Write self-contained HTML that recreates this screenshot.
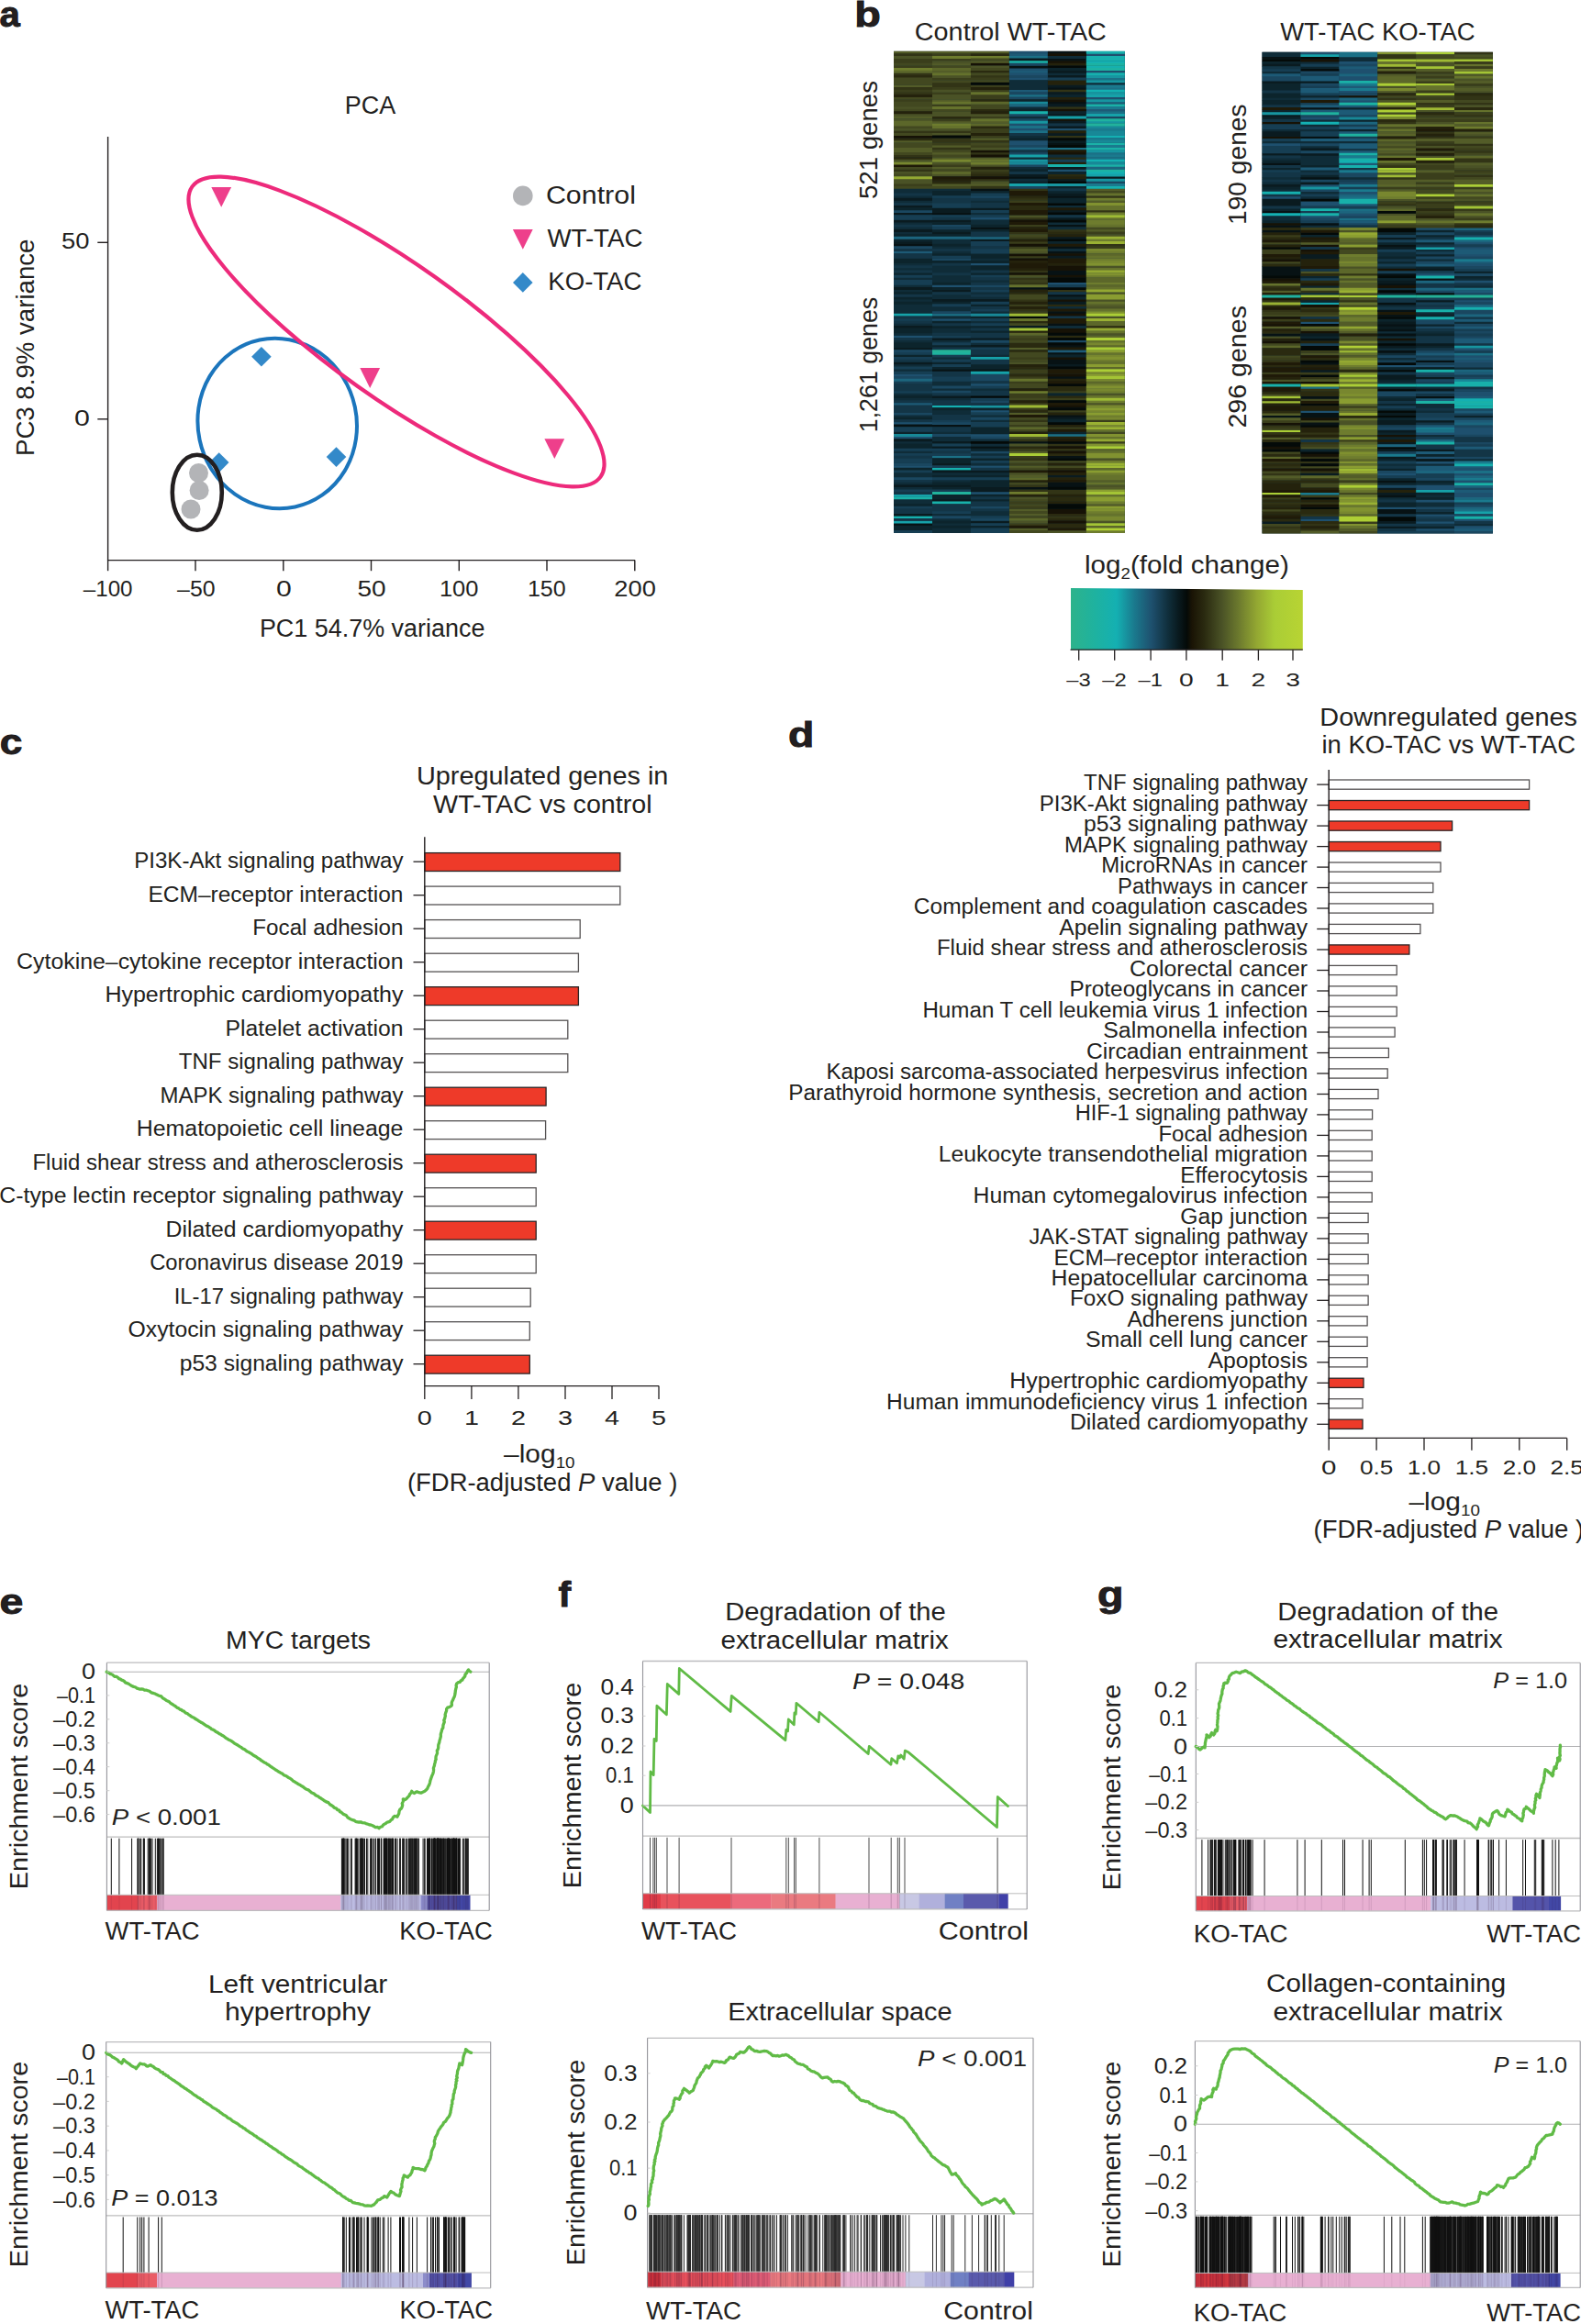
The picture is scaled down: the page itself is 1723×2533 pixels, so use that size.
<!DOCTYPE html>
<html lang="en"><head><meta charset="utf-8"><title>Figure</title>
<style>
html,body{margin:0;padding:0;background:#fff}
svg{display:block}
text{font-family:"Liberation Sans",sans-serif;fill:#231f20}
</style></head><body>
<svg width="1723" height="2533" viewBox="0 0 1723 2533">
<rect width="1723" height="2533" fill="#fff"/>
<text x="-0.5" y="29.2" font-size="38" textLength="22.3" lengthAdjust="spacingAndGlyphs" font-weight="bold" fill="#1a1718" stroke="#1a1718" stroke-width="0.9">a</text>
<text x="403.5" y="124.3" font-size="27" text-anchor="middle" textLength="55.5" lengthAdjust="spacingAndGlyphs">PCA</text>
<path d="M117.6 148.9V610.6H692" fill="none" stroke="#231f20" stroke-width="1.4"/>
<line x1="117.6" y1="610.6" x2="117.6" y2="622.2" stroke="#231f20" stroke-width="1.4"/>
<line x1="213.0" y1="610.6" x2="213.0" y2="622.2" stroke="#231f20" stroke-width="1.4"/>
<line x1="308.8" y1="610.6" x2="308.8" y2="622.2" stroke="#231f20" stroke-width="1.4"/>
<line x1="404.5" y1="610.6" x2="404.5" y2="622.2" stroke="#231f20" stroke-width="1.4"/>
<line x1="500.3" y1="610.6" x2="500.3" y2="622.2" stroke="#231f20" stroke-width="1.4"/>
<line x1="596.0" y1="610.6" x2="596.0" y2="622.2" stroke="#231f20" stroke-width="1.4"/>
<line x1="691.8" y1="610.6" x2="691.8" y2="622.2" stroke="#231f20" stroke-width="1.4"/>
<text x="90.8" y="649.6" font-size="23" textLength="53.7" lengthAdjust="spacingAndGlyphs">–100</text>
<text x="193.1" y="649.6" font-size="23" textLength="41.5" lengthAdjust="spacingAndGlyphs">–50</text>
<text x="300.9" y="649.6" font-size="23" textLength="16.8" lengthAdjust="spacingAndGlyphs">0</text>
<text x="389.4" y="649.6" font-size="23" textLength="31.2" lengthAdjust="spacingAndGlyphs">50</text>
<text x="478.9" y="649.6" font-size="23" textLength="42.5" lengthAdjust="spacingAndGlyphs">100</text>
<text x="574.9" y="649.6" font-size="23" textLength="41.7" lengthAdjust="spacingAndGlyphs">150</text>
<text x="669.3" y="649.6" font-size="23" textLength="45.5" lengthAdjust="spacingAndGlyphs">200</text>
<line x1="106.3" y1="264.3" x2="117.6" y2="264.3" stroke="#231f20" stroke-width="1.4"/>
<line x1="106.3" y1="456.8" x2="117.6" y2="456.8" stroke="#231f20" stroke-width="1.4"/>
<text x="67.1" y="271.3" font-size="23" textLength="30.5" lengthAdjust="spacingAndGlyphs">50</text>
<text x="81.0" y="464.2" font-size="23" textLength="16.9" lengthAdjust="spacingAndGlyphs">0</text>
<text x="282.9" y="693.5" font-size="27" textLength="245.5" lengthAdjust="spacingAndGlyphs">PC1 54.7% variance</text>
<text transform="translate(37.3 378.8) rotate(-90)" font-size="27" text-anchor="middle" textLength="236.5" lengthAdjust="spacingAndGlyphs">PC3 8.9% variance</text>
<path d="M230.3 204.0h21.8L241.2 225.8z" fill="#ee3f8b"/>
<path d="M392.3 401.1h21.8L403.2 422.9z" fill="#ee3f8b"/>
<path d="M593.4 478.3h21.8L604.3 500.1z" fill="#ee3f8b"/>
<path d="M274.1 388.8L284.9 378.0L295.7 388.8L284.9 399.6z" fill="#3389c9"/>
<path d="M355.7 498.1L366.5 487.3L377.3 498.1L366.5 508.9z" fill="#3389c9"/>
<path d="M227.9 504.1L238.7 493.3L249.5 504.1L238.7 514.9z" fill="#3389c9"/>
<circle cx="216.5" cy="515.5" r="10.5" fill="#b3b4b7"/>
<circle cx="217.1" cy="534.5" r="10.5" fill="#b3b4b7"/>
<circle cx="208.0" cy="555.0" r="10.5" fill="#b3b4b7"/>
<ellipse cx="302.2" cy="461.5" rx="86.5" ry="93" transform="rotate(-12 302.2 461.5)" fill="none" stroke="#1b75bc" stroke-width="4"/>
<ellipse cx="432" cy="361.5" rx="273" ry="73" transform="rotate(35.4 432 361.5)" fill="none" stroke="#ed2a7b" stroke-width="4.2"/>
<ellipse cx="214.8" cy="536.7" rx="27" ry="41" fill="none" stroke="#231f20" stroke-width="4.6"/>
<circle cx="569.8" cy="213.4" r="10.8" fill="#b3b4b7"/>
<path d="M558.9 250.0h21.8L569.8 271.8z" fill="#ee3f8b"/>
<path d="M559.0 307.9L569.8 297.1L580.6 307.9L569.8 318.7z" fill="#3389c9"/>
<text x="594.9" y="221.6" font-size="27" textLength="98.0" lengthAdjust="spacingAndGlyphs">Control</text>
<text x="596.4" y="269.0" font-size="27" textLength="104.0" lengthAdjust="spacingAndGlyphs">WT-TAC</text>
<text x="597.3" y="316.0" font-size="27" textLength="102.1" lengthAdjust="spacingAndGlyphs">KO-TAC</text>
<text x="931.2" y="28.5" font-size="38" textLength="28.6" lengthAdjust="spacingAndGlyphs" font-weight="bold" fill="#1a1718" stroke="#1a1718" stroke-width="0.9">b</text>
<text x="996.8" y="44.0" font-size="27" textLength="209.1" lengthAdjust="spacingAndGlyphs">Control WT-TAC</text>
<text x="1395.2" y="43.9" font-size="27" textLength="212.4" lengthAdjust="spacingAndGlyphs">WT-TAC KO-TAC</text>
<rect x="974.0" y="55.9" width="251.8" height="524.9" fill="#10303a"/>
<g fill="none" stroke-width="2.97">
<path stroke="#535c28" d="M974.0 57.21h42.0M1016.0 57.21h42.0M1057.9 57.21h42.0M1057.9 67.71h42.0M1016.0 70.33h42.0M1016.0 78.21h42.0M974.0 93.96h42.0M1016.0 109.70h42.0M974.0 128.07h42.0M1016.0 133.32h42.0M1057.9 133.32h42.0M1057.9 151.69h42.0M974.0 154.32h42.0M1016.0 159.57h42.0M974.0 162.19h42.0M974.0 164.82h42.0M1016.0 167.44h42.0M1016.0 172.69h42.0M1057.9 172.69h42.0M1016.0 183.19h42.0M1016.0 201.56h42.0M1057.9 201.56h42.0M1183.8 206.81h42.0M1183.8 219.93h42.0M1183.8 251.43h42.0M1099.9 272.42h42.0M1183.8 332.78h42.0M1099.9 380.03h42.0M1099.9 450.89h42.0M1099.9 492.88h42.0M1099.9 508.63h42.0M1099.9 519.12h42.0M1183.8 524.37h42.0M1183.8 532.25h42.0M1183.8 550.62h42.0M1099.9 555.87h42.0M1099.9 561.12h42.0M1099.9 576.86h42.0"/>
<path stroke="#1e506e" d="M1099.9 57.21h42.0M1183.8 59.84h42.0M1099.9 75.58h42.0M1183.8 78.21h42.0M1099.9 80.83h42.0M1099.9 86.08h42.0M1183.8 107.08h42.0M1099.9 135.95h42.0M1099.9 141.20h42.0M1141.9 141.20h42.0M1099.9 154.32h42.0M1099.9 156.94h42.0M1141.9 185.81h42.0M1057.9 238.30h42.0M1057.9 288.17h42.0M1141.9 309.16h42.0M1016.0 311.79h42.0M1016.0 348.53h42.0M974.0 366.90h42.0M974.0 408.90h42.0M1057.9 419.39h42.0M1057.9 448.26h42.0M974.0 461.39h42.0M1057.9 474.51h42.0M974.0 477.13h42.0M974.0 508.63h42.0M1057.9 508.63h42.0M1057.9 537.50h42.0"/>
<path stroke="#071214" d="M1141.9 57.21h42.0M1141.9 65.09h42.0M1099.9 72.96h42.0M1141.9 96.58h42.0M1141.9 112.33h42.0M1141.9 156.94h42.0M1099.9 193.69h42.0M1057.9 206.81h42.0M1141.9 214.68h42.0M1016.0 233.05h42.0M1141.9 246.18h42.0M1057.9 248.80h42.0M974.0 267.17h42.0M1141.9 269.80h42.0M1141.9 275.05h42.0M1141.9 296.04h42.0M1141.9 298.67h42.0M1099.9 314.41h42.0M1141.9 322.29h42.0M1141.9 340.66h42.0M1141.9 353.78h42.0M1141.9 377.40h42.0M1141.9 385.27h42.0M1141.9 393.15h42.0M1141.9 395.77h42.0M1016.0 403.65h42.0M1057.9 403.65h42.0M1141.9 411.52h42.0M1141.9 453.51h42.0M974.0 464.01h42.0M1016.0 464.01h42.0M1099.9 482.38h42.0M1057.9 487.63h42.0M1141.9 498.13h42.0M1141.9 527.00h42.0M1141.9 529.62h42.0M1099.9 532.25h42.0M974.0 571.61h42.0"/>
<path stroke="#16b0ae" d="M1183.8 57.21h42.0M1183.8 62.46h42.0M1183.8 65.09h42.0M1183.8 72.96h42.0M1183.8 80.83h42.0M1183.8 204.18h42.0M1016.0 511.25h42.0M974.0 563.74h42.0"/>
<path stroke="#323416" d="M974.0 59.84h42.0M974.0 80.83h42.0M1057.9 83.46h42.0M1016.0 91.33h42.0M1016.0 93.96h42.0M974.0 96.58h42.0M1141.9 99.20h42.0M974.0 101.83h42.0M1141.9 117.58h42.0M974.0 143.82h42.0M1016.0 143.82h42.0M1141.9 149.07h42.0M1016.0 151.69h42.0M1016.0 154.32h42.0M1057.9 154.32h42.0M1016.0 162.19h42.0M1057.9 167.44h42.0M974.0 170.07h42.0M974.0 185.81h42.0M1057.9 188.44h42.0M1057.9 196.31h42.0M1057.9 204.18h42.0M1099.9 206.81h42.0M1183.8 214.68h42.0M1099.9 217.31h42.0M1183.8 230.43h42.0M1099.9 238.30h42.0M1141.9 251.43h42.0M1099.9 254.05h42.0M1183.8 267.17h42.0M1099.9 296.04h42.0M1099.9 303.92h42.0M1099.9 309.16h42.0M1141.9 317.04h42.0M1099.9 327.54h42.0M1099.9 338.03h42.0M1099.9 458.76h42.0M1099.9 479.76h42.0M1141.9 485.01h42.0M1141.9 490.25h42.0M1099.9 500.75h42.0M1099.9 529.62h42.0M1099.9 534.87h42.0M1141.9 534.87h42.0M1141.9 537.50h42.0M1141.9 563.74h42.0"/>
<path stroke="#3a3e1b" d="M1016.0 59.84h42.0M974.0 65.09h42.0M1016.0 65.09h42.0M974.0 67.71h42.0M974.0 72.96h42.0M1016.0 86.08h42.0M1057.9 86.08h42.0M1057.9 93.96h42.0M1016.0 96.58h42.0M974.0 99.20h42.0M1057.9 99.20h42.0M1016.0 101.83h42.0M1057.9 104.45h42.0M1057.9 107.08h42.0M974.0 109.70h42.0M1016.0 114.95h42.0M1057.9 128.07h42.0M1016.0 130.70h42.0M1057.9 141.20h42.0M1057.9 143.82h42.0M1057.9 149.07h42.0M1016.0 156.94h42.0M1057.9 159.57h42.0M1016.0 180.56h42.0M1057.9 185.81h42.0M974.0 201.56h42.0M1099.9 219.93h42.0M1099.9 246.18h42.0M1183.8 254.05h42.0M1099.9 259.30h42.0M1099.9 264.55h42.0M1099.9 269.80h42.0M1183.8 269.80h42.0M1099.9 280.29h42.0M1099.9 306.54h42.0M1099.9 332.78h42.0M1099.9 340.66h42.0M1099.9 369.53h42.0M1099.9 390.52h42.0M1099.9 403.65h42.0M1099.9 406.27h42.0M1099.9 411.52h42.0M1099.9 416.77h42.0M1141.9 427.27h42.0M1099.9 429.89h42.0M1099.9 432.52h42.0M1141.9 435.14h42.0M1099.9 440.39h42.0M1099.9 445.64h42.0M1141.9 448.26h42.0M1183.8 458.76h42.0M1099.9 464.01h42.0M1141.9 466.63h42.0M1183.8 482.38h42.0M1099.9 490.25h42.0M1099.9 498.13h42.0M1099.9 506.00h42.0M1099.9 547.99h42.0M1099.9 553.24h42.0M1099.9 571.61h42.0"/>
<path stroke="#2a2a10" d="M1057.9 59.84h42.0M1057.9 78.21h42.0M974.0 83.46h42.0M1057.9 109.70h42.0M1057.9 120.20h42.0M1016.0 128.07h42.0M1057.9 138.57h42.0M974.0 151.69h42.0M974.0 172.69h42.0M1141.9 172.69h42.0M1057.9 191.06h42.0M1141.9 191.06h42.0M1016.0 198.94h42.0M1099.9 214.68h42.0M1099.9 225.18h42.0M1099.9 227.80h42.0M1141.9 254.05h42.0M1099.9 319.66h42.0M1141.9 332.78h42.0M1099.9 351.16h42.0M1183.8 356.41h42.0M1141.9 366.90h42.0M1099.9 374.78h42.0M1099.9 377.40h42.0M1099.9 382.65h42.0M1099.9 401.02h42.0M1099.9 408.90h42.0M1141.9 422.02h42.0M1141.9 424.64h42.0M1141.9 432.52h42.0M1099.9 448.26h42.0M1099.9 487.63h42.0M1141.9 495.50h42.0M1141.9 511.25h42.0M1141.9 542.74h42.0M1141.9 545.37h42.0M1141.9 561.12h42.0M1141.9 566.37h42.0M1141.9 571.61h42.0M1141.9 574.24h42.0"/>
<path stroke="#1d5a76" d="M1099.9 59.84h42.0M1099.9 78.21h42.0M1099.9 99.20h42.0M1183.8 112.33h42.0M1183.8 120.20h42.0M974.0 275.05h42.0M1141.9 382.65h42.0M974.0 440.39h42.0"/>
<path stroke="#161206" d="M1141.9 59.84h42.0M1141.9 67.71h42.0M1057.9 70.33h42.0M1141.9 109.70h42.0M1141.9 120.20h42.0M1141.9 130.70h42.0M974.0 149.07h42.0M1057.9 164.82h42.0M1141.9 167.44h42.0M1057.9 170.07h42.0M1057.9 193.69h42.0M1099.9 240.93h42.0M1099.9 267.17h42.0M1099.9 277.67h42.0M1141.9 277.67h42.0M1099.9 282.92h42.0M1141.9 290.79h42.0M1141.9 293.42h42.0M1099.9 298.67h42.0M1141.9 301.29h42.0M1141.9 327.54h42.0M1141.9 343.28h42.0M1141.9 359.03h42.0M1141.9 361.65h42.0M1141.9 390.52h42.0M1141.9 408.90h42.0M1141.9 443.01h42.0M1141.9 487.63h42.0M1141.9 492.88h42.0M1141.9 513.88h42.0M1141.9 555.87h42.0M1141.9 558.49h42.0M1141.9 568.99h42.0"/>
<path stroke="#4a5226" d="M974.0 62.46h42.0M1016.0 67.71h42.0M1057.9 72.96h42.0M1016.0 83.46h42.0M1016.0 99.20h42.0M1016.0 104.45h42.0M1016.0 107.08h42.0M974.0 117.58h42.0M1016.0 122.82h42.0M974.0 125.45h42.0M1016.0 125.45h42.0M1057.9 125.45h42.0M974.0 130.70h42.0M974.0 141.20h42.0M1016.0 141.20h42.0M1016.0 146.45h42.0M1057.9 162.19h42.0M974.0 175.31h42.0M1016.0 177.94h42.0M1057.9 180.56h42.0M974.0 188.44h42.0M1016.0 191.06h42.0M974.0 196.31h42.0M974.0 198.94h42.0M1057.9 198.94h42.0M1099.9 235.68h42.0M1183.8 256.67h42.0M1099.9 275.05h42.0M1183.8 290.79h42.0M1099.9 301.29h42.0M1183.8 319.66h42.0M1183.8 327.54h42.0M1183.8 335.41h42.0M1183.8 345.91h42.0M1183.8 364.28h42.0M1099.9 395.77h42.0M1183.8 429.89h42.0M1183.8 440.39h42.0M1099.9 461.39h42.0M1099.9 477.13h42.0M1099.9 485.01h42.0M1183.8 500.75h42.0M1099.9 503.38h42.0M1099.9 516.50h42.0M1183.8 529.62h42.0M1099.9 542.74h42.0M1099.9 568.99h42.0M1183.8 568.99h42.0M1141.9 579.49h42.0"/>
<path stroke="#6e7c2e" d="M1016.0 62.46h42.0M1057.9 62.46h42.0M974.0 75.58h42.0M1016.0 135.95h42.0M1057.9 177.94h42.0M1183.8 217.31h42.0M1183.8 233.05h42.0M1183.8 240.93h42.0M1183.8 243.55h42.0M1183.8 261.92h42.0M1183.8 275.05h42.0M1183.8 282.92h42.0M1183.8 301.29h42.0M1183.8 309.16h42.0M1183.8 393.15h42.0M1183.8 419.39h42.0M1099.9 427.27h42.0M1183.8 427.27h42.0M1183.8 437.76h42.0M1183.8 453.51h42.0M1183.8 503.38h42.0M1183.8 516.50h42.0M1099.9 537.50h42.0M1183.8 547.99h42.0M1183.8 558.49h42.0M1183.8 579.49h42.0"/>
<path stroke="#1b7086" d="M1099.9 62.46h42.0M1183.8 86.08h42.0M1183.8 96.58h42.0M1099.9 104.45h42.0M1183.8 122.82h42.0M1099.9 138.57h42.0M1099.9 143.82h42.0M1141.9 162.19h42.0M1183.8 167.44h42.0M1183.8 172.69h42.0M1016.0 343.28h42.0M1141.9 474.51h42.0M1016.0 498.13h42.0"/>
<path stroke="#0f2c38" d="M1141.9 62.46h42.0M1141.9 80.83h42.0M1099.9 88.71h42.0M1099.9 91.33h42.0M1183.8 91.33h42.0M1099.9 93.96h42.0M1099.9 96.58h42.0M1099.9 117.58h42.0M1099.9 128.07h42.0M1099.9 149.07h42.0M1141.9 170.07h42.0M1099.9 172.69h42.0M1099.9 183.19h42.0M1099.9 196.31h42.0M974.0 206.81h42.0M1016.0 206.81h42.0M974.0 209.43h42.0M974.0 214.68h42.0M974.0 219.93h42.0M1057.9 219.93h42.0M1141.9 225.18h42.0M1057.9 233.05h42.0M1057.9 240.93h42.0M974.0 243.55h42.0M1057.9 243.55h42.0M1141.9 243.55h42.0M974.0 248.80h42.0M1141.9 248.80h42.0M974.0 254.05h42.0M1016.0 261.92h42.0M1016.0 264.55h42.0M1016.0 269.80h42.0M1141.9 272.42h42.0M1016.0 275.05h42.0M1057.9 282.92h42.0M974.0 288.17h42.0M1016.0 290.79h42.0M974.0 293.42h42.0M1016.0 293.42h42.0M1016.0 296.04h42.0M1016.0 301.29h42.0M974.0 303.92h42.0M1016.0 303.92h42.0M1016.0 306.54h42.0M1057.9 306.54h42.0M974.0 311.79h42.0M974.0 317.04h42.0M1057.9 319.66h42.0M1016.0 322.29h42.0M1016.0 324.91h42.0M1057.9 324.91h42.0M974.0 327.54h42.0M974.0 332.78h42.0M974.0 335.41h42.0M1016.0 335.41h42.0M1141.9 335.41h42.0M974.0 338.03h42.0M1016.0 338.03h42.0M974.0 340.66h42.0M1057.9 340.66h42.0M1016.0 345.91h42.0M1057.9 351.16h42.0M974.0 353.78h42.0M1141.9 356.41h42.0M1016.0 359.03h42.0M1016.0 361.65h42.0M974.0 364.28h42.0M974.0 372.15h42.0M1016.0 372.15h42.0M1057.9 374.78h42.0M1057.9 387.90h42.0M1016.0 390.52h42.0M974.0 398.40h42.0M974.0 403.65h42.0M1016.0 416.77h42.0M1016.0 419.39h42.0M1016.0 424.64h42.0M1057.9 424.64h42.0M974.0 429.89h42.0M974.0 435.14h42.0M1016.0 435.14h42.0M1016.0 448.26h42.0M1016.0 450.89h42.0M974.0 453.51h42.0M1057.9 453.51h42.0M1057.9 458.76h42.0M1016.0 471.88h42.0M1016.0 477.13h42.0M1016.0 479.76h42.0M1057.9 479.76h42.0M974.0 482.38h42.0M1057.9 485.01h42.0M974.0 492.88h42.0M1057.9 495.50h42.0M1057.9 506.00h42.0M974.0 516.50h42.0M1016.0 516.50h42.0M1057.9 516.50h42.0M974.0 519.12h42.0M1016.0 524.37h42.0M974.0 527.00h42.0M974.0 532.25h42.0M974.0 545.37h42.0M974.0 547.99h42.0M1057.9 558.49h42.0M1016.0 561.12h42.0M1057.9 561.12h42.0M1016.0 566.37h42.0M1016.0 571.61h42.0M1016.0 576.86h42.0M1016.0 579.49h42.0"/>
<path stroke="#424820" d="M1057.9 65.09h42.0M974.0 70.33h42.0M1016.0 72.96h42.0M1057.9 75.58h42.0M1057.9 80.83h42.0M974.0 86.08h42.0M974.0 88.71h42.0M1016.0 88.71h42.0M1057.9 88.71h42.0M974.0 91.33h42.0M974.0 107.08h42.0M974.0 112.33h42.0M974.0 114.95h42.0M1057.9 114.95h42.0M1057.9 117.58h42.0M974.0 120.20h42.0M1016.0 120.20h42.0M974.0 138.57h42.0M974.0 146.45h42.0M974.0 156.94h42.0M1057.9 156.94h42.0M974.0 159.57h42.0M1016.0 164.82h42.0M974.0 167.44h42.0M1016.0 170.07h42.0M974.0 183.19h42.0M1016.0 185.81h42.0M974.0 191.06h42.0M974.0 204.18h42.0M1016.0 204.18h42.0M1183.8 209.43h42.0M1183.8 248.80h42.0M1099.9 256.67h42.0M1099.9 322.29h42.0M1099.9 324.91h42.0M1099.9 353.78h42.0M1099.9 366.90h42.0M1099.9 372.15h42.0M1099.9 385.27h42.0M1099.9 387.90h42.0M1099.9 393.15h42.0M1099.9 419.39h42.0M1099.9 422.02h42.0M1099.9 435.14h42.0M1099.9 456.14h42.0M1099.9 469.26h42.0M1183.8 471.88h42.0M1141.9 503.38h42.0M1141.9 508.63h42.0M1099.9 511.25h42.0M1099.9 527.00h42.0M1099.9 545.37h42.0M1099.9 550.62h42.0M1099.9 558.49h42.0M1099.9 563.74h42.0M1099.9 579.49h42.0"/>
<path stroke="#0a1b20" d="M1099.9 65.09h42.0M1141.9 78.21h42.0M1141.9 83.46h42.0M1141.9 93.96h42.0M1141.9 101.83h42.0M1141.9 114.95h42.0M1141.9 125.45h42.0M1141.9 133.32h42.0M1141.9 138.57h42.0M1141.9 146.45h42.0M1141.9 154.32h42.0M1141.9 183.19h42.0M1099.9 191.06h42.0M1183.8 193.69h42.0M1141.9 196.31h42.0M1141.9 212.06h42.0M974.0 217.31h42.0M974.0 225.18h42.0M1016.0 227.80h42.0M1057.9 227.80h42.0M1016.0 230.43h42.0M1141.9 230.43h42.0M974.0 233.05h42.0M1141.9 238.30h42.0M974.0 240.93h42.0M1016.0 240.93h42.0M974.0 251.43h42.0M1016.0 254.05h42.0M1141.9 259.30h42.0M1057.9 261.92h42.0M974.0 264.55h42.0M1141.9 280.29h42.0M974.0 314.41h42.0M1016.0 317.04h42.0M1016.0 327.54h42.0M1057.9 327.54h42.0M1141.9 330.16h42.0M974.0 356.41h42.0M1099.9 356.41h42.0M1016.0 369.53h42.0M1057.9 369.53h42.0M1057.9 377.40h42.0M974.0 380.03h42.0M974.0 395.77h42.0M1141.9 398.40h42.0M1016.0 432.52h42.0M1141.9 456.14h42.0M974.0 479.76h42.0M1016.0 482.38h42.0M1016.0 487.63h42.0M1016.0 506.00h42.0M1016.0 513.88h42.0M1057.9 513.88h42.0M1141.9 519.12h42.0M974.0 529.62h42.0M1016.0 529.62h42.0M1057.9 532.25h42.0M1057.9 534.87h42.0M1016.0 545.37h42.0M974.0 561.12h42.0M1057.9 568.99h42.0"/>
<path stroke="#1ab1a7" d="M1099.9 67.71h42.0M1183.8 114.95h42.0M1183.8 156.94h42.0M1183.8 162.19h42.0M1183.8 180.56h42.0M974.0 542.74h42.0"/>
<path stroke="#14b0b2" d="M1183.8 67.71h42.0M1183.8 99.20h42.0M1183.8 149.07h42.0M1183.8 175.31h42.0M1183.8 188.44h42.0M1016.0 443.01h42.0"/>
<path stroke="#1a4760" d="M1099.9 70.33h42.0M1099.9 83.46h42.0M1099.9 101.83h42.0M1099.9 107.08h42.0M1099.9 125.45h42.0M1183.8 128.07h42.0M1099.9 130.70h42.0M1099.9 159.57h42.0M1099.9 167.44h42.0M1099.9 180.56h42.0M1183.8 198.94h42.0M1099.9 204.18h42.0M1057.9 214.68h42.0M974.0 230.43h42.0M1016.0 246.18h42.0M974.0 269.80h42.0M1016.0 282.92h42.0M1057.9 311.79h42.0M1016.0 340.66h42.0M1057.9 372.15h42.0M1141.9 372.15h42.0M974.0 382.65h42.0M1057.9 408.90h42.0M974.0 411.52h42.0M1057.9 411.52h42.0M1057.9 414.14h42.0M1016.0 422.02h42.0M1016.0 427.27h42.0M1057.9 437.76h42.0M974.0 450.89h42.0M1057.9 456.14h42.0M1016.0 461.39h42.0M1016.0 474.51h42.0M1057.9 477.13h42.0M1057.9 492.88h42.0M974.0 506.00h42.0M974.0 521.75h42.0M1057.9 553.24h42.0M1016.0 563.74h42.0M1057.9 566.37h42.0"/>
<path stroke="#24220c" d="M1141.9 70.33h42.0M1141.9 88.71h42.0M1141.9 91.33h42.0M1057.9 96.58h42.0M974.0 104.45h42.0M1141.9 107.08h42.0M974.0 122.82h42.0M1057.9 122.82h42.0M1141.9 143.82h42.0M1057.9 146.45h42.0M1141.9 177.94h42.0M1057.9 183.19h42.0M1141.9 193.69h42.0M1016.0 196.31h42.0M1099.9 248.80h42.0M1141.9 256.67h42.0M1099.9 261.92h42.0M1099.9 285.54h42.0M1141.9 288.17h42.0M1099.9 293.42h42.0M1099.9 317.04h42.0M1099.9 330.16h42.0M1099.9 335.41h42.0M1099.9 361.65h42.0M1099.9 398.40h42.0M1141.9 414.14h42.0M1099.9 424.64h42.0M1099.9 437.76h42.0M1141.9 450.89h42.0M1141.9 464.01h42.0M1099.9 471.88h42.0M1141.9 477.13h42.0M1141.9 506.00h42.0M1141.9 516.50h42.0M1141.9 521.75h42.0M1099.9 524.37h42.0M1099.9 540.12h42.0M1141.9 540.12h42.0M1141.9 547.99h42.0"/>
<path stroke="#1cb2a3" d="M1183.8 70.33h42.0M1183.8 75.58h42.0M1183.8 185.81h42.0"/>
<path stroke="#040a08" d="M1141.9 72.96h42.0M1057.9 91.33h42.0M1016.0 149.07h42.0M1141.9 151.69h42.0M1141.9 159.57h42.0M1141.9 198.94h42.0M1141.9 222.56h42.0M1141.9 233.05h42.0M1141.9 240.93h42.0M1141.9 261.92h42.0M1141.9 303.92h42.0M1141.9 306.54h42.0M1141.9 314.41h42.0M1099.9 345.91h42.0M1141.9 364.28h42.0M1141.9 369.53h42.0M1141.9 374.78h42.0M1141.9 401.02h42.0M1141.9 419.39h42.0M1057.9 432.52h42.0M1141.9 437.76h42.0M1141.9 445.64h42.0M1141.9 461.39h42.0M1057.9 482.38h42.0M1141.9 482.38h42.0M1141.9 500.75h42.0M1141.9 532.25h42.0M1141.9 550.62h42.0M1141.9 553.24h42.0"/>
<path stroke="#5c672a" d="M1016.0 75.58h42.0M974.0 78.21h42.0M1057.9 112.33h42.0M974.0 133.32h42.0M974.0 135.95h42.0M1057.9 135.95h42.0M1016.0 188.44h42.0M1183.8 277.67h42.0M1183.8 303.92h42.0M1183.8 306.54h42.0M1183.8 311.79h42.0M1183.8 351.16h42.0M1183.8 353.78h42.0M1099.9 364.28h42.0M1183.8 366.90h42.0M1183.8 377.40h42.0M1183.8 401.02h42.0M1183.8 416.77h42.0M1099.9 466.63h42.0M1183.8 490.25h42.0M1183.8 511.25h42.0M1099.9 521.75h42.0M1099.9 566.37h42.0M1183.8 574.24h42.0"/>
<path stroke="#0c242c" d="M1141.9 75.58h42.0M1141.9 104.45h42.0M1099.9 109.70h42.0M1099.9 120.20h42.0M1141.9 122.82h42.0M1099.9 151.69h42.0M1099.9 185.81h42.0M1141.9 188.44h42.0M1099.9 198.94h42.0M1141.9 204.18h42.0M1016.0 209.43h42.0M1057.9 209.43h42.0M1141.9 209.43h42.0M1016.0 212.06h42.0M1141.9 217.31h42.0M1141.9 219.93h42.0M974.0 227.80h42.0M1016.0 243.55h42.0M1057.9 246.18h42.0M1016.0 251.43h42.0M1057.9 251.43h42.0M974.0 256.67h42.0M1016.0 256.67h42.0M974.0 261.92h42.0M1141.9 264.55h42.0M1016.0 267.17h42.0M1016.0 277.67h42.0M1057.9 277.67h42.0M1057.9 280.29h42.0M974.0 282.92h42.0M974.0 285.54h42.0M1016.0 285.54h42.0M1057.9 285.54h42.0M1057.9 290.79h42.0M1057.9 293.42h42.0M974.0 298.67h42.0M1057.9 298.67h42.0M1016.0 309.16h42.0M1016.0 314.41h42.0M974.0 319.66h42.0M974.0 324.91h42.0M1141.9 324.91h42.0M974.0 330.16h42.0M1016.0 330.16h42.0M1057.9 332.78h42.0M1057.9 345.91h42.0M1016.0 351.16h42.0M1016.0 356.41h42.0M1057.9 356.41h42.0M974.0 359.03h42.0M974.0 361.65h42.0M1057.9 361.65h42.0M974.0 374.78h42.0M974.0 377.40h42.0M1016.0 377.40h42.0M974.0 387.90h42.0M1141.9 387.90h42.0M1016.0 395.77h42.0M1057.9 398.40h42.0M1016.0 401.02h42.0M1057.9 401.02h42.0M1141.9 429.89h42.0M974.0 432.52h42.0M1016.0 445.64h42.0M1057.9 445.64h42.0M974.0 456.14h42.0M1141.9 458.76h42.0M1057.9 466.63h42.0M1057.9 469.26h42.0M974.0 471.88h42.0M1057.9 471.88h42.0M1141.9 471.88h42.0M974.0 485.01h42.0M974.0 487.63h42.0M1057.9 490.25h42.0M1016.0 500.75h42.0M1057.9 500.75h42.0M1016.0 503.38h42.0M974.0 511.25h42.0M1016.0 519.12h42.0M1057.9 519.12h42.0M1057.9 524.37h42.0M1016.0 527.00h42.0M1057.9 527.00h42.0M1057.9 529.62h42.0M1016.0 532.25h42.0M1016.0 540.12h42.0M1057.9 540.12h42.0M1016.0 542.74h42.0M1057.9 545.37h42.0M974.0 550.62h42.0M1016.0 568.99h42.0M974.0 574.24h42.0M1016.0 574.24h42.0M1057.9 574.24h42.0M974.0 576.86h42.0"/>
<path stroke="#65722c" d="M1016.0 80.83h42.0M1057.9 101.83h42.0M1016.0 112.33h42.0M1016.0 117.58h42.0M1057.9 130.70h42.0M1016.0 138.57h42.0M1057.9 175.31h42.0M1183.8 212.06h42.0M1183.8 225.18h42.0M1183.8 227.80h42.0M1183.8 238.30h42.0M1183.8 246.18h42.0M1183.8 280.29h42.0M1183.8 293.42h42.0M1099.9 311.79h42.0M1183.8 314.41h42.0M1183.8 330.16h42.0M1183.8 338.03h42.0M1099.9 348.53h42.0M1183.8 361.65h42.0M1183.8 372.15h42.0M1183.8 385.27h42.0M1183.8 395.77h42.0M1099.9 414.14h42.0M1183.8 432.52h42.0M1183.8 469.26h42.0M1183.8 477.13h42.0M1183.8 492.88h42.0M1183.8 519.12h42.0M1183.8 521.75h42.0M1183.8 527.00h42.0M1183.8 540.12h42.0M1183.8 561.12h42.0"/>
<path stroke="#1795a0" d="M1183.8 83.46h42.0M1183.8 88.71h42.0M1183.8 101.83h42.0M1183.8 109.70h42.0M1099.9 133.32h42.0M1183.8 133.32h42.0M1183.8 164.82h42.0M1099.9 175.31h42.0M1183.8 196.31h42.0M1141.9 201.56h42.0M1057.9 443.01h42.0"/>
<path stroke="#163e53" d="M1141.9 86.08h42.0M1141.9 175.31h42.0M1057.9 212.06h42.0M1016.0 214.68h42.0M1016.0 222.56h42.0M1016.0 225.18h42.0M1057.9 230.43h42.0M974.0 235.68h42.0M1016.0 235.68h42.0M1057.9 235.68h42.0M974.0 238.30h42.0M1016.0 248.80h42.0M1057.9 264.55h42.0M1057.9 267.17h42.0M1057.9 272.42h42.0M1057.9 275.05h42.0M1016.0 280.29h42.0M974.0 301.29h42.0M1057.9 301.29h42.0M974.0 306.54h42.0M974.0 309.16h42.0M1141.9 311.79h42.0M1057.9 317.04h42.0M1057.9 330.16h42.0M1016.0 332.78h42.0M1057.9 338.03h42.0M974.0 348.53h42.0M1057.9 348.53h42.0M1057.9 353.78h42.0M1016.0 366.90h42.0M1016.0 374.78h42.0M1057.9 380.03h42.0M974.0 385.27h42.0M1016.0 387.90h42.0M974.0 390.52h42.0M1016.0 393.15h42.0M1016.0 398.40h42.0M974.0 401.02h42.0M974.0 406.27h42.0M1016.0 411.52h42.0M1016.0 414.14h42.0M974.0 416.77h42.0M1057.9 422.02h42.0M974.0 427.27h42.0M1057.9 435.14h42.0M1057.9 450.89h42.0M1016.0 458.76h42.0M1057.9 461.39h42.0M1057.9 464.01h42.0M974.0 466.63h42.0M974.0 469.26h42.0M1016.0 485.01h42.0M974.0 490.25h42.0M1016.0 490.25h42.0M974.0 495.50h42.0M1016.0 495.50h42.0M1057.9 498.13h42.0M974.0 500.75h42.0M974.0 503.38h42.0M1057.9 503.38h42.0M1016.0 508.63h42.0M974.0 513.88h42.0M1016.0 521.75h42.0M1057.9 521.75h42.0M974.0 534.87h42.0M1016.0 534.87h42.0M974.0 553.24h42.0M1016.0 558.49h42.0M1057.9 563.74h42.0M1057.9 571.61h42.0M1057.9 576.86h42.0M974.0 579.49h42.0M1057.9 579.49h42.0"/>
<path stroke="#1a7a8e" d="M1183.8 93.96h42.0M1183.8 117.58h42.0M1183.8 141.20h42.0M1183.8 151.69h42.0M1183.8 159.57h42.0M1183.8 170.07h42.0M1183.8 201.56h42.0"/>
<path stroke="#16a2a9" d="M1183.8 104.45h42.0M1183.8 125.45h42.0M1141.9 128.07h42.0M1099.9 170.07h42.0M1183.8 191.06h42.0M1099.9 201.56h42.0M974.0 343.28h42.0M1057.9 390.52h42.0M1057.9 406.27h42.0M974.0 540.12h42.0M974.0 568.99h42.0"/>
<path stroke="#188897" d="M1099.9 112.33h42.0M1183.8 138.57h42.0M1183.8 143.82h42.0M1183.8 146.45h42.0M1183.8 154.32h42.0M1099.9 177.94h42.0M1183.8 177.94h42.0M1057.9 343.28h42.0M974.0 474.51h42.0"/>
<path stroke="#1c657e" d="M1099.9 114.95h42.0M1099.9 162.19h42.0M1183.8 183.19h42.0M974.0 259.30h42.0M1016.0 259.30h42.0M1057.9 259.30h42.0M974.0 414.14h42.0"/>
<path stroke="#18b1aa" d="M1099.9 122.82h42.0M1141.9 180.56h42.0M1016.0 547.99h42.0"/>
<path stroke="#1fb29f" d="M1183.8 130.70h42.0M1016.0 385.27h42.0"/>
<path stroke="#133546" d="M1141.9 135.95h42.0M1099.9 146.45h42.0M1099.9 164.82h42.0M1099.9 188.44h42.0M1141.9 206.81h42.0M974.0 212.06h42.0M1016.0 217.31h42.0M1057.9 217.31h42.0M1016.0 219.93h42.0M974.0 222.56h42.0M1057.9 222.56h42.0M1057.9 225.18h42.0M1141.9 235.68h42.0M1016.0 238.30h42.0M974.0 246.18h42.0M1057.9 254.05h42.0M1057.9 256.67h42.0M1057.9 269.80h42.0M974.0 272.42h42.0M1016.0 272.42h42.0M974.0 277.67h42.0M974.0 280.29h42.0M1016.0 288.17h42.0M974.0 290.79h42.0M974.0 296.04h42.0M1057.9 296.04h42.0M1016.0 298.67h42.0M1057.9 303.92h42.0M1057.9 309.16h42.0M1057.9 314.41h42.0M1016.0 319.66h42.0M1141.9 319.66h42.0M974.0 322.29h42.0M1057.9 322.29h42.0M1057.9 335.41h42.0M974.0 345.91h42.0M1141.9 345.91h42.0M974.0 351.16h42.0M1016.0 353.78h42.0M1057.9 359.03h42.0M1016.0 364.28h42.0M1057.9 364.28h42.0M1057.9 366.90h42.0M974.0 369.53h42.0M1016.0 380.03h42.0M1057.9 382.65h42.0M1057.9 385.27h42.0M974.0 393.15h42.0M1057.9 393.15h42.0M1057.9 395.77h42.0M1016.0 406.27h42.0M1016.0 408.90h42.0M1057.9 416.77h42.0M974.0 419.39h42.0M974.0 422.02h42.0M974.0 424.64h42.0M1057.9 427.27h42.0M1016.0 429.89h42.0M1057.9 429.89h42.0M974.0 437.76h42.0M1016.0 437.76h42.0M1016.0 440.39h42.0M1057.9 440.39h42.0M974.0 443.01h42.0M974.0 445.64h42.0M974.0 448.26h42.0M1016.0 453.51h42.0M1016.0 456.14h42.0M974.0 458.76h42.0M1016.0 466.63h42.0M1016.0 469.26h42.0M1016.0 492.88h42.0M974.0 498.13h42.0M1057.9 511.25h42.0M974.0 524.37h42.0M974.0 537.50h42.0M1057.9 542.74h42.0M1057.9 547.99h42.0M1016.0 550.62h42.0M1057.9 550.62h42.0M1016.0 553.24h42.0M974.0 555.87h42.0M1016.0 555.87h42.0M1057.9 555.87h42.0M974.0 558.49h42.0M974.0 566.37h42.0"/>
<path stroke="#21b29c" d="M1183.8 135.95h42.0M1016.0 537.50h42.0"/>
<path stroke="#1f1a08" d="M1141.9 164.82h42.0M974.0 180.56h42.0M1016.0 193.69h42.0M1099.9 209.43h42.0M1099.9 212.06h42.0M1099.9 222.56h42.0M1141.9 227.80h42.0M1099.9 230.43h42.0M1099.9 233.05h42.0M1099.9 243.55h42.0M1099.9 251.43h42.0M1141.9 267.17h42.0M1141.9 282.92h42.0M1141.9 285.54h42.0M1099.9 288.17h42.0M1099.9 290.79h42.0M1141.9 338.03h42.0M1141.9 348.53h42.0M1141.9 351.16h42.0M1141.9 380.03h42.0M1141.9 403.65h42.0M1141.9 406.27h42.0M1141.9 416.77h42.0M1141.9 440.39h42.0M1099.9 453.51h42.0M1141.9 469.26h42.0M1141.9 479.76h42.0M1099.9 513.88h42.0M1141.9 524.37h42.0M1099.9 574.24h42.0M1141.9 576.86h42.0"/>
<path stroke="#78872f" d="M1016.0 175.31h42.0M974.0 177.94h42.0M1183.8 272.42h42.0M1183.8 285.54h42.0M1183.8 374.78h42.0M1183.8 387.90h42.0M1183.8 406.27h42.0M1183.8 414.14h42.0M1183.8 424.64h42.0M1183.8 443.01h42.0M1183.8 448.26h42.0M1183.8 456.14h42.0M1183.8 464.01h42.0M1183.8 563.74h42.0M1183.8 566.37h42.0"/>
<path stroke="#94a832" d="M974.0 193.69h42.0M1183.8 296.04h42.0M1183.8 317.04h42.0M1183.8 359.03h42.0M1183.8 479.76h42.0"/>
<path stroke="#819230" d="M1183.8 222.56h42.0M1183.8 288.17h42.0M1183.8 298.67h42.0M1183.8 340.66h42.0M1183.8 390.52h42.0M1183.8 422.02h42.0M1183.8 474.51h42.0M1183.8 485.01h42.0M1183.8 495.50h42.0M1183.8 498.13h42.0M1183.8 555.87h42.0"/>
<path stroke="#9fba34" d="M1183.8 235.68h42.0M1099.9 343.28h42.0M1183.8 435.14h42.0M1099.9 443.01h42.0M1099.9 474.51h42.0M1183.8 508.63h42.0"/>
<path stroke="#9ab133" d="M1183.8 259.30h42.0M1183.8 264.55h42.0M1183.8 348.53h42.0M1183.8 461.39h42.0M1183.8 466.63h42.0M1183.8 506.00h42.0"/>
<path stroke="#8a9d31" d="M1183.8 322.29h42.0M1183.8 324.91h42.0M1183.8 382.65h42.0M1183.8 398.40h42.0M1183.8 408.90h42.0M1183.8 445.64h42.0M1183.8 450.89h42.0M1183.8 513.88h42.0M1183.8 534.87h42.0M1183.8 542.74h42.0M1183.8 545.37h42.0M1183.8 553.24h42.0"/>
<path stroke="#acce36" d="M1183.8 343.28h42.0M1183.8 369.53h42.0M1183.8 403.65h42.0M1183.8 487.63h42.0"/>
<path stroke="#a4c435" d="M1099.9 359.03h42.0M1183.8 411.52h42.0M1183.8 537.50h42.0M1183.8 571.61h42.0"/>
<path stroke="#aacd36" d="M1183.8 380.03h42.0M1099.9 495.50h42.0"/>
<path stroke="#24b298" d="M1016.0 382.65h42.0"/>
<path stroke="#b1d035" d="M1183.8 576.86h42.0"/>
</g>
<rect x="1375.5" y="56.8" width="251.4" height="524.6" fill="#10303a"/>
<g fill="none" stroke-width="2.97">
<path stroke="#0f2c38" d="M1375.5 58.11h41.9M1375.5 60.73h41.9M1459.3 63.36h41.9M1459.3 65.98h41.9M1417.4 68.60h41.9M1375.5 79.10h41.9M1375.5 107.95h41.9M1417.4 131.56h41.9M1417.4 136.80h41.9M1375.5 142.05h41.9M1417.4 142.05h41.9M1375.5 155.16h41.9M1417.4 155.16h41.9M1459.3 155.16h41.9M1417.4 160.41h41.9M1417.4 170.90h41.9M1375.5 173.52h41.9M1417.4 173.52h41.9M1417.4 176.15h41.9M1417.4 178.77h41.9M1417.4 186.64h41.9M1375.5 194.51h41.9M1459.3 194.51h41.9M1375.5 199.75h41.9M1375.5 207.62h41.9M1417.4 210.25h41.9M1417.4 215.49h41.9M1375.5 236.48h41.9M1375.5 239.10h41.9M1417.4 246.97h41.9M1543.1 273.20h41.9M1501.2 275.82h41.9M1501.2 278.44h41.9M1543.1 283.69h41.9M1501.2 291.56h41.9M1585.0 304.67h41.9M1585.0 312.54h41.9M1501.2 315.17h41.9M1417.4 320.41h41.9M1501.2 333.53h41.9M1543.1 341.40h41.9M1585.0 351.89h41.9M1501.2 362.38h41.9M1543.1 362.38h41.9M1501.2 367.63h41.9M1501.2 380.74h41.9M1501.2 385.99h41.9M1501.2 391.23h41.9M1585.0 401.72h41.9M1501.2 417.46h41.9M1543.1 422.71h41.9M1501.2 433.20h41.9M1543.1 441.07h41.9M1543.1 443.69h41.9M1501.2 446.32h41.9M1543.1 448.94h41.9M1543.1 475.17h41.9M1585.0 501.40h41.9M1501.2 506.64h41.9M1543.1 506.64h41.9M1543.1 527.63h41.9M1543.1 540.74h41.9M1501.2 543.37h41.9M1543.1 548.61h41.9M1543.1 551.24h41.9M1585.0 572.22h41.9"/>
<path stroke="#1e506e" d="M1417.4 58.11h41.9M1459.3 68.60h41.9M1459.3 76.47h41.9M1459.3 79.10h41.9M1459.3 84.34h41.9M1459.3 86.96h41.9M1459.3 100.08h41.9M1459.3 110.57h41.9M1417.4 128.93h41.9M1375.5 157.79h41.9M1417.4 202.38h41.9M1459.3 210.25h41.9M1375.5 215.49h41.9M1417.4 220.74h41.9M1417.4 223.36h41.9M1459.3 233.85h41.9M1417.4 236.48h41.9M1543.1 249.59h41.9M1585.0 265.33h41.9M1585.0 270.57h41.9M1585.0 278.44h41.9M1585.0 288.94h41.9M1543.1 299.43h41.9M1585.0 307.30h41.9M1585.0 328.28h41.9M1417.4 351.89h41.9M1585.0 380.74h41.9M1585.0 388.61h41.9M1585.0 393.86h41.9M1501.2 399.10h41.9M1543.1 399.10h41.9M1585.0 427.95h41.9M1585.0 430.58h41.9M1417.4 448.94h41.9M1585.0 467.30h41.9M1585.0 469.92h41.9M1543.1 472.55h41.9M1585.0 472.55h41.9M1543.1 498.78h41.9M1543.1 504.02h41.9M1585.0 511.89h41.9M1501.2 517.14h41.9M1585.0 517.14h41.9M1585.0 525.01h41.9M1543.1 530.25h41.9M1543.1 532.87h41.9M1585.0 538.12h41.9M1585.0 540.74h41.9M1543.1 545.99h41.9M1501.2 553.86h41.9M1543.1 561.73h41.9M1417.4 566.97h41.9M1585.0 566.97h41.9M1543.1 569.60h41.9M1585.0 574.84h41.9M1543.1 577.47h41.9"/>
<path stroke="#1b7086" d="M1459.3 58.11h41.9M1459.3 60.73h41.9M1459.3 215.49h41.9M1459.3 228.61h41.9M1459.3 239.10h41.9M1585.0 315.17h41.9M1585.0 385.99h41.9M1417.4 422.71h41.9M1543.1 469.92h41.9M1585.0 514.51h41.9M1585.0 556.48h41.9"/>
<path stroke="#819230" d="M1501.2 58.11h41.9M1459.3 338.77h41.9M1459.3 430.58h41.9M1459.3 467.30h41.9M1459.3 488.28h41.9M1459.3 493.53h41.9M1459.3 504.02h41.9M1459.3 545.99h41.9M1459.3 553.86h41.9M1459.3 556.48h41.9M1459.3 572.22h41.9"/>
<path stroke="#aacd36" d="M1543.1 58.11h41.9M1543.1 102.70h41.9M1501.2 184.02h41.9M1459.3 323.03h41.9M1459.3 409.59h41.9M1375.5 469.92h41.9M1375.5 538.12h41.9"/>
<path stroke="#323416" d="M1585.0 58.11h41.9M1501.2 60.73h41.9M1501.2 63.36h41.9M1501.2 73.85h41.9M1585.0 105.33h41.9M1501.2 107.95h41.9M1585.0 107.95h41.9M1543.1 113.19h41.9M1585.0 113.19h41.9M1585.0 126.31h41.9M1501.2 134.18h41.9M1543.1 144.67h41.9M1543.1 149.92h41.9M1543.1 157.79h41.9M1585.0 157.79h41.9M1585.0 165.65h41.9M1585.0 173.52h41.9M1585.0 176.15h41.9M1501.2 181.39h41.9M1585.0 191.88h41.9M1501.2 194.51h41.9M1543.1 220.74h41.9M1501.2 223.36h41.9M1585.0 228.61h41.9M1543.1 233.85h41.9M1585.0 244.34h41.9M1459.3 299.43h41.9M1375.5 312.54h41.9M1417.4 317.79h41.9M1375.5 328.28h41.9M1459.3 328.28h41.9M1417.4 336.15h41.9M1375.5 338.77h41.9M1375.5 393.86h41.9M1417.4 412.22h41.9M1417.4 425.33h41.9M1375.5 464.68h41.9M1375.5 472.55h41.9M1417.4 472.55h41.9M1417.4 483.04h41.9M1417.4 498.78h41.9M1375.5 504.02h41.9M1417.4 504.02h41.9M1375.5 509.27h41.9M1417.4 514.51h41.9M1375.5 517.14h41.9M1417.4 522.38h41.9M1375.5 548.61h41.9M1417.4 548.61h41.9M1417.4 561.73h41.9M1417.4 572.22h41.9M1375.5 574.84h41.9M1417.4 577.47h41.9"/>
<path stroke="#16a2a9" d="M1417.4 60.73h41.9M1543.1 270.57h41.9M1417.4 330.90h41.9M1543.1 535.50h41.9M1585.0 559.10h41.9"/>
<path stroke="#424820" d="M1543.1 60.73h41.9M1543.1 63.36h41.9M1585.0 63.36h41.9M1501.2 105.33h41.9M1543.1 105.33h41.9M1585.0 110.57h41.9M1501.2 123.69h41.9M1543.1 128.93h41.9M1585.0 128.93h41.9M1501.2 139.42h41.9M1501.2 160.41h41.9M1585.0 160.41h41.9M1543.1 165.65h41.9M1501.2 168.28h41.9M1585.0 168.28h41.9M1501.2 178.77h41.9M1543.1 178.77h41.9M1585.0 184.02h41.9M1585.0 189.26h41.9M1585.0 194.51h41.9M1543.1 207.62h41.9M1543.1 210.25h41.9M1585.0 215.49h41.9M1585.0 223.36h41.9M1501.2 244.34h41.9M1375.5 265.33h41.9M1459.3 273.20h41.9M1459.3 275.82h41.9M1375.5 286.31h41.9M1459.3 333.53h41.9M1375.5 344.02h41.9M1417.4 344.02h41.9M1417.4 359.76h41.9M1375.5 375.49h41.9M1375.5 388.61h41.9M1375.5 430.58h41.9M1417.4 435.82h41.9M1417.4 459.43h41.9M1417.4 477.79h41.9M1375.5 493.53h41.9M1417.4 509.27h41.9M1375.5 514.51h41.9M1375.5 522.38h41.9M1417.4 527.63h41.9M1417.4 530.25h41.9M1459.3 538.12h41.9M1375.5 556.48h41.9M1375.5 572.22h41.9M1459.3 580.09h41.9"/>
<path stroke="#4a5226" d="M1585.0 60.73h41.9M1543.1 68.60h41.9M1543.1 71.23h41.9M1543.1 81.72h41.9M1585.0 81.72h41.9M1585.0 86.96h41.9M1501.2 94.83h41.9M1585.0 94.83h41.9M1585.0 100.08h41.9M1501.2 110.57h41.9M1585.0 115.82h41.9M1543.1 121.06h41.9M1543.1 134.18h41.9M1585.0 147.29h41.9M1501.2 155.16h41.9M1543.1 160.41h41.9M1543.1 170.90h41.9M1585.0 181.39h41.9M1501.2 189.26h41.9M1585.0 210.25h41.9M1501.2 218.11h41.9M1585.0 218.11h41.9M1501.2 225.98h41.9M1585.0 231.23h41.9M1501.2 233.85h41.9M1585.0 236.48h41.9M1543.1 239.10h41.9M1543.1 244.34h41.9M1459.3 252.21h41.9M1459.3 291.56h41.9M1417.4 296.80h41.9M1459.3 304.67h41.9M1459.3 320.41h41.9M1459.3 325.66h41.9M1375.5 367.63h41.9M1459.3 367.63h41.9M1459.3 370.25h41.9M1417.4 385.99h41.9M1375.5 414.84h41.9M1417.4 414.84h41.9M1459.3 459.43h41.9M1459.3 462.05h41.9M1459.3 475.17h41.9M1417.4 488.28h41.9"/>
<path stroke="#071214" d="M1375.5 63.36h41.9M1417.4 118.44h41.9M1417.4 149.92h41.9M1375.5 178.77h41.9M1417.4 194.51h41.9M1375.5 231.23h41.9M1417.4 244.34h41.9M1375.5 246.97h41.9M1375.5 252.21h41.9M1501.2 267.95h41.9M1375.5 291.56h41.9M1375.5 294.18h41.9M1375.5 296.80h41.9M1375.5 299.43h41.9M1501.2 299.43h41.9M1543.1 304.67h41.9M1501.2 309.92h41.9M1543.1 320.41h41.9M1501.2 330.90h41.9M1501.2 338.77h41.9M1501.2 344.02h41.9M1501.2 354.51h41.9M1501.2 359.76h41.9M1375.5 365.00h41.9M1501.2 365.00h41.9M1417.4 370.25h41.9M1501.2 383.36h41.9M1543.1 393.86h41.9M1417.4 396.48h41.9M1417.4 433.20h41.9M1543.1 433.20h41.9M1417.4 451.56h41.9M1375.5 454.18h41.9M1417.4 454.18h41.9M1417.4 462.05h41.9M1501.2 525.01h41.9M1501.2 540.74h41.9M1501.2 556.48h41.9M1501.2 559.10h41.9"/>
<path stroke="#040a08" d="M1417.4 63.36h41.9M1375.5 65.98h41.9M1417.4 76.47h41.9M1417.4 218.11h41.9M1501.2 231.23h41.9M1501.2 249.59h41.9M1501.2 252.21h41.9M1417.4 254.84h41.9M1375.5 270.57h41.9M1375.5 302.05h41.9M1501.2 302.05h41.9M1501.2 317.79h41.9M1501.2 346.64h41.9M1417.4 354.51h41.9M1501.2 375.49h41.9M1417.4 378.12h41.9M1417.4 380.74h41.9M1417.4 393.86h41.9M1501.2 396.48h41.9M1501.2 404.35h41.9M1417.4 409.59h41.9M1501.2 425.33h41.9M1417.4 441.07h41.9M1501.2 448.94h41.9M1501.2 454.18h41.9M1417.4 464.68h41.9M1375.5 483.04h41.9M1375.5 485.66h41.9M1501.2 488.28h41.9M1375.5 490.91h41.9M1417.4 493.53h41.9M1417.4 501.40h41.9M1417.4 506.64h41.9M1417.4 543.37h41.9M1417.4 553.86h41.9M1501.2 564.35h41.9M1501.2 566.97h41.9"/>
<path stroke="#161206" d="M1417.4 65.98h41.9M1459.3 105.33h41.9M1375.5 134.18h41.9M1375.5 149.92h41.9M1375.5 244.34h41.9M1417.4 267.95h41.9M1417.4 273.20h41.9M1375.5 283.69h41.9M1501.2 294.18h41.9M1375.5 304.67h41.9M1501.2 312.54h41.9M1417.4 333.53h41.9M1375.5 346.64h41.9M1375.5 354.51h41.9M1417.4 362.38h41.9M1501.2 370.25h41.9M1375.5 372.87h41.9M1417.4 417.46h41.9M1417.4 456.81h41.9M1375.5 462.05h41.9M1501.2 475.17h41.9M1375.5 488.28h41.9M1417.4 496.15h41.9M1417.4 511.89h41.9M1417.4 551.24h41.9"/>
<path stroke="#a4c435" d="M1501.2 65.98h41.9M1585.0 65.98h41.9M1543.1 73.85h41.9M1585.0 79.10h41.9M1543.1 92.21h41.9M1543.1 173.52h41.9M1585.0 225.98h41.9M1417.4 323.03h41.9M1417.4 420.09h41.9M1375.5 433.20h41.9"/>
<path stroke="#9fba34" d="M1543.1 65.98h41.9M1501.2 71.23h41.9M1543.1 118.44h41.9M1501.2 186.64h41.9M1501.2 191.88h41.9M1459.3 383.36h41.9M1375.5 438.45h41.9M1459.3 511.89h41.9"/>
<path stroke="#0c242c" d="M1375.5 68.60h41.9M1417.4 73.85h41.9M1375.5 92.21h41.9M1375.5 94.83h41.9M1375.5 97.46h41.9M1375.5 102.70h41.9M1375.5 105.33h41.9M1417.4 105.33h41.9M1375.5 110.57h41.9M1375.5 113.19h41.9M1459.3 118.44h41.9M1375.5 121.06h41.9M1375.5 128.93h41.9M1459.3 131.56h41.9M1459.3 142.05h41.9M1375.5 176.15h41.9M1417.4 181.39h41.9M1375.5 184.02h41.9M1417.4 191.88h41.9M1375.5 205.00h41.9M1375.5 228.61h41.9M1375.5 241.72h41.9M1543.1 252.21h41.9M1501.2 254.84h41.9M1417.4 257.46h41.9M1543.1 257.46h41.9M1501.2 265.33h41.9M1543.1 265.33h41.9M1543.1 278.44h41.9M1501.2 281.07h41.9M1501.2 286.31h41.9M1543.1 291.56h41.9M1585.0 296.80h41.9M1417.4 302.05h41.9M1585.0 302.05h41.9M1501.2 304.67h41.9M1417.4 312.54h41.9M1501.2 320.41h41.9M1417.4 328.28h41.9M1543.1 344.02h41.9M1501.2 349.26h41.9M1543.1 354.51h41.9M1543.1 365.00h41.9M1417.4 367.63h41.9M1501.2 372.87h41.9M1543.1 378.12h41.9M1501.2 401.72h41.9M1501.2 414.84h41.9M1501.2 422.71h41.9M1501.2 435.82h41.9M1501.2 441.07h41.9M1585.0 454.18h41.9M1501.2 456.81h41.9M1501.2 472.55h41.9M1501.2 477.79h41.9M1417.4 490.91h41.9M1543.1 496.15h41.9M1501.2 501.40h41.9M1501.2 511.89h41.9M1501.2 522.38h41.9M1543.1 525.01h41.9M1501.2 527.63h41.9M1543.1 538.12h41.9M1543.1 543.37h41.9M1501.2 548.61h41.9M1501.2 551.24h41.9M1543.1 559.10h41.9M1543.1 574.84h41.9"/>
<path stroke="#65722c" d="M1501.2 68.60h41.9M1585.0 71.23h41.9M1585.0 84.34h41.9M1543.1 94.83h41.9M1543.1 97.46h41.9M1501.2 115.82h41.9M1585.0 121.06h41.9M1585.0 134.18h41.9M1501.2 136.80h41.9M1543.1 136.80h41.9M1501.2 142.05h41.9M1501.2 170.90h41.9M1501.2 176.15h41.9M1585.0 212.87h41.9M1585.0 233.85h41.9M1543.1 241.72h41.9M1459.3 260.08h41.9M1459.3 281.07h41.9M1459.3 283.69h41.9M1459.3 307.30h41.9M1375.5 309.92h41.9M1417.4 315.17h41.9M1459.3 330.90h41.9M1459.3 359.76h41.9M1459.3 380.74h41.9M1459.3 385.99h41.9M1459.3 417.46h41.9M1459.3 448.94h41.9M1459.3 456.81h41.9M1459.3 490.91h41.9M1459.3 506.64h41.9M1459.3 522.38h41.9M1459.3 535.50h41.9M1459.3 574.84h41.9"/>
<path stroke="#3a3e1b" d="M1585.0 68.60h41.9M1585.0 73.85h41.9M1543.1 79.10h41.9M1543.1 84.34h41.9M1543.1 89.59h41.9M1585.0 92.21h41.9M1543.1 100.08h41.9M1543.1 107.95h41.9M1543.1 115.82h41.9M1585.0 123.69h41.9M1543.1 126.31h41.9M1543.1 131.56h41.9M1585.0 131.56h41.9M1585.0 149.92h41.9M1543.1 155.16h41.9M1585.0 163.03h41.9M1543.1 181.39h41.9M1543.1 184.02h41.9M1585.0 186.64h41.9M1543.1 189.26h41.9M1543.1 191.88h41.9M1543.1 194.51h41.9M1543.1 199.75h41.9M1501.2 205.00h41.9M1543.1 205.00h41.9M1585.0 205.00h41.9M1543.1 215.49h41.9M1501.2 220.74h41.9M1585.0 220.74h41.9M1543.1 223.36h41.9M1543.1 225.98h41.9M1543.1 231.23h41.9M1585.0 239.10h41.9M1501.2 246.97h41.9M1543.1 246.97h41.9M1417.4 249.59h41.9M1375.5 257.46h41.9M1459.3 270.57h41.9M1375.5 273.20h41.9M1375.5 275.82h41.9M1375.5 341.40h41.9M1417.4 341.40h41.9M1375.5 349.26h41.9M1417.4 383.36h41.9M1375.5 391.23h41.9M1375.5 406.97h41.9M1417.4 406.97h41.9M1459.3 443.69h41.9M1375.5 459.43h41.9M1375.5 467.30h41.9M1459.3 480.41h41.9M1417.4 485.66h41.9M1459.3 525.01h41.9M1417.4 540.74h41.9M1375.5 543.37h41.9M1459.3 569.60h41.9M1375.5 577.47h41.9M1375.5 580.09h41.9"/>
<path stroke="#0a1b20" d="M1375.5 71.23h41.9M1375.5 89.59h41.9M1417.4 89.59h41.9M1375.5 126.31h41.9M1375.5 144.67h41.9M1375.5 147.29h41.9M1417.4 163.03h41.9M1375.5 168.28h41.9M1417.4 168.28h41.9M1417.4 199.75h41.9M1375.5 202.38h41.9M1375.5 218.11h41.9M1375.5 220.74h41.9M1375.5 223.36h41.9M1501.2 260.08h41.9M1501.2 270.57h41.9M1417.4 278.44h41.9M1417.4 281.07h41.9M1543.1 294.18h41.9M1501.2 307.30h41.9M1543.1 328.28h41.9M1501.2 351.89h41.9M1501.2 357.13h41.9M1417.4 365.00h41.9M1543.1 375.49h41.9M1501.2 378.12h41.9M1543.1 401.72h41.9M1417.4 404.35h41.9M1501.2 409.59h41.9M1501.2 412.22h41.9M1543.1 412.22h41.9M1543.1 425.33h41.9M1501.2 451.56h41.9M1501.2 459.43h41.9M1543.1 459.43h41.9M1501.2 462.05h41.9M1501.2 469.92h41.9M1501.2 483.04h41.9M1501.2 490.91h41.9M1543.1 490.91h41.9M1501.2 498.78h41.9M1543.1 501.40h41.9M1417.4 517.14h41.9M1501.2 532.87h41.9M1501.2 538.12h41.9M1375.5 569.60h41.9M1501.2 569.60h41.9M1501.2 574.84h41.9"/>
<path stroke="#163e53" d="M1417.4 71.23h41.9M1375.5 76.47h41.9M1417.4 81.72h41.9M1417.4 94.83h41.9M1417.4 102.70h41.9M1417.4 113.19h41.9M1375.5 136.80h41.9M1459.3 136.80h41.9M1375.5 139.42h41.9M1417.4 139.42h41.9M1417.4 144.67h41.9M1417.4 147.29h41.9M1459.3 149.92h41.9M1375.5 152.54h41.9M1375.5 160.41h41.9M1375.5 163.03h41.9M1375.5 165.65h41.9M1375.5 186.64h41.9M1459.3 197.13h41.9M1459.3 205.00h41.9M1417.4 212.87h41.9M1417.4 225.98h41.9M1459.3 225.98h41.9M1417.4 231.23h41.9M1417.4 241.72h41.9M1585.0 252.21h41.9M1501.2 257.46h41.9M1501.2 262.71h41.9M1585.0 267.95h41.9M1501.2 273.20h41.9M1543.1 275.82h41.9M1501.2 288.94h41.9M1585.0 294.18h41.9M1501.2 296.80h41.9M1543.1 296.80h41.9M1417.4 304.67h41.9M1543.1 325.66h41.9M1585.0 325.66h41.9M1543.1 330.90h41.9M1543.1 336.15h41.9M1585.0 359.76h41.9M1585.0 365.00h41.9M1417.4 375.49h41.9M1585.0 383.36h41.9M1543.1 388.61h41.9M1501.2 393.86h41.9M1543.1 396.48h41.9M1543.1 409.59h41.9M1585.0 409.59h41.9M1543.1 417.46h41.9M1501.2 443.69h41.9M1543.1 451.56h41.9M1585.0 451.56h41.9M1543.1 454.18h41.9M1501.2 464.68h41.9M1543.1 477.79h41.9M1585.0 485.66h41.9M1501.2 493.53h41.9M1501.2 504.02h41.9M1543.1 517.14h41.9M1501.2 519.76h41.9M1543.1 519.76h41.9M1585.0 548.61h41.9M1543.1 564.35h41.9M1501.2 580.09h41.9M1543.1 580.09h41.9"/>
<path stroke="#1a4760" d="M1459.3 71.23h41.9M1417.4 79.10h41.9M1375.5 84.34h41.9M1375.5 86.96h41.9M1417.4 92.21h41.9M1459.3 102.70h41.9M1417.4 107.95h41.9M1417.4 126.31h41.9M1459.3 126.31h41.9M1417.4 157.79h41.9M1417.4 165.65h41.9M1459.3 189.26h41.9M1459.3 191.88h41.9M1417.4 197.13h41.9M1459.3 199.75h41.9M1417.4 207.62h41.9M1459.3 236.48h41.9M1417.4 239.10h41.9M1459.3 244.34h41.9M1543.1 254.84h41.9M1585.0 257.46h41.9M1543.1 281.07h41.9M1585.0 281.07h41.9M1543.1 286.31h41.9M1585.0 291.56h41.9M1585.0 299.43h41.9M1543.1 317.79h41.9M1585.0 320.41h41.9M1585.0 330.90h41.9M1585.0 338.77h41.9M1585.0 341.40h41.9M1543.1 349.26h41.9M1543.1 351.89h41.9M1585.0 354.51h41.9M1543.1 357.13h41.9M1585.0 362.38h41.9M1585.0 367.63h41.9M1543.1 383.36h41.9M1501.2 388.61h41.9M1543.1 391.23h41.9M1585.0 396.48h41.9M1585.0 399.10h41.9M1543.1 406.97h41.9M1585.0 412.22h41.9M1543.1 414.84h41.9M1585.0 425.33h41.9M1501.2 427.95h41.9M1543.1 427.95h41.9M1501.2 430.58h41.9M1585.0 446.32h41.9M1543.1 456.81h41.9M1585.0 456.81h41.9M1585.0 464.68h41.9M1501.2 467.30h41.9M1585.0 475.17h41.9M1585.0 483.04h41.9M1585.0 498.78h41.9M1501.2 514.51h41.9M1543.1 522.38h41.9M1501.2 530.25h41.9M1585.0 532.87h41.9M1585.0 551.24h41.9M1543.1 553.86h41.9M1585.0 561.73h41.9M1585.0 580.09h41.9"/>
<path stroke="#133546" d="M1375.5 73.85h41.9M1375.5 100.08h41.9M1375.5 115.82h41.9M1375.5 131.56h41.9M1459.3 163.03h41.9M1375.5 170.90h41.9M1375.5 181.39h41.9M1459.3 184.02h41.9M1375.5 189.26h41.9M1417.4 189.26h41.9M1375.5 191.88h41.9M1375.5 197.13h41.9M1375.5 212.87h41.9M1375.5 225.98h41.9M1459.3 246.97h41.9M1585.0 254.84h41.9M1543.1 260.08h41.9M1543.1 267.95h41.9M1417.4 270.57h41.9M1501.2 283.69h41.9M1417.4 294.18h41.9M1543.1 309.92h41.9M1585.0 309.92h41.9M1543.1 312.54h41.9M1501.2 325.66h41.9M1501.2 328.28h41.9M1543.1 333.53h41.9M1501.2 336.15h41.9M1417.4 346.64h41.9M1585.0 346.64h41.9M1543.1 359.76h41.9M1543.1 367.63h41.9M1543.1 370.25h41.9M1543.1 372.87h41.9M1585.0 375.49h41.9M1543.1 380.74h41.9M1501.2 406.97h41.9M1585.0 422.71h41.9M1543.1 430.58h41.9M1501.2 438.45h41.9M1543.1 446.32h41.9M1543.1 462.05h41.9M1585.0 477.79h41.9M1417.4 480.41h41.9M1585.0 480.41h41.9M1543.1 485.66h41.9M1543.1 488.28h41.9M1585.0 490.91h41.9M1585.0 493.53h41.9M1585.0 496.15h41.9M1501.2 509.27h41.9M1501.2 545.99h41.9M1543.1 556.48h41.9M1501.2 561.73h41.9M1417.4 564.35h41.9M1543.1 566.97h41.9M1585.0 569.60h41.9M1501.2 572.22h41.9M1543.1 572.22h41.9M1501.2 577.47h41.9"/>
<path stroke="#1d5a76" d="M1459.3 73.85h41.9M1375.5 81.72h41.9M1417.4 84.34h41.9M1417.4 86.96h41.9M1459.3 94.83h41.9M1417.4 97.46h41.9M1417.4 100.08h41.9M1417.4 115.82h41.9M1459.3 115.82h41.9M1417.4 121.06h41.9M1459.3 121.06h41.9M1459.3 123.69h41.9M1459.3 139.42h41.9M1459.3 144.67h41.9M1417.4 152.54h41.9M1459.3 152.54h41.9M1459.3 157.79h41.9M1459.3 160.41h41.9M1459.3 165.65h41.9M1459.3 178.77h41.9M1417.4 184.02h41.9M1459.3 223.36h41.9M1459.3 241.72h41.9M1543.1 262.71h41.9M1585.0 273.20h41.9M1585.0 275.82h41.9M1585.0 286.31h41.9M1543.1 288.94h41.9M1585.0 317.79h41.9M1585.0 349.26h41.9M1585.0 357.13h41.9M1585.0 370.25h41.9M1585.0 372.87h41.9M1543.1 385.99h41.9M1585.0 391.23h41.9M1585.0 406.97h41.9M1585.0 433.20h41.9M1543.1 435.82h41.9M1585.0 448.94h41.9M1585.0 459.43h41.9M1543.1 464.68h41.9M1585.0 488.28h41.9M1543.1 493.53h41.9M1543.1 509.27h41.9M1585.0 509.27h41.9M1543.1 511.89h41.9M1585.0 535.50h41.9M1585.0 577.47h41.9"/>
<path stroke="#5c672a" d="M1501.2 76.47h41.9M1501.2 84.34h41.9M1501.2 86.96h41.9M1501.2 89.59h41.9M1501.2 147.29h41.9M1501.2 152.54h41.9M1501.2 163.03h41.9M1585.0 170.90h41.9M1501.2 202.38h41.9M1585.0 207.62h41.9M1501.2 228.61h41.9M1501.2 236.48h41.9M1501.2 239.10h41.9M1459.3 262.71h41.9M1459.3 294.18h41.9M1459.3 296.80h41.9M1459.3 344.02h41.9M1417.4 357.13h41.9M1375.5 378.12h41.9M1459.3 401.72h41.9M1459.3 441.07h41.9M1459.3 446.32h41.9M1459.3 483.04h41.9M1375.5 498.78h41.9M1459.3 501.40h41.9M1459.3 517.14h41.9M1417.4 519.76h41.9M1459.3 561.73h41.9"/>
<path stroke="#535c28" d="M1543.1 76.47h41.9M1501.2 81.72h41.9M1543.1 86.96h41.9M1585.0 89.59h41.9M1585.0 97.46h41.9M1501.2 100.08h41.9M1543.1 110.57h41.9M1585.0 136.80h41.9M1501.2 144.67h41.9M1585.0 144.67h41.9M1543.1 152.54h41.9M1585.0 152.54h41.9M1585.0 155.16h41.9M1501.2 157.79h41.9M1501.2 165.65h41.9M1585.0 178.77h41.9M1543.1 186.64h41.9M1501.2 197.13h41.9M1543.1 197.13h41.9M1585.0 197.13h41.9M1501.2 199.75h41.9M1585.0 199.75h41.9M1543.1 202.38h41.9M1501.2 207.62h41.9M1543.1 218.11h41.9M1417.4 265.33h41.9M1459.3 265.33h41.9M1459.3 309.92h41.9M1459.3 312.54h41.9M1375.5 317.79h41.9M1459.3 351.89h41.9M1459.3 354.51h41.9M1375.5 357.13h41.9M1459.3 362.38h41.9M1459.3 375.49h41.9M1459.3 388.61h41.9M1459.3 422.71h41.9M1375.5 451.56h41.9M1375.5 456.81h41.9M1375.5 477.79h41.9M1375.5 519.76h41.9M1459.3 519.76h41.9M1459.3 577.47h41.9M1417.4 580.09h41.9"/>
<path stroke="#6e7c2e" d="M1585.0 76.47h41.9M1585.0 139.42h41.9M1501.2 215.49h41.9M1585.0 241.72h41.9M1459.3 278.44h41.9M1459.3 288.94h41.9M1459.3 302.05h41.9M1459.3 346.64h41.9M1459.3 349.26h41.9M1459.3 399.10h41.9M1459.3 412.22h41.9M1459.3 433.20h41.9M1459.3 469.92h41.9M1459.3 472.55h41.9M1459.3 485.66h41.9M1459.3 498.78h41.9M1459.3 527.63h41.9M1459.3 540.74h41.9M1459.3 551.24h41.9"/>
<path stroke="#24220c" d="M1501.2 79.10h41.9M1501.2 118.44h41.9M1543.1 139.42h41.9M1585.0 142.05h41.9M1543.1 147.29h41.9M1501.2 149.92h41.9M1543.1 168.28h41.9M1543.1 176.15h41.9M1543.1 236.48h41.9M1375.5 254.84h41.9M1417.4 262.71h41.9M1375.5 267.95h41.9M1375.5 281.07h41.9M1417.4 283.69h41.9M1417.4 286.31h41.9M1417.4 288.94h41.9M1375.5 320.41h41.9M1375.5 359.76h41.9M1459.3 365.00h41.9M1375.5 370.25h41.9M1417.4 372.87h41.9M1417.4 399.10h41.9M1375.5 412.22h41.9M1375.5 441.07h41.9M1417.4 443.69h41.9M1417.4 446.32h41.9M1417.4 467.30h41.9M1417.4 469.92h41.9M1375.5 475.17h41.9M1417.4 475.17h41.9M1375.5 527.63h41.9M1375.5 530.25h41.9M1375.5 532.87h41.9M1417.4 532.87h41.9M1501.2 535.50h41.9M1417.4 545.99h41.9M1375.5 553.86h41.9M1375.5 561.73h41.9M1417.4 574.84h41.9"/>
<path stroke="#1c657e" d="M1459.3 81.72h41.9M1459.3 107.95h41.9M1459.3 134.18h41.9M1459.3 212.87h41.9M1459.3 231.23h41.9M1585.0 249.59h41.9M1585.0 262.71h41.9M1543.1 307.30h41.9M1543.1 315.17h41.9M1585.0 333.53h41.9M1585.0 344.02h41.9M1585.0 404.35h41.9M1585.0 462.05h41.9M1543.1 480.41h41.9M1501.2 485.66h41.9M1543.1 514.51h41.9M1585.0 519.76h41.9M1585.0 530.25h41.9M1585.0 543.37h41.9M1585.0 553.86h41.9"/>
<path stroke="#1ab1a7" d="M1459.3 89.59h41.9M1459.3 168.28h41.9M1459.3 173.52h41.9M1501.2 420.09h41.9M1585.0 438.45h41.9M1543.1 483.04h41.9M1585.0 527.63h41.9"/>
<path stroke="#1a7a8e" d="M1459.3 92.21h41.9M1459.3 97.46h41.9M1459.3 170.90h41.9M1459.3 186.64h41.9M1459.3 202.38h41.9M1459.3 207.62h41.9M1585.0 283.69h41.9M1543.1 467.30h41.9M1501.2 496.15h41.9M1585.0 504.02h41.9M1585.0 522.38h41.9M1417.4 538.12h41.9M1585.0 545.99h41.9"/>
<path stroke="#acce36" d="M1501.2 92.21h41.9M1501.2 113.19h41.9M1501.2 126.31h41.9M1585.0 202.38h41.9M1459.3 420.09h41.9"/>
<path stroke="#78872f" d="M1501.2 97.46h41.9M1501.2 128.93h41.9M1501.2 210.25h41.9M1501.2 212.87h41.9M1459.3 249.59h41.9M1459.3 286.31h41.9M1459.3 372.87h41.9M1459.3 391.23h41.9M1459.3 406.97h41.9M1459.3 425.33h41.9M1459.3 427.95h41.9M1459.3 464.68h41.9M1459.3 496.15h41.9M1459.3 532.87h41.9M1459.3 559.10h41.9"/>
<path stroke="#2a2a10" d="M1501.2 102.70h41.9M1585.0 102.70h41.9M1585.0 118.44h41.9M1543.1 123.69h41.9M1501.2 131.56h41.9M1543.1 228.61h41.9M1585.0 246.97h41.9M1375.5 249.59h41.9M1375.5 260.08h41.9M1375.5 288.94h41.9M1417.4 299.43h41.9M1417.4 307.30h41.9M1375.5 315.17h41.9M1417.4 325.66h41.9M1375.5 333.53h41.9M1417.4 338.77h41.9M1417.4 349.26h41.9M1375.5 362.38h41.9M1375.5 380.74h41.9M1375.5 383.36h41.9M1375.5 385.99h41.9M1417.4 391.23h41.9M1375.5 399.10h41.9M1459.3 404.35h41.9M1375.5 427.95h41.9M1417.4 427.95h41.9M1417.4 430.58h41.9M1375.5 435.82h41.9M1375.5 448.94h41.9M1459.3 454.18h41.9M1375.5 480.41h41.9M1375.5 496.15h41.9M1375.5 506.64h41.9M1375.5 525.01h41.9M1417.4 525.01h41.9M1375.5 545.99h41.9M1375.5 551.24h41.9M1417.4 556.48h41.9M1375.5 559.10h41.9M1417.4 559.10h41.9M1375.5 566.97h41.9M1417.4 569.60h41.9"/>
<path stroke="#1f1a08" d="M1417.4 110.57h41.9M1375.5 118.44h41.9M1543.1 142.05h41.9M1543.1 163.03h41.9M1501.2 173.52h41.9M1417.4 252.21h41.9M1417.4 260.08h41.9M1375.5 262.71h41.9M1417.4 275.82h41.9M1375.5 278.44h41.9M1417.4 291.56h41.9M1375.5 307.30h41.9M1417.4 309.92h41.9M1375.5 325.66h41.9M1375.5 336.15h41.9M1501.2 341.40h41.9M1375.5 351.89h41.9M1417.4 388.61h41.9M1375.5 396.48h41.9M1375.5 401.72h41.9M1417.4 401.72h41.9M1375.5 404.35h41.9M1375.5 409.59h41.9M1375.5 417.46h41.9M1375.5 422.71h41.9M1375.5 425.33h41.9M1417.4 438.45h41.9M1375.5 443.69h41.9M1375.5 446.32h41.9M1501.2 480.41h41.9M1375.5 501.40h41.9M1375.5 511.89h41.9M1375.5 535.50h41.9M1417.4 535.50h41.9M1375.5 540.74h41.9M1375.5 564.35h41.9"/>
<path stroke="#1cb2a3" d="M1459.3 113.19h41.9M1543.1 438.45h41.9"/>
<path stroke="#aecf35" d="M1501.2 121.06h41.9M1543.1 212.87h41.9M1459.3 530.25h41.9M1459.3 564.35h41.9M1459.3 566.97h41.9"/>
<path stroke="#1795a0" d="M1375.5 123.69h41.9M1417.4 205.00h41.9M1585.0 378.12h41.9"/>
<path stroke="#1fb29f" d="M1417.4 123.69h41.9M1459.3 147.29h41.9M1375.5 323.03h41.9"/>
<path stroke="#188897" d="M1459.3 128.93h41.9M1585.0 414.84h41.9"/>
<path stroke="#14b0b2" d="M1417.4 134.18h41.9M1459.3 176.15h41.9M1375.5 233.85h41.9M1585.0 435.82h41.9"/>
<path stroke="#16b0ae" d="M1459.3 181.39h41.9M1375.5 210.25h41.9M1585.0 260.08h41.9M1585.0 336.15h41.9M1543.1 346.64h41.9M1585.0 441.07h41.9M1585.0 506.64h41.9"/>
<path stroke="#18b1aa" d="M1459.3 218.11h41.9M1459.3 220.74h41.9M1417.4 228.61h41.9M1417.4 233.85h41.9M1543.1 302.05h41.9M1543.1 338.77h41.9M1543.1 404.35h41.9M1585.0 417.46h41.9M1375.5 420.09h41.9M1543.1 420.09h41.9M1585.0 420.09h41.9M1585.0 443.69h41.9M1585.0 564.35h41.9"/>
<path stroke="#8a9d31" d="M1501.2 241.72h41.9M1459.3 257.46h41.9M1459.3 267.95h41.9M1459.3 315.17h41.9M1459.3 341.40h41.9M1459.3 396.48h41.9M1459.3 435.82h41.9M1459.3 438.45h41.9M1459.3 477.79h41.9M1459.3 509.27h41.9M1459.3 543.37h41.9"/>
<path stroke="#94a832" d="M1459.3 254.84h41.9M1459.3 357.13h41.9M1459.3 393.86h41.9M1459.3 451.56h41.9M1459.3 514.51h41.9"/>
<path stroke="#9ab133" d="M1459.3 317.79h41.9M1375.5 330.90h41.9M1459.3 414.84h41.9M1459.3 548.61h41.9"/>
<path stroke="#21b29c" d="M1501.2 323.03h41.9"/>
<path stroke="#24b298" d="M1543.1 323.03h41.9M1585.0 323.03h41.9"/>
<path stroke="#b5d234" d="M1459.3 336.15h41.9"/>
<path stroke="#b1d035" d="M1459.3 378.12h41.9"/>
</g>
<text transform="translate(956.3 152.5) rotate(-90)" font-size="27" text-anchor="middle" textLength="129.0" lengthAdjust="spacingAndGlyphs">521 genes</text>
<text transform="translate(956.3 397.5) rotate(-90)" font-size="27" text-anchor="middle" textLength="147.5" lengthAdjust="spacingAndGlyphs">1,261 genes</text>
<text transform="translate(1357.5 179.2) rotate(-90)" font-size="27" text-anchor="middle" textLength="131.5" lengthAdjust="spacingAndGlyphs">190 genes</text>
<text transform="translate(1357.5 399.8) rotate(-90)" font-size="27" text-anchor="middle" textLength="133.5" lengthAdjust="spacingAndGlyphs">296 genes</text>
<defs><linearGradient id="cb" x1="0" x2="1" y1="0" y2="0">
<stop offset="0.0000" stop-color="#2db38b"/>
<stop offset="0.1061" stop-color="#1eb2a0"/>
<stop offset="0.1970" stop-color="#14b0b2"/>
<stop offset="0.2727" stop-color="#1a7a8e"/>
<stop offset="0.3485" stop-color="#1e506e"/>
<stop offset="0.4242" stop-color="#0f2c38"/>
<stop offset="0.5000" stop-color="#040a08"/>
<stop offset="0.5227" stop-color="#1a1405"/>
<stop offset="0.5758" stop-color="#2a2a10"/>
<stop offset="0.6515" stop-color="#4a5226"/>
<stop offset="0.7273" stop-color="#6e7c2e"/>
<stop offset="0.8030" stop-color="#94a832"/>
<stop offset="0.8788" stop-color="#aacd36"/>
<stop offset="1.0000" stop-color="#b8d433"/>
</linearGradient></defs>
<path d="M1167 641L1419.8 643V708.2H1167z" fill="url(#cb)"/>
<line x1="1166.5" y1="708.2" x2="1419.8" y2="708.2" stroke="#231f20" stroke-width="1.3"/>
<line x1="1175.7" y1="708.2" x2="1175.7" y2="719.8" stroke="#231f20" stroke-width="1.3"/>
<text x="1175.4" y="747.5" font-size="21" text-anchor="middle" textLength="26.4" lengthAdjust="spacingAndGlyphs">–3</text>
<line x1="1214.7" y1="708.2" x2="1214.7" y2="719.8" stroke="#231f20" stroke-width="1.3"/>
<text x="1214.4" y="747.5" font-size="21" text-anchor="middle" textLength="26.4" lengthAdjust="spacingAndGlyphs">–2</text>
<line x1="1254.1" y1="708.2" x2="1254.1" y2="719.8" stroke="#231f20" stroke-width="1.3"/>
<text x="1253.8" y="747.5" font-size="21" text-anchor="middle" textLength="26.4" lengthAdjust="spacingAndGlyphs">–1</text>
<line x1="1292.9" y1="708.2" x2="1292.9" y2="719.8" stroke="#231f20" stroke-width="1.3"/>
<text x="1292.9" y="747.5" font-size="21" text-anchor="middle" textLength="15.7" lengthAdjust="spacingAndGlyphs">0</text>
<line x1="1332.2" y1="708.2" x2="1332.2" y2="719.8" stroke="#231f20" stroke-width="1.3"/>
<text x="1332.2" y="747.5" font-size="21" text-anchor="middle" textLength="15.7" lengthAdjust="spacingAndGlyphs">1</text>
<line x1="1371.4" y1="708.2" x2="1371.4" y2="719.8" stroke="#231f20" stroke-width="1.3"/>
<text x="1371.4" y="747.5" font-size="21" text-anchor="middle" textLength="15.7" lengthAdjust="spacingAndGlyphs">2</text>
<line x1="1409.0" y1="708.2" x2="1409.0" y2="719.8" stroke="#231f20" stroke-width="1.3"/>
<text x="1409.0" y="747.5" font-size="21" text-anchor="middle" textLength="15.7" lengthAdjust="spacingAndGlyphs">3</text>
<text x="1182.0" y="625.3" font-size="27" textLength="222.8" lengthAdjust="spacingAndGlyphs">log<tspan font-size="17" dy="6">2</tspan><tspan dy="-6">(fold change)</tspan></text>
<text x="-0.3" y="822.3" font-size="38" textLength="24.6" lengthAdjust="spacingAndGlyphs" font-weight="bold" fill="#1a1718" stroke="#1a1718" stroke-width="0.9">c</text>
<text x="453.9" y="855.0" font-size="27" textLength="274.5" lengthAdjust="spacingAndGlyphs">Upregulated genes in</text>
<text x="472.1" y="886.4" font-size="27" textLength="238.6" lengthAdjust="spacingAndGlyphs">WT-TAC vs control</text>
<rect x="462.8" y="929.6" width="213.0" height="19.9" fill="#ee3a29" stroke="#2a2526" stroke-width="1.3"/>
<line x1="450.5" y1="939.2" x2="462.8" y2="939.2" stroke="#231f20" stroke-width="1.3"/>
<text x="439.5" y="946.4" font-size="23" text-anchor="end" textLength="293.3" lengthAdjust="spacingAndGlyphs">PI3K-Akt signaling pathway</text>
<rect x="462.8" y="966.1" width="213.0" height="19.9" fill="#fff" stroke="#555253" stroke-width="1.3"/>
<line x1="450.5" y1="975.7" x2="462.8" y2="975.7" stroke="#231f20" stroke-width="1.3"/>
<text x="439.5" y="982.9" font-size="23" text-anchor="end" textLength="278.1" lengthAdjust="spacingAndGlyphs">ECM–receptor interaction</text>
<rect x="462.8" y="1002.6" width="169.4" height="19.9" fill="#fff" stroke="#555253" stroke-width="1.3"/>
<line x1="450.5" y1="1012.2" x2="462.8" y2="1012.2" stroke="#231f20" stroke-width="1.3"/>
<text x="439.5" y="1019.4" font-size="23" text-anchor="end" textLength="164.2" lengthAdjust="spacingAndGlyphs">Focal adhesion</text>
<rect x="462.8" y="1039.2" width="167.6" height="19.9" fill="#fff" stroke="#555253" stroke-width="1.3"/>
<line x1="450.5" y1="1048.7" x2="462.8" y2="1048.7" stroke="#231f20" stroke-width="1.3"/>
<text x="439.5" y="1055.9" font-size="23" text-anchor="end" textLength="421.4" lengthAdjust="spacingAndGlyphs">Cytokine–cytokine receptor interaction</text>
<rect x="462.8" y="1075.7" width="167.6" height="19.9" fill="#ee3a29" stroke="#2a2526" stroke-width="1.3"/>
<line x1="450.5" y1="1085.2" x2="462.8" y2="1085.2" stroke="#231f20" stroke-width="1.3"/>
<text x="439.5" y="1092.4" font-size="23" text-anchor="end" textLength="325.1" lengthAdjust="spacingAndGlyphs">Hypertrophic cardiomyopathy</text>
<rect x="462.8" y="1112.2" width="156.0" height="19.9" fill="#fff" stroke="#555253" stroke-width="1.3"/>
<line x1="450.5" y1="1121.7" x2="462.8" y2="1121.7" stroke="#231f20" stroke-width="1.3"/>
<text x="439.5" y="1128.9" font-size="23" text-anchor="end" textLength="194.0" lengthAdjust="spacingAndGlyphs">Platelet activation</text>
<rect x="462.8" y="1148.7" width="156.0" height="19.9" fill="#fff" stroke="#555253" stroke-width="1.3"/>
<line x1="450.5" y1="1158.2" x2="462.8" y2="1158.2" stroke="#231f20" stroke-width="1.3"/>
<text x="439.5" y="1165.4" font-size="23" text-anchor="end" textLength="244.7" lengthAdjust="spacingAndGlyphs">TNF signaling pathway</text>
<rect x="462.8" y="1185.2" width="132.3" height="19.9" fill="#ee3a29" stroke="#2a2526" stroke-width="1.3"/>
<line x1="450.5" y1="1194.7" x2="462.8" y2="1194.7" stroke="#231f20" stroke-width="1.3"/>
<text x="439.5" y="1201.9" font-size="23" text-anchor="end" textLength="265.0" lengthAdjust="spacingAndGlyphs">MAPK signaling pathway</text>
<rect x="462.8" y="1221.7" width="131.8" height="19.9" fill="#fff" stroke="#555253" stroke-width="1.3"/>
<line x1="450.5" y1="1231.2" x2="462.8" y2="1231.2" stroke="#231f20" stroke-width="1.3"/>
<text x="439.5" y="1238.4" font-size="23" text-anchor="end" textLength="290.8" lengthAdjust="spacingAndGlyphs">Hematopoietic cell lineage</text>
<rect x="462.8" y="1258.2" width="121.4" height="19.9" fill="#ee3a29" stroke="#2a2526" stroke-width="1.3"/>
<line x1="450.5" y1="1267.7" x2="462.8" y2="1267.7" stroke="#231f20" stroke-width="1.3"/>
<text x="439.5" y="1274.9" font-size="23" text-anchor="end" textLength="404.1" lengthAdjust="spacingAndGlyphs">Fluid shear stress and atherosclerosis</text>
<rect x="462.8" y="1294.7" width="121.4" height="19.9" fill="#fff" stroke="#555253" stroke-width="1.3"/>
<line x1="450.5" y1="1304.2" x2="462.8" y2="1304.2" stroke="#231f20" stroke-width="1.3"/>
<text x="439.5" y="1311.4" font-size="23" text-anchor="end" textLength="440.2" lengthAdjust="spacingAndGlyphs">C-type lectin receptor signaling pathway</text>
<rect x="462.8" y="1331.2" width="121.4" height="19.9" fill="#ee3a29" stroke="#2a2526" stroke-width="1.3"/>
<line x1="450.5" y1="1340.7" x2="462.8" y2="1340.7" stroke="#231f20" stroke-width="1.3"/>
<text x="439.5" y="1347.9" font-size="23" text-anchor="end" textLength="259.0" lengthAdjust="spacingAndGlyphs">Dilated cardiomyopathy</text>
<rect x="462.8" y="1367.7" width="121.4" height="19.9" fill="#fff" stroke="#555253" stroke-width="1.3"/>
<line x1="450.5" y1="1377.2" x2="462.8" y2="1377.2" stroke="#231f20" stroke-width="1.3"/>
<text x="439.5" y="1384.4" font-size="23" text-anchor="end" textLength="276.3" lengthAdjust="spacingAndGlyphs">Coronavirus disease 2019</text>
<rect x="462.8" y="1404.2" width="115.4" height="19.9" fill="#fff" stroke="#555253" stroke-width="1.3"/>
<line x1="450.5" y1="1413.7" x2="462.8" y2="1413.7" stroke="#231f20" stroke-width="1.3"/>
<text x="439.5" y="1420.9" font-size="23" text-anchor="end" textLength="249.8" lengthAdjust="spacingAndGlyphs">IL-17 signaling pathway</text>
<rect x="462.8" y="1440.7" width="114.5" height="19.9" fill="#fff" stroke="#555253" stroke-width="1.3"/>
<line x1="450.5" y1="1450.2" x2="462.8" y2="1450.2" stroke="#231f20" stroke-width="1.3"/>
<text x="439.5" y="1457.4" font-size="23" text-anchor="end" textLength="299.9" lengthAdjust="spacingAndGlyphs">Oxytocin signaling pathway</text>
<rect x="462.8" y="1477.2" width="114.5" height="19.9" fill="#ee3a29" stroke="#2a2526" stroke-width="1.3"/>
<line x1="450.5" y1="1486.7" x2="462.8" y2="1486.7" stroke="#231f20" stroke-width="1.3"/>
<text x="439.5" y="1493.9" font-size="23" text-anchor="end" textLength="243.8" lengthAdjust="spacingAndGlyphs">p53 signaling pathway</text>
<path d="M462.8 912.3V1510.6H718" fill="none" stroke="#231f20" stroke-width="1.4"/>
<line x1="462.8" y1="1510.6" x2="462.8" y2="1525.0" stroke="#231f20" stroke-width="1.3"/>
<text x="462.8" y="1552.7" font-size="21.5" text-anchor="middle" textLength="16.0" lengthAdjust="spacingAndGlyphs">0</text>
<line x1="513.9" y1="1510.6" x2="513.9" y2="1525.0" stroke="#231f20" stroke-width="1.3"/>
<text x="513.9" y="1552.7" font-size="21.5" text-anchor="middle" textLength="16.0" lengthAdjust="spacingAndGlyphs">1</text>
<line x1="564.9" y1="1510.6" x2="564.9" y2="1525.0" stroke="#231f20" stroke-width="1.3"/>
<text x="564.9" y="1552.7" font-size="21.5" text-anchor="middle" textLength="16.0" lengthAdjust="spacingAndGlyphs">2</text>
<line x1="616.0" y1="1510.6" x2="616.0" y2="1525.0" stroke="#231f20" stroke-width="1.3"/>
<text x="616.0" y="1552.7" font-size="21.5" text-anchor="middle" textLength="16.0" lengthAdjust="spacingAndGlyphs">3</text>
<line x1="667.0" y1="1510.6" x2="667.0" y2="1525.0" stroke="#231f20" stroke-width="1.3"/>
<text x="667.0" y="1552.7" font-size="21.5" text-anchor="middle" textLength="16.0" lengthAdjust="spacingAndGlyphs">4</text>
<line x1="718.0" y1="1510.6" x2="718.0" y2="1525.0" stroke="#231f20" stroke-width="1.3"/>
<text x="718.0" y="1552.7" font-size="21.5" text-anchor="middle" textLength="16.0" lengthAdjust="spacingAndGlyphs">5</text>
<text x="549.1" y="1593.6" font-size="27" textLength="77.5" lengthAdjust="spacingAndGlyphs">–log<tspan font-size="17" dy="6">10</tspan></text>
<text x="443.9" y="1624.6" font-size="27" textLength="294.5" lengthAdjust="spacingAndGlyphs">(FDR-adjusted <tspan font-style="italic">P</tspan> value )</text>
<text x="859.0" y="814.0" font-size="38" textLength="28.3" lengthAdjust="spacingAndGlyphs" font-weight="bold" fill="#1a1718" stroke="#1a1718" stroke-width="0.9">d</text>
<text x="1438.3" y="790.6" font-size="27" textLength="280.7" lengthAdjust="spacingAndGlyphs">Downregulated genes</text>
<text x="1440.4" y="821.3" font-size="27" textLength="276.6" lengthAdjust="spacingAndGlyphs">in KO-TAC vs WT-TAC</text>
<rect x="1448.2" y="850.0" width="218.4" height="10.2" fill="#fff" stroke="#555253" stroke-width="1.3"/>
<line x1="1435.2" y1="855.1" x2="1448.2" y2="855.1" stroke="#231f20" stroke-width="1.3"/>
<text x="1425.1" y="861.2" font-size="23" text-anchor="end" textLength="244.1" lengthAdjust="spacingAndGlyphs">TNF signaling pathway</text>
<rect x="1448.2" y="872.5" width="218.4" height="10.2" fill="#ee3a29" stroke="#2a2526" stroke-width="1.3"/>
<line x1="1435.2" y1="877.6" x2="1448.2" y2="877.6" stroke="#231f20" stroke-width="1.3"/>
<text x="1425.1" y="883.7" font-size="23" text-anchor="end" textLength="292.4" lengthAdjust="spacingAndGlyphs">PI3K-Akt signaling pathway</text>
<rect x="1448.2" y="895.0" width="134.4" height="10.2" fill="#ee3a29" stroke="#2a2526" stroke-width="1.3"/>
<line x1="1435.2" y1="900.1" x2="1448.2" y2="900.1" stroke="#231f20" stroke-width="1.3"/>
<text x="1425.1" y="906.2" font-size="23" text-anchor="end" textLength="244.1" lengthAdjust="spacingAndGlyphs">p53 signaling pathway</text>
<rect x="1448.2" y="917.5" width="121.8" height="10.2" fill="#ee3a29" stroke="#2a2526" stroke-width="1.3"/>
<line x1="1435.2" y1="922.6" x2="1448.2" y2="922.6" stroke="#231f20" stroke-width="1.3"/>
<text x="1425.1" y="928.7" font-size="23" text-anchor="end" textLength="265.0" lengthAdjust="spacingAndGlyphs">MAPK signaling pathway</text>
<rect x="1448.2" y="940.0" width="121.8" height="10.2" fill="#fff" stroke="#555253" stroke-width="1.3"/>
<line x1="1435.2" y1="945.1" x2="1448.2" y2="945.1" stroke="#231f20" stroke-width="1.3"/>
<text x="1425.1" y="951.2" font-size="23" text-anchor="end" textLength="224.8" lengthAdjust="spacingAndGlyphs">MicroRNAs in cancer</text>
<rect x="1448.2" y="962.4" width="113.6" height="10.2" fill="#fff" stroke="#555253" stroke-width="1.3"/>
<line x1="1435.2" y1="967.5" x2="1448.2" y2="967.5" stroke="#231f20" stroke-width="1.3"/>
<text x="1425.1" y="973.6" font-size="23" text-anchor="end" textLength="207.1" lengthAdjust="spacingAndGlyphs">Pathways in cancer</text>
<rect x="1448.2" y="984.9" width="113.6" height="10.2" fill="#fff" stroke="#555253" stroke-width="1.3"/>
<line x1="1435.2" y1="990.0" x2="1448.2" y2="990.0" stroke="#231f20" stroke-width="1.3"/>
<text x="1425.1" y="996.1" font-size="23" text-anchor="end" textLength="429.3" lengthAdjust="spacingAndGlyphs">Complement and coagulation cascades</text>
<rect x="1448.2" y="1007.4" width="99.7" height="10.2" fill="#fff" stroke="#555253" stroke-width="1.3"/>
<line x1="1435.2" y1="1012.5" x2="1448.2" y2="1012.5" stroke="#231f20" stroke-width="1.3"/>
<text x="1425.1" y="1018.6" font-size="23" text-anchor="end" textLength="270.8" lengthAdjust="spacingAndGlyphs">Apelin signaling pathway</text>
<rect x="1448.2" y="1029.9" width="87.7" height="10.2" fill="#ee3a29" stroke="#2a2526" stroke-width="1.3"/>
<line x1="1435.2" y1="1035.0" x2="1448.2" y2="1035.0" stroke="#231f20" stroke-width="1.3"/>
<text x="1425.1" y="1041.1" font-size="23" text-anchor="end" textLength="404.2" lengthAdjust="spacingAndGlyphs">Fluid shear stress and atherosclerosis</text>
<rect x="1448.2" y="1052.4" width="74.0" height="10.2" fill="#fff" stroke="#555253" stroke-width="1.3"/>
<line x1="1435.2" y1="1057.5" x2="1448.2" y2="1057.5" stroke="#231f20" stroke-width="1.3"/>
<text x="1425.1" y="1063.6" font-size="23" text-anchor="end" textLength="194.0" lengthAdjust="spacingAndGlyphs">Colorectal cancer</text>
<rect x="1448.2" y="1074.9" width="74.0" height="10.2" fill="#fff" stroke="#555253" stroke-width="1.3"/>
<line x1="1435.2" y1="1080.0" x2="1448.2" y2="1080.0" stroke="#231f20" stroke-width="1.3"/>
<text x="1425.1" y="1086.1" font-size="23" text-anchor="end" textLength="259.6" lengthAdjust="spacingAndGlyphs">Proteoglycans in cancer</text>
<rect x="1448.2" y="1097.4" width="74.0" height="10.2" fill="#fff" stroke="#555253" stroke-width="1.3"/>
<line x1="1435.2" y1="1102.5" x2="1448.2" y2="1102.5" stroke="#231f20" stroke-width="1.3"/>
<text x="1425.1" y="1108.6" font-size="23" text-anchor="end" textLength="419.7" lengthAdjust="spacingAndGlyphs">Human T cell leukemia virus 1 infection</text>
<rect x="1448.2" y="1119.9" width="71.9" height="10.2" fill="#fff" stroke="#555253" stroke-width="1.3"/>
<line x1="1435.2" y1="1125.0" x2="1448.2" y2="1125.0" stroke="#231f20" stroke-width="1.3"/>
<text x="1425.1" y="1131.1" font-size="23" text-anchor="end" textLength="222.9" lengthAdjust="spacingAndGlyphs">Salmonella infection</text>
<rect x="1448.2" y="1142.4" width="65.2" height="10.2" fill="#fff" stroke="#555253" stroke-width="1.3"/>
<line x1="1435.2" y1="1147.5" x2="1448.2" y2="1147.5" stroke="#231f20" stroke-width="1.3"/>
<text x="1425.1" y="1153.6" font-size="23" text-anchor="end" textLength="241.1" lengthAdjust="spacingAndGlyphs">Circadian entrainment</text>
<rect x="1448.2" y="1164.9" width="64.0" height="10.2" fill="#fff" stroke="#555253" stroke-width="1.3"/>
<line x1="1435.2" y1="1170.0" x2="1448.2" y2="1170.0" stroke="#231f20" stroke-width="1.3"/>
<text x="1425.1" y="1176.1" font-size="23" text-anchor="end" textLength="524.6" lengthAdjust="spacingAndGlyphs">Kaposi sarcoma-associated herpesvirus infection</text>
<rect x="1448.2" y="1187.4" width="53.8" height="10.2" fill="#fff" stroke="#555253" stroke-width="1.3"/>
<line x1="1435.2" y1="1192.5" x2="1448.2" y2="1192.5" stroke="#231f20" stroke-width="1.3"/>
<text x="1425.1" y="1198.5" font-size="23" text-anchor="end" textLength="565.9" lengthAdjust="spacingAndGlyphs">Parathyroid hormone synthesis, secretion and action</text>
<rect x="1448.2" y="1209.8" width="47.4" height="10.2" fill="#fff" stroke="#555253" stroke-width="1.3"/>
<line x1="1435.2" y1="1214.9" x2="1448.2" y2="1214.9" stroke="#231f20" stroke-width="1.3"/>
<text x="1425.1" y="1221.0" font-size="23" text-anchor="end" textLength="253.4" lengthAdjust="spacingAndGlyphs">HIF-1 signaling pathway</text>
<rect x="1448.2" y="1232.3" width="47.0" height="10.2" fill="#fff" stroke="#555253" stroke-width="1.3"/>
<line x1="1435.2" y1="1237.4" x2="1448.2" y2="1237.4" stroke="#231f20" stroke-width="1.3"/>
<text x="1425.1" y="1243.5" font-size="23" text-anchor="end" textLength="162.7" lengthAdjust="spacingAndGlyphs">Focal adhesion</text>
<rect x="1448.2" y="1254.8" width="47.0" height="10.2" fill="#fff" stroke="#555253" stroke-width="1.3"/>
<line x1="1435.2" y1="1259.9" x2="1448.2" y2="1259.9" stroke="#231f20" stroke-width="1.3"/>
<text x="1425.1" y="1266.0" font-size="23" text-anchor="end" textLength="402.3" lengthAdjust="spacingAndGlyphs">Leukocyte transendothelial migration</text>
<rect x="1448.2" y="1277.3" width="47.0" height="10.2" fill="#fff" stroke="#555253" stroke-width="1.3"/>
<line x1="1435.2" y1="1282.4" x2="1448.2" y2="1282.4" stroke="#231f20" stroke-width="1.3"/>
<text x="1425.1" y="1288.5" font-size="23" text-anchor="end" textLength="138.8" lengthAdjust="spacingAndGlyphs">Efferocytosis</text>
<rect x="1448.2" y="1299.8" width="47.0" height="10.2" fill="#fff" stroke="#555253" stroke-width="1.3"/>
<line x1="1435.2" y1="1304.9" x2="1448.2" y2="1304.9" stroke="#231f20" stroke-width="1.3"/>
<text x="1425.1" y="1311.0" font-size="23" text-anchor="end" textLength="364.5" lengthAdjust="spacingAndGlyphs">Human cytomegalovirus infection</text>
<rect x="1448.2" y="1322.3" width="42.9" height="10.2" fill="#fff" stroke="#555253" stroke-width="1.3"/>
<line x1="1435.2" y1="1327.4" x2="1448.2" y2="1327.4" stroke="#231f20" stroke-width="1.3"/>
<text x="1425.1" y="1333.5" font-size="23" text-anchor="end" textLength="138.8" lengthAdjust="spacingAndGlyphs">Gap junction</text>
<rect x="1448.2" y="1344.8" width="42.9" height="10.2" fill="#fff" stroke="#555253" stroke-width="1.3"/>
<line x1="1435.2" y1="1349.9" x2="1448.2" y2="1349.9" stroke="#231f20" stroke-width="1.3"/>
<text x="1425.1" y="1356.0" font-size="23" text-anchor="end" textLength="303.6" lengthAdjust="spacingAndGlyphs">JAK-STAT signaling pathway</text>
<rect x="1448.2" y="1367.3" width="42.9" height="10.2" fill="#fff" stroke="#555253" stroke-width="1.3"/>
<line x1="1435.2" y1="1372.4" x2="1448.2" y2="1372.4" stroke="#231f20" stroke-width="1.3"/>
<text x="1425.1" y="1378.5" font-size="23" text-anchor="end" textLength="276.5" lengthAdjust="spacingAndGlyphs">ECM–receptor interaction</text>
<rect x="1448.2" y="1389.8" width="42.9" height="10.2" fill="#fff" stroke="#555253" stroke-width="1.3"/>
<line x1="1435.2" y1="1394.9" x2="1448.2" y2="1394.9" stroke="#231f20" stroke-width="1.3"/>
<text x="1425.1" y="1401.0" font-size="23" text-anchor="end" textLength="279.6" lengthAdjust="spacingAndGlyphs">Hepatocellular carcinoma</text>
<rect x="1448.2" y="1412.2" width="42.9" height="10.2" fill="#fff" stroke="#555253" stroke-width="1.3"/>
<line x1="1435.2" y1="1417.3" x2="1448.2" y2="1417.3" stroke="#231f20" stroke-width="1.3"/>
<text x="1425.1" y="1423.4" font-size="23" text-anchor="end" textLength="259.2" lengthAdjust="spacingAndGlyphs">FoxO signaling pathway</text>
<rect x="1448.2" y="1434.7" width="41.9" height="10.2" fill="#fff" stroke="#555253" stroke-width="1.3"/>
<line x1="1435.2" y1="1439.8" x2="1448.2" y2="1439.8" stroke="#231f20" stroke-width="1.3"/>
<text x="1425.1" y="1445.9" font-size="23" text-anchor="end" textLength="196.7" lengthAdjust="spacingAndGlyphs">Adherens junction</text>
<rect x="1448.2" y="1457.2" width="41.9" height="10.2" fill="#fff" stroke="#555253" stroke-width="1.3"/>
<line x1="1435.2" y1="1462.3" x2="1448.2" y2="1462.3" stroke="#231f20" stroke-width="1.3"/>
<text x="1425.1" y="1468.4" font-size="23" text-anchor="end" textLength="242.2" lengthAdjust="spacingAndGlyphs">Small cell lung cancer</text>
<rect x="1448.2" y="1479.7" width="41.9" height="10.2" fill="#fff" stroke="#555253" stroke-width="1.3"/>
<line x1="1435.2" y1="1484.8" x2="1448.2" y2="1484.8" stroke="#231f20" stroke-width="1.3"/>
<text x="1425.1" y="1490.9" font-size="23" text-anchor="end" textLength="108.7" lengthAdjust="spacingAndGlyphs">Apoptosis</text>
<rect x="1448.2" y="1502.2" width="37.8" height="10.2" fill="#ee3a29" stroke="#2a2526" stroke-width="1.3"/>
<line x1="1435.2" y1="1507.3" x2="1448.2" y2="1507.3" stroke="#231f20" stroke-width="1.3"/>
<text x="1425.1" y="1513.4" font-size="23" text-anchor="end" textLength="324.8" lengthAdjust="spacingAndGlyphs">Hypertrophic cardiomyopathy</text>
<rect x="1448.2" y="1524.7" width="36.8" height="10.2" fill="#fff" stroke="#555253" stroke-width="1.3"/>
<line x1="1435.2" y1="1529.8" x2="1448.2" y2="1529.8" stroke="#231f20" stroke-width="1.3"/>
<text x="1425.1" y="1535.9" font-size="23" text-anchor="end" textLength="459.0" lengthAdjust="spacingAndGlyphs">Human immunodeficiency virus 1 infection</text>
<rect x="1448.2" y="1547.2" width="36.8" height="10.2" fill="#ee3a29" stroke="#2a2526" stroke-width="1.3"/>
<line x1="1435.2" y1="1552.3" x2="1448.2" y2="1552.3" stroke="#231f20" stroke-width="1.3"/>
<text x="1425.1" y="1558.4" font-size="23" text-anchor="end" textLength="259.2" lengthAdjust="spacingAndGlyphs">Dilated cardiomyopathy</text>
<path d="M1448.2 839.1V1567.4H1707.7" fill="none" stroke="#231f20" stroke-width="1.4"/>
<line x1="1448.2" y1="1567.4" x2="1448.2" y2="1580.7" stroke="#231f20" stroke-width="1.3"/>
<text x="1448.2" y="1607.2" font-size="21.5" text-anchor="middle" textLength="16.4" lengthAdjust="spacingAndGlyphs">0</text>
<line x1="1500.1" y1="1567.4" x2="1500.1" y2="1580.7" stroke="#231f20" stroke-width="1.3"/>
<text x="1500.1" y="1607.2" font-size="21.5" text-anchor="middle" textLength="36.3" lengthAdjust="spacingAndGlyphs">0.5</text>
<line x1="1552.0" y1="1567.4" x2="1552.0" y2="1580.7" stroke="#231f20" stroke-width="1.3"/>
<text x="1552.0" y="1607.2" font-size="21.5" text-anchor="middle" textLength="36.3" lengthAdjust="spacingAndGlyphs">1.0</text>
<line x1="1603.9" y1="1567.4" x2="1603.9" y2="1580.7" stroke="#231f20" stroke-width="1.3"/>
<text x="1603.9" y="1607.2" font-size="21.5" text-anchor="middle" textLength="36.3" lengthAdjust="spacingAndGlyphs">1.5</text>
<line x1="1655.8" y1="1567.4" x2="1655.8" y2="1580.7" stroke="#231f20" stroke-width="1.3"/>
<text x="1655.8" y="1607.2" font-size="21.5" text-anchor="middle" textLength="36.3" lengthAdjust="spacingAndGlyphs">2.0</text>
<line x1="1707.7" y1="1567.4" x2="1707.7" y2="1580.7" stroke="#231f20" stroke-width="1.3"/>
<text x="1707.7" y="1607.2" font-size="21.5" text-anchor="middle" textLength="36.3" lengthAdjust="spacingAndGlyphs">2.5</text>
<text x="1535.4" y="1646.0" font-size="27" textLength="77.5" lengthAdjust="spacingAndGlyphs">–log<tspan font-size="17" dy="6">10</tspan></text>
<text x="1431.6" y="1675.7" font-size="27" textLength="294.5" lengthAdjust="spacingAndGlyphs">(FDR-adjusted <tspan font-style="italic">P</tspan> value )</text>
<text x="-0.5" y="1758.7" font-size="38" textLength="25.9" lengthAdjust="spacingAndGlyphs" font-weight="bold" fill="#1a1718" stroke="#1a1718" stroke-width="0.9">e</text>
<rect x="116.2" y="2065.3" width="34.1" height="17.0" fill="#e2444e"/>
<rect x="150.0" y="2065.3" width="21.5" height="17.0" fill="#ea5c66"/>
<rect x="171.2" y="2065.3" width="200.4" height="17.0" fill="#e8b0d2"/>
<rect x="371.3" y="2065.3" width="87.7" height="17.0" fill="#bcbce2"/>
<rect x="458.7" y="2065.3" width="7.6" height="17.0" fill="#8c8cca"/>
<rect x="466.0" y="2065.3" width="32.3" height="17.0" fill="#5454aa"/>
<rect x="498.0" y="2065.3" width="14.5" height="17.0" fill="#4248a6"/>
<path d="M121.3 2003.7V2065.3M129.9 2003.7V2065.3M143.6 2003.7V2065.3M153.8 2003.7V2065.3M175.1 2003.7V2065.3M172.6 2003.7V2065.3M157.4 2003.7V2065.3M164.6 2003.7V2065.3M163.2 2003.7V2065.3M169.3 2003.7V2065.3M173.4 2003.7V2065.3M152.6 2003.7V2065.3M150.7 2003.7V2065.3M174.8 2003.7V2065.3M162.7 2003.7V2065.3M172.6 2003.7V2065.3M149.9 2003.7V2065.3M163.1 2003.7V2065.3M171.4 2003.7V2065.3M156.7 2003.7V2065.3M178.1 2003.7V2065.3M176.8 2003.7V2065.3M150.7 2003.7V2065.3M150.6 2003.7V2065.3M166.0 2003.7V2065.3M177.9 2003.7V2065.3M161.2 2003.7V2065.3M156.3 2003.7V2065.3M162.4 2003.7V2065.3M374.6 2003.7V2065.3M393.0 2003.7V2065.3M413.6 2003.7V2065.3M419.1 2003.7V2065.3M394.1 2003.7V2065.3M393.9 2003.7V2065.3M392.7 2003.7V2065.3M415.7 2003.7V2065.3M399.5 2003.7V2065.3M373.9 2003.7V2065.3M451.7 2003.7V2065.3M424.9 2003.7V2065.3M433.1 2003.7V2065.3M389.6 2003.7V2065.3M466.5 2003.7V2065.3M453.9 2003.7V2065.3M383.4 2003.7V2065.3M403.6 2003.7V2065.3M440.6 2003.7V2065.3M439.7 2003.7V2065.3M461.1 2003.7V2065.3M412.1 2003.7V2065.3M451.0 2003.7V2065.3M435.8 2003.7V2065.3M400.8 2003.7V2065.3M427.9 2003.7V2065.3M456.0 2003.7V2065.3M452.5 2003.7V2065.3M420.0 2003.7V2065.3M428.0 2003.7V2065.3M375.1 2003.7V2065.3M395.0 2003.7V2065.3M447.9 2003.7V2065.3M411.4 2003.7V2065.3M388.3 2003.7V2065.3M424.2 2003.7V2065.3M438.9 2003.7V2065.3M436.2 2003.7V2065.3M407.6 2003.7V2065.3M413.7 2003.7V2065.3M420.3 2003.7V2065.3M446.1 2003.7V2065.3M421.5 2003.7V2065.3M409.3 2003.7V2065.3M418.5 2003.7V2065.3M374.7 2003.7V2065.3M376.0 2003.7V2065.3M438.9 2003.7V2065.3M465.6 2003.7V2065.3M428.4 2003.7V2065.3M409.4 2003.7V2065.3M388.1 2003.7V2065.3M419.7 2003.7V2065.3M465.5 2003.7V2065.3M445.3 2003.7V2065.3M423.3 2003.7V2065.3M453.9 2003.7V2065.3M394.0 2003.7V2065.3M420.8 2003.7V2065.3M462.7 2003.7V2065.3M426.9 2003.7V2065.3M415.6 2003.7V2065.3M397.5 2003.7V2065.3M424.1 2003.7V2065.3M463.1 2003.7V2065.3M372.4 2003.7V2065.3M446.6 2003.7V2065.3M450.1 2003.7V2065.3M456.4 2003.7V2065.3M442.5 2003.7V2065.3M449.0 2003.7V2065.3M421.3 2003.7V2065.3M425.4 2003.7V2065.3M412.5 2003.7V2065.3M377.2 2003.7V2065.3M454.8 2003.7V2065.3M426.2 2003.7V2065.3M390.9 2003.7V2065.3M420.0 2003.7V2065.3M418.1 2003.7V2065.3M405.9 2003.7V2065.3M404.8 2003.7V2065.3M423.2 2003.7V2065.3M431.3 2003.7V2065.3M430.3 2003.7V2065.3M415.5 2003.7V2065.3M374.5 2003.7V2065.3M393.7 2003.7V2065.3M388.7 2003.7V2065.3M427.6 2003.7V2065.3M454.0 2003.7V2065.3M448.0 2003.7V2065.3M447.9 2003.7V2065.3M449.7 2003.7V2065.3M396.2 2003.7V2065.3M452.1 2003.7V2065.3M436.0 2003.7V2065.3M379.8 2003.7V2065.3M373.4 2003.7V2065.3M373.2 2003.7V2065.3M443.9 2003.7V2065.3M395.6 2003.7V2065.3M382.3 2003.7V2065.3M431.4 2003.7V2065.3M404.7 2003.7V2065.3M378.5 2003.7V2065.3M387.1 2003.7V2065.3M422.1 2003.7V2065.3M387.9 2003.7V2065.3M475.8 2003.7V2065.3M489.5 2003.7V2065.3M481.4 2003.7V2065.3M477.3 2003.7V2065.3M482.0 2003.7V2065.3M467.9 2003.7V2065.3M479.3 2003.7V2065.3M480.4 2003.7V2065.3M473.1 2003.7V2065.3M470.6 2003.7V2065.3M495.4 2003.7V2065.3M483.2 2003.7V2065.3M473.8 2003.7V2065.3M486.2 2003.7V2065.3M492.8 2003.7V2065.3M467.9 2003.7V2065.3M467.8 2003.7V2065.3M471.8 2003.7V2065.3M489.7 2003.7V2065.3M472.2 2003.7V2065.3M489.3 2003.7V2065.3M488.4 2003.7V2065.3M484.3 2003.7V2065.3M474.1 2003.7V2065.3M497.8 2003.7V2065.3M492.2 2003.7V2065.3M483.4 2003.7V2065.3M474.2 2003.7V2065.3M487.5 2003.7V2065.3M479.6 2003.7V2065.3M485.2 2003.7V2065.3M477.3 2003.7V2065.3M487.0 2003.7V2065.3M469.0 2003.7V2065.3M476.6 2003.7V2065.3M497.5 2003.7V2065.3M494.6 2003.7V2065.3M476.8 2003.7V2065.3M494.1 2003.7V2065.3M476.9 2003.7V2065.3M496.6 2003.7V2065.3M490.5 2003.7V2065.3M480.2 2003.7V2065.3M475.1 2003.7V2065.3M467.5 2003.7V2065.3M494.7 2003.7V2065.3M468.4 2003.7V2065.3M492.9 2003.7V2065.3M497.3 2003.7V2065.3M485.1 2003.7V2065.3M472.6 2003.7V2065.3M494.4 2003.7V2065.3M497.7 2003.7V2065.3M489.3 2003.7V2065.3M483.1 2003.7V2065.3M479.0 2003.7V2065.3M478.1 2003.7V2065.3M473.7 2003.7V2065.3M488.3 2003.7V2065.3M480.8 2003.7V2065.3M473.3 2003.7V2065.3M470.5 2003.7V2065.3M488.1 2003.7V2065.3M476.5 2003.7V2065.3M482.9 2003.7V2065.3M477.4 2003.7V2065.3M494.5 2003.7V2065.3M495.4 2003.7V2065.3M467.8 2003.7V2065.3M473.5 2003.7V2065.3M477.5 2003.7V2065.3M498.1 2003.7V2065.3M491.7 2003.7V2065.3M477.8 2003.7V2065.3M473.9 2003.7V2065.3M488.3 2003.7V2065.3M493.4 2003.7V2065.3M496.4 2003.7V2065.3M478.0 2003.7V2065.3M494.8 2003.7V2065.3M488.7 2003.7V2065.3M504.3 2003.7V2065.3M510.3 2003.7V2065.3M501.3 2003.7V2065.3M507.2 2003.7V2065.3M499.5 2003.7V2065.3M500.5 2003.7V2065.3M509.4 2003.7V2065.3M501.1 2003.7V2065.3M507.6 2003.7V2065.3M505.7 2003.7V2065.3M508.6 2003.7V2065.3" stroke="#111" stroke-width="1" fill="none"/>
<path d="M121.3 2065.3V2082.3M129.9 2065.3V2082.3M143.6 2065.3V2082.3M153.8 2065.3V2082.3M175.1 2065.3V2082.3M172.6 2065.3V2082.3M157.4 2065.3V2082.3M164.6 2065.3V2082.3M163.2 2065.3V2082.3M169.3 2065.3V2082.3M173.4 2065.3V2082.3M152.6 2065.3V2082.3M150.7 2065.3V2082.3M174.8 2065.3V2082.3M162.7 2065.3V2082.3M172.6 2065.3V2082.3M149.9 2065.3V2082.3M163.1 2065.3V2082.3M171.4 2065.3V2082.3M156.7 2065.3V2082.3M178.1 2065.3V2082.3M176.8 2065.3V2082.3M150.7 2065.3V2082.3M150.6 2065.3V2082.3M166.0 2065.3V2082.3M177.9 2065.3V2082.3M161.2 2065.3V2082.3M156.3 2065.3V2082.3M162.4 2065.3V2082.3M374.6 2065.3V2082.3M393.0 2065.3V2082.3M413.6 2065.3V2082.3M419.1 2065.3V2082.3M394.1 2065.3V2082.3M393.9 2065.3V2082.3M392.7 2065.3V2082.3M415.7 2065.3V2082.3M399.5 2065.3V2082.3M373.9 2065.3V2082.3M451.7 2065.3V2082.3M424.9 2065.3V2082.3M433.1 2065.3V2082.3M389.6 2065.3V2082.3M466.5 2065.3V2082.3M453.9 2065.3V2082.3M383.4 2065.3V2082.3M403.6 2065.3V2082.3M440.6 2065.3V2082.3M439.7 2065.3V2082.3M461.1 2065.3V2082.3M412.1 2065.3V2082.3M451.0 2065.3V2082.3M435.8 2065.3V2082.3M400.8 2065.3V2082.3M427.9 2065.3V2082.3M456.0 2065.3V2082.3M452.5 2065.3V2082.3M420.0 2065.3V2082.3M428.0 2065.3V2082.3M375.1 2065.3V2082.3M395.0 2065.3V2082.3M447.9 2065.3V2082.3M411.4 2065.3V2082.3M388.3 2065.3V2082.3M424.2 2065.3V2082.3M438.9 2065.3V2082.3M436.2 2065.3V2082.3M407.6 2065.3V2082.3M413.7 2065.3V2082.3M420.3 2065.3V2082.3M446.1 2065.3V2082.3M421.5 2065.3V2082.3M409.3 2065.3V2082.3M418.5 2065.3V2082.3M374.7 2065.3V2082.3M376.0 2065.3V2082.3M438.9 2065.3V2082.3M465.6 2065.3V2082.3M428.4 2065.3V2082.3M409.4 2065.3V2082.3M388.1 2065.3V2082.3M419.7 2065.3V2082.3M465.5 2065.3V2082.3M445.3 2065.3V2082.3M423.3 2065.3V2082.3M453.9 2065.3V2082.3M394.0 2065.3V2082.3M420.8 2065.3V2082.3M462.7 2065.3V2082.3M426.9 2065.3V2082.3M415.6 2065.3V2082.3M397.5 2065.3V2082.3M424.1 2065.3V2082.3M463.1 2065.3V2082.3M372.4 2065.3V2082.3M446.6 2065.3V2082.3M450.1 2065.3V2082.3M456.4 2065.3V2082.3M442.5 2065.3V2082.3M449.0 2065.3V2082.3M421.3 2065.3V2082.3M425.4 2065.3V2082.3M412.5 2065.3V2082.3M377.2 2065.3V2082.3M454.8 2065.3V2082.3M426.2 2065.3V2082.3M390.9 2065.3V2082.3M420.0 2065.3V2082.3M418.1 2065.3V2082.3M405.9 2065.3V2082.3M404.8 2065.3V2082.3M423.2 2065.3V2082.3M431.3 2065.3V2082.3M430.3 2065.3V2082.3M415.5 2065.3V2082.3M374.5 2065.3V2082.3M393.7 2065.3V2082.3M388.7 2065.3V2082.3M427.6 2065.3V2082.3M454.0 2065.3V2082.3M448.0 2065.3V2082.3M447.9 2065.3V2082.3M449.7 2065.3V2082.3M396.2 2065.3V2082.3M452.1 2065.3V2082.3M436.0 2065.3V2082.3M379.8 2065.3V2082.3M373.4 2065.3V2082.3M373.2 2065.3V2082.3M443.9 2065.3V2082.3M395.6 2065.3V2082.3M382.3 2065.3V2082.3M431.4 2065.3V2082.3M404.7 2065.3V2082.3M378.5 2065.3V2082.3M387.1 2065.3V2082.3M422.1 2065.3V2082.3M387.9 2065.3V2082.3M475.8 2065.3V2082.3M489.5 2065.3V2082.3M481.4 2065.3V2082.3M477.3 2065.3V2082.3M482.0 2065.3V2082.3M467.9 2065.3V2082.3M479.3 2065.3V2082.3M480.4 2065.3V2082.3M473.1 2065.3V2082.3M470.6 2065.3V2082.3M495.4 2065.3V2082.3M483.2 2065.3V2082.3M473.8 2065.3V2082.3M486.2 2065.3V2082.3M492.8 2065.3V2082.3M467.9 2065.3V2082.3M467.8 2065.3V2082.3M471.8 2065.3V2082.3M489.7 2065.3V2082.3M472.2 2065.3V2082.3M489.3 2065.3V2082.3M488.4 2065.3V2082.3M484.3 2065.3V2082.3M474.1 2065.3V2082.3M497.8 2065.3V2082.3M492.2 2065.3V2082.3M483.4 2065.3V2082.3M474.2 2065.3V2082.3M487.5 2065.3V2082.3M479.6 2065.3V2082.3M485.2 2065.3V2082.3M477.3 2065.3V2082.3M487.0 2065.3V2082.3M469.0 2065.3V2082.3M476.6 2065.3V2082.3M497.5 2065.3V2082.3M494.6 2065.3V2082.3M476.8 2065.3V2082.3M494.1 2065.3V2082.3M476.9 2065.3V2082.3M496.6 2065.3V2082.3M490.5 2065.3V2082.3M480.2 2065.3V2082.3M475.1 2065.3V2082.3M467.5 2065.3V2082.3M494.7 2065.3V2082.3M468.4 2065.3V2082.3M492.9 2065.3V2082.3M497.3 2065.3V2082.3M485.1 2065.3V2082.3M472.6 2065.3V2082.3M494.4 2065.3V2082.3M497.7 2065.3V2082.3M489.3 2065.3V2082.3M483.1 2065.3V2082.3M479.0 2065.3V2082.3M478.1 2065.3V2082.3M473.7 2065.3V2082.3M488.3 2065.3V2082.3M480.8 2065.3V2082.3M473.3 2065.3V2082.3M470.5 2065.3V2082.3M488.1 2065.3V2082.3M476.5 2065.3V2082.3M482.9 2065.3V2082.3M477.4 2065.3V2082.3M494.5 2065.3V2082.3M495.4 2065.3V2082.3M467.8 2065.3V2082.3M473.5 2065.3V2082.3M477.5 2065.3V2082.3M498.1 2065.3V2082.3M491.7 2065.3V2082.3M477.8 2065.3V2082.3M473.9 2065.3V2082.3M488.3 2065.3V2082.3M493.4 2065.3V2082.3M496.4 2065.3V2082.3M478.0 2065.3V2082.3M494.8 2065.3V2082.3M488.7 2065.3V2082.3M504.3 2065.3V2082.3M510.3 2065.3V2082.3M501.3 2065.3V2082.3M507.2 2065.3V2082.3M499.5 2065.3V2082.3M500.5 2065.3V2082.3M509.4 2065.3V2082.3M501.1 2065.3V2082.3M507.6 2065.3V2082.3M505.7 2065.3V2082.3M508.6 2065.3V2082.3" stroke="#301030" stroke-opacity="0.1" stroke-width="1" fill="none"/>
<line x1="116.4" y1="1822.2" x2="533.2" y2="1822.2" stroke="#b0b0b2" stroke-width="1.1"/>
<line x1="116.4" y1="2002.1" x2="533.2" y2="2002.1" stroke="#bdbdbd" stroke-width="1.3"/>
<line x1="116.4" y1="2065.3" x2="533.2" y2="2065.3" stroke="#bdbdbd" stroke-width="1"/>
<path d="M116.4 1812.2H533.2M116.4 2082.3H533.2" fill="none" stroke="#bcbcbe" stroke-width="1.3"/>
<path d="M116.4 1812.2V2082.3M533.2 1812.2V2082.3" fill="none" stroke="#94949a" stroke-width="1.1"/>
<polyline points="116.2,1822.2 117.8,1822.6 119.8,1824.2 120.8,1824.7 122.1,1825.0 123.7,1826.3 125.1,1827.3 126.5,1827.3 128.5,1828.4 129.5,1829.6 131.2,1830.1 132.6,1831.1 134.1,1831.6 135.5,1832.5 136.6,1833.9 138.6,1834.6 140.2,1835.2 141.2,1836.0 142.7,1837.0 144.3,1837.9 145.6,1838.4 147.9,1839.0 149.1,1840.1 151.2,1840.7 152.4,1841.1 154.2,1840.9 155.9,1841.2 157.5,1842.2 159.8,1842.2 161.2,1842.7 163.0,1843.3 164.4,1844.5 165.8,1845.2 167.8,1845.7 168.7,1845.8 170.3,1846.8 172.9,1848.0 174.0,1848.4 175.8,1848.9 177.1,1850.6 178.6,1851.5 179.3,1851.9 181.4,1853.4 182.9,1854.1 184.4,1854.7 185.4,1856.0 187.0,1857.1 188.0,1857.5 189.5,1858.7 190.7,1859.2 192.1,1860.5 193.3,1861.4 194.7,1861.9 196.0,1863.1 197.8,1863.6 198.7,1864.7 200.5,1865.2 201.7,1866.5 203.0,1867.2 204.5,1867.8 205.6,1868.9 207.1,1869.7 208.3,1870.8 209.7,1871.5 211.4,1872.2 212.3,1873.0 213.9,1874.0 215.0,1874.7 216.5,1875.7 218.1,1876.6 219.6,1877.6 221.1,1878.3 222.5,1879.3 223.6,1880.2 225.1,1881.1 226.8,1881.8 228.1,1882.8 229.4,1883.4 230.7,1884.8 232.5,1885.4 233.9,1886.2 235.3,1887.5 236.8,1888.1 238.3,1889.2 239.2,1889.8 240.9,1890.6 242.3,1891.6 243.7,1892.3 245.2,1893.5 246.1,1894.3 247.6,1895.1 249.2,1896.2 250.6,1896.7 251.9,1897.4 253.3,1898.4 254.4,1899.2 255.7,1900.3 257.0,1900.9 258.4,1901.7 260.1,1902.8 261.4,1903.8 262.6,1904.2 263.8,1905.3 265.5,1906.4 266.7,1906.8 268.1,1908.1 269.3,1908.9 270.8,1909.6 272.4,1910.5 273.5,1911.1 274.6,1911.9 276.3,1913.2 277.8,1914.0 279.2,1914.8 280.1,1915.5 281.5,1916.6 283.3,1917.4 284.2,1918.5 285.6,1919.3 286.9,1920.3 288.7,1921.2 290.0,1921.8 290.9,1922.7 292.7,1923.6 293.7,1924.3 295.0,1925.4 296.8,1926.5 298.0,1927.3 299.3,1928.1 300.4,1929.1 301.8,1929.8 303.1,1930.8 304.5,1931.5 306.1,1932.4 307.5,1933.1 308.9,1934.3 310.2,1935.2 311.7,1935.5 312.9,1936.4 314.3,1937.4 315.7,1938.1 317.1,1938.9 318.0,1939.7 319.4,1941.1 321.1,1942.0 322.1,1942.7 323.8,1943.6 324.9,1944.5 326.5,1945.2 327.7,1946.0 329.0,1946.8 330.6,1947.7 331.8,1948.8 333.1,1949.7 334.2,1950.3 336.0,1950.9 337.3,1951.9 338.6,1953.0 339.7,1954.0 341.1,1954.5 342.6,1955.3 343.8,1956.5 345.1,1957.3 346.9,1958.1 348.2,1959.2 349.2,1959.6 350.9,1960.9 352.3,1961.7 353.5,1962.7 355.0,1963.5 356.2,1964.2 357.9,1964.7 359.1,1966.2 359.6,1966.8 361.7,1968.0 362.8,1968.7 364.1,1970.2 365.9,1970.9 366.9,1971.3 367.7,1972.7 369.7,1973.2 370.3,1974.6 371.8,1975.1 373.3,1976.5 374.4,1977.4 376.4,1978.2 377.8,1979.2 378.7,1980.8 379.9,1981.5 381.8,1982.7 383.4,1983.3 386.0,1984.1 387.5,1985.3 389.6,1985.9 391.0,1986.0 393.2,1985.8 394.9,1986.7 397.1,1986.8 398.9,1987.6 401.1,1988.3 402.3,1988.8 404.0,1989.0 406.0,1989.8 408.2,1991.0 409.2,1991.7 411.6,1991.5 413.1,1992.7 414.2,1991.5 416.4,1990.8 417.4,1989.3 418.6,1988.4 420.7,1987.3 421.3,1986.6 423.1,1985.8 424.7,1985.3 426.3,1983.5 427.4,1983.0 428.5,1980.8 430.2,1979.3 433.0,1980.2 433.7,1978.5 434.6,1977.1 434.9,1975.6 435.0,1974.2 435.9,1972.2 437.4,1971.1 438.2,1969.3 438.7,1967.3 438.2,1965.8 439.1,1963.9 439.5,1962.9 439.3,1960.8 441.6,1961.6 443.2,1960.2 444.1,1959.1 445.9,1957.4 446.5,1955.7 448.0,1954.1 448.7,1952.3 449.9,1953.8 451.6,1954.5 452.8,1953.6 454.4,1952.8 456.5,1953.7 458.7,1954.2 460.3,1953.4 462.9,1952.3 464.3,1951.1 465.8,1949.4 466.4,1947.7 467.7,1945.4 468.2,1944.0 468.6,1942.3 469.0,1940.4 469.5,1939.2 470.0,1937.6 470.9,1935.2 471.5,1933.8 472.1,1932.3 472.5,1930.2 472.6,1928.5 472.4,1927.3 472.9,1925.6 473.4,1924.5 473.6,1922.7 474.3,1920.8 474.3,1919.5 475.2,1917.4 474.9,1916.6 475.1,1914.5 475.4,1913.6 476.5,1911.1 476.5,1909.6 476.3,1908.0 477.2,1906.7 477.7,1905.1 477.7,1903.6 477.8,1901.7 478.2,1900.6 478.8,1898.9 479.1,1897.0 479.7,1895.3 480.0,1893.9 480.4,1892.6 480.3,1890.4 480.6,1889.1 481.1,1887.5 481.5,1885.9 481.9,1884.5 482.8,1883.2 482.9,1881.1 483.1,1879.9 483.9,1877.8 484.3,1876.8 483.8,1875.0 484.6,1873.3 485.0,1871.4 485.4,1870.2 485.1,1868.9 485.7,1866.9 486.6,1864.5 486.6,1862.7 487.7,1861.2 489.7,1860.7 491.4,1859.7 492.4,1858.4 492.2,1856.0 492.7,1854.5 493.6,1852.8 494.2,1851.2 495.1,1849.5 495.6,1848.0 496.0,1845.9 496.2,1844.1 496.4,1842.3 496.8,1840.6 497.4,1838.8 497.1,1836.9 497.7,1835.0 499.5,1833.7 501.4,1833.3 502.0,1832.0 503.9,1831.1 504.1,1830.1 505.6,1828.4 506.8,1826.9 507.0,1825.0 508.5,1823.6 509.3,1821.7 510.5,1819.9 511.2,1821.2 512.8,1822.2" fill="none" stroke="#60bb46" stroke-width="3.3" stroke-linejoin="round" stroke-linecap="round"/>
<text x="103.9" y="1830.1" font-size="23" text-anchor="end" textLength="15.0" lengthAdjust="spacingAndGlyphs">0</text>
<line x1="116.4" y1="1822.0" x2="119.4" y2="1822.0" stroke="#cfcfcf" stroke-width="1"/>
<text x="103.9" y="1856.0" font-size="23" text-anchor="end" textLength="41.8" lengthAdjust="spacingAndGlyphs">–0.1</text>
<line x1="116.4" y1="1847.9" x2="119.4" y2="1847.9" stroke="#cfcfcf" stroke-width="1"/>
<text x="103.9" y="1882.0" font-size="23" text-anchor="end" textLength="45.8" lengthAdjust="spacingAndGlyphs">–0.2</text>
<line x1="116.4" y1="1873.9" x2="119.4" y2="1873.9" stroke="#cfcfcf" stroke-width="1"/>
<text x="103.9" y="1907.9" font-size="23" text-anchor="end" textLength="45.8" lengthAdjust="spacingAndGlyphs">–0.3</text>
<line x1="116.4" y1="1899.8" x2="119.4" y2="1899.8" stroke="#cfcfcf" stroke-width="1"/>
<text x="103.9" y="1933.8" font-size="23" text-anchor="end" textLength="45.8" lengthAdjust="spacingAndGlyphs">–0.4</text>
<line x1="116.4" y1="1925.7" x2="119.4" y2="1925.7" stroke="#cfcfcf" stroke-width="1"/>
<text x="103.9" y="1959.8" font-size="23" text-anchor="end" textLength="45.8" lengthAdjust="spacingAndGlyphs">–0.5</text>
<line x1="116.4" y1="1951.7" x2="119.4" y2="1951.7" stroke="#cfcfcf" stroke-width="1"/>
<text x="103.9" y="1985.7" font-size="23" text-anchor="end" textLength="45.8" lengthAdjust="spacingAndGlyphs">–0.6</text>
<line x1="116.4" y1="1977.6" x2="119.4" y2="1977.6" stroke="#cfcfcf" stroke-width="1"/>
<text transform="translate(29.6 1947.0) rotate(-90)" font-size="27" text-anchor="middle" textLength="224.5" lengthAdjust="spacingAndGlyphs">Enrichment score</text>
<text x="325.0" y="1797.0" font-size="27" text-anchor="middle" textLength="158.0" lengthAdjust="spacingAndGlyphs">MYC targets</text>
<text x="121.8" y="1989.3" font-size="24.5" textLength="119.0" lengthAdjust="spacingAndGlyphs"><tspan font-style="italic">P</tspan> &lt; 0.001</text>
<text x="114.6" y="2113.5" font-size="27" textLength="103.0" lengthAdjust="spacingAndGlyphs">WT-TAC</text>
<text x="435.3" y="2113.5" font-size="27" textLength="101.4" lengthAdjust="spacingAndGlyphs">KO-TAC</text>
<rect x="115.7" y="2477.0" width="34.6" height="16.8" fill="#e2444e"/>
<rect x="150.0" y="2477.0" width="21.3" height="16.8" fill="#ea5c66"/>
<rect x="171.0" y="2477.0" width="201.1" height="16.8" fill="#e8b0d2"/>
<rect x="371.8" y="2477.0" width="89.5" height="16.8" fill="#bcbce2"/>
<rect x="461.0" y="2477.0" width="7.3" height="16.8" fill="#8c8cca"/>
<rect x="468.0" y="2477.0" width="31.3" height="16.8" fill="#5454aa"/>
<rect x="499.0" y="2477.0" width="14.9" height="16.8" fill="#4248a6"/>
<path d="M134.2 2416.5V2477.0M149.8 2416.5V2477.0M152.7 2416.5V2477.0M154.7 2416.5V2477.0M156.9 2416.5V2477.0M162.1 2416.5V2477.0M172.6 2416.5V2477.0M176.3 2416.5V2477.0M400.5 2416.5V2477.0M400.2 2416.5V2477.0M374.3 2416.5V2477.0M375.2 2416.5V2477.0M397.0 2416.5V2477.0M394.1 2416.5V2477.0M392.1 2416.5V2477.0M381.6 2416.5V2477.0M390.3 2416.5V2477.0M390.3 2416.5V2477.0M389.6 2416.5V2477.0M377.3 2416.5V2477.0M385.2 2416.5V2477.0M384.1 2416.5V2477.0M393.7 2416.5V2477.0M401.6 2416.5V2477.0M400.3 2416.5V2477.0M388.5 2416.5V2477.0M385.6 2416.5V2477.0M380.5 2416.5V2477.0M373.7 2416.5V2477.0M373.5 2416.5V2477.0M386.2 2416.5V2477.0M409.1 2416.5V2477.0M410.0 2416.5V2477.0M417.3 2416.5V2477.0M412.1 2416.5V2477.0M412.6 2416.5V2477.0M407.9 2416.5V2477.0M404.9 2416.5V2477.0M409.2 2416.5V2477.0M406.5 2416.5V2477.0M411.8 2416.5V2477.0M418.8 2416.5V2477.0M414.2 2416.5V2477.0M423.1 2416.5V2477.0M425.9 2416.5V2477.0M435.5 2416.5V2477.0M439.6 2416.5V2477.0M439.0 2416.5V2477.0M438.7 2416.5V2477.0M439.6 2416.5V2477.0M438.8 2416.5V2477.0M439.0 2416.5V2477.0M436.5 2416.5V2477.0M440.1 2416.5V2477.0M445.9 2416.5V2477.0M449.6 2416.5V2477.0M454.4 2416.5V2477.0M506.7 2416.5V2477.0M469.6 2416.5V2477.0M497.1 2416.5V2477.0M495.3 2416.5V2477.0M483.5 2416.5V2477.0M486.7 2416.5V2477.0M484.8 2416.5V2477.0M505.0 2416.5V2477.0M485.3 2416.5V2477.0M500.7 2416.5V2477.0M478.5 2416.5V2477.0M503.0 2416.5V2477.0M503.8 2416.5V2477.0M483.5 2416.5V2477.0M488.4 2416.5V2477.0M504.8 2416.5V2477.0M495.7 2416.5V2477.0M484.7 2416.5V2477.0M472.4 2416.5V2477.0M477.1 2416.5V2477.0M494.5 2416.5V2477.0M469.8 2416.5V2477.0M504.2 2416.5V2477.0M474.5 2416.5V2477.0M504.4 2416.5V2477.0M476.4 2416.5V2477.0M506.5 2416.5V2477.0M494.9 2416.5V2477.0M485.5 2416.5V2477.0M486.1 2416.5V2477.0M492.3 2416.5V2477.0M489.4 2416.5V2477.0M476.6 2416.5V2477.0M471.7 2416.5V2477.0M485.8 2416.5V2477.0M505.4 2416.5V2477.0M491.0 2416.5V2477.0M465.6 2416.5V2477.0M500.1 2416.5V2477.0" stroke="#111" stroke-width="1" fill="none"/>
<path d="M134.2 2477.0V2493.8M149.8 2477.0V2493.8M152.7 2477.0V2493.8M154.7 2477.0V2493.8M156.9 2477.0V2493.8M162.1 2477.0V2493.8M172.6 2477.0V2493.8M176.3 2477.0V2493.8M400.5 2477.0V2493.8M400.2 2477.0V2493.8M374.3 2477.0V2493.8M375.2 2477.0V2493.8M397.0 2477.0V2493.8M394.1 2477.0V2493.8M392.1 2477.0V2493.8M381.6 2477.0V2493.8M390.3 2477.0V2493.8M390.3 2477.0V2493.8M389.6 2477.0V2493.8M377.3 2477.0V2493.8M385.2 2477.0V2493.8M384.1 2477.0V2493.8M393.7 2477.0V2493.8M401.6 2477.0V2493.8M400.3 2477.0V2493.8M388.5 2477.0V2493.8M385.6 2477.0V2493.8M380.5 2477.0V2493.8M373.7 2477.0V2493.8M373.5 2477.0V2493.8M386.2 2477.0V2493.8M409.1 2477.0V2493.8M410.0 2477.0V2493.8M417.3 2477.0V2493.8M412.1 2477.0V2493.8M412.6 2477.0V2493.8M407.9 2477.0V2493.8M404.9 2477.0V2493.8M409.2 2477.0V2493.8M406.5 2477.0V2493.8M411.8 2477.0V2493.8M418.8 2477.0V2493.8M414.2 2477.0V2493.8M423.1 2477.0V2493.8M425.9 2477.0V2493.8M435.5 2477.0V2493.8M439.6 2477.0V2493.8M439.0 2477.0V2493.8M438.7 2477.0V2493.8M439.6 2477.0V2493.8M438.8 2477.0V2493.8M439.0 2477.0V2493.8M436.5 2477.0V2493.8M440.1 2477.0V2493.8M445.9 2477.0V2493.8M449.6 2477.0V2493.8M454.4 2477.0V2493.8M506.7 2477.0V2493.8M469.6 2477.0V2493.8M497.1 2477.0V2493.8M495.3 2477.0V2493.8M483.5 2477.0V2493.8M486.7 2477.0V2493.8M484.8 2477.0V2493.8M505.0 2477.0V2493.8M485.3 2477.0V2493.8M500.7 2477.0V2493.8M478.5 2477.0V2493.8M503.0 2477.0V2493.8M503.8 2477.0V2493.8M483.5 2477.0V2493.8M488.4 2477.0V2493.8M504.8 2477.0V2493.8M495.7 2477.0V2493.8M484.7 2477.0V2493.8M472.4 2477.0V2493.8M477.1 2477.0V2493.8M494.5 2477.0V2493.8M469.8 2477.0V2493.8M504.2 2477.0V2493.8M474.5 2477.0V2493.8M504.4 2477.0V2493.8M476.4 2477.0V2493.8M506.5 2477.0V2493.8M494.9 2477.0V2493.8M485.5 2477.0V2493.8M486.1 2477.0V2493.8M492.3 2477.0V2493.8M489.4 2477.0V2493.8M476.6 2477.0V2493.8M471.7 2477.0V2493.8M485.8 2477.0V2493.8M505.4 2477.0V2493.8M491.0 2477.0V2493.8M465.6 2477.0V2493.8M500.1 2477.0V2493.8" stroke="#301030" stroke-opacity="0.15" stroke-width="1" fill="none"/>
<line x1="115.7" y1="2237.3" x2="534.7" y2="2237.3" stroke="#b0b0b2" stroke-width="1.1"/>
<line x1="115.7" y1="2414.9" x2="534.7" y2="2414.9" stroke="#bdbdbd" stroke-width="1.3"/>
<line x1="115.7" y1="2477.0" x2="534.7" y2="2477.0" stroke="#bdbdbd" stroke-width="1"/>
<path d="M115.7 2225.6H534.7M115.7 2493.8H534.7" fill="none" stroke="#bcbcbe" stroke-width="1.3"/>
<path d="M115.7 2225.6V2493.8M534.7 2225.6V2493.8" fill="none" stroke="#94949a" stroke-width="1.1"/>
<polyline points="115.7,2237.3 116.7,2238.3 118.2,2239.3 120.0,2239.9 121.5,2241.0 122.3,2241.9 124.3,2242.8 126.0,2243.9 126.9,2244.4 128.5,2245.5 129.5,2247.0 131.5,2247.9 132.7,2249.0 133.7,2246.8 134.7,2244.7 135.7,2245.8 136.9,2246.9 138.7,2248.1 139.9,2249.0 141.0,2249.5 142.5,2251.0 144.1,2252.1 145.5,2252.7 147.4,2253.4 148.4,2254.7 149.2,2253.3 150.7,2251.7 151.7,2250.3 152.7,2249.0 155.0,2249.8 156.9,2249.8 158.7,2250.7 159.7,2251.8 161.2,2252.1 164.0,2250.7 165.4,2251.7 167.3,2252.6 168.2,2253.6 169.8,2254.7 171.3,2255.2 173.1,2256.1 174.0,2256.9 175.3,2258.4 177.3,2258.6 177.9,2260.3 180.1,2260.8 180.9,2262.1 183.0,2262.6 183.9,2264.1 185.4,2264.9 186.6,2265.8 187.9,2266.8 189.3,2267.5 190.8,2268.4 192.0,2269.4 193.5,2270.4 195.0,2271.4 196.1,2272.2 197.5,2273.5 198.8,2274.2 200.5,2275.4 201.6,2276.3 203.1,2276.9 204.1,2277.8 205.9,2278.9 207.3,2280.1 208.7,2280.8 209.5,2281.6 211.0,2282.8 212.6,2283.8 213.9,2284.5 215.3,2285.7 216.7,2286.4 218.1,2287.2 219.4,2288.4 220.8,2288.9 221.8,2290.3 223.2,2291.0 224.8,2291.9 226.3,2293.1 227.3,2293.6 229.0,2294.7 230.0,2295.4 231.2,2296.6 232.7,2297.5 234.4,2298.4 235.8,2299.0 237.1,2300.4 238.5,2300.9 239.6,2302.1 241.0,2303.0 242.3,2303.9 243.6,2305.0 245.3,2305.8 246.7,2306.7 247.5,2307.6 248.9,2308.6 250.5,2309.2 251.6,2310.0 253.0,2311.4 254.4,2312.3 255.7,2312.9 257.2,2313.8 258.9,2314.7 259.9,2315.5 261.1,2316.7 262.6,2317.5 264.1,2318.2 265.1,2319.4 267.0,2320.0 268.1,2321.4 269.6,2322.3 270.8,2323.0 272.2,2324.2 273.3,2324.8 275.1,2325.7 276.2,2326.6 277.5,2327.8 279.2,2328.4 280.2,2329.6 281.8,2330.5 283.1,2331.5 284.5,2332.3 285.6,2332.9 287.3,2334.2 288.6,2334.8 289.9,2336.1 291.0,2336.5 292.3,2337.6 293.9,2338.8 295.4,2339.7 296.8,2340.7 297.9,2341.6 299.3,2342.3 300.7,2343.1 302.0,2344.0 303.3,2345.3 304.4,2346.0 306.0,2346.8 307.1,2347.9 308.7,2348.6 310.0,2349.8 311.2,2350.8 312.6,2351.5 314.1,2352.7 315.7,2353.5 316.8,2354.2 318.4,2355.2 319.7,2356.3 320.8,2357.0 322.6,2357.9 323.9,2358.7 324.7,2359.8 326.2,2360.8 327.7,2361.7 329.2,2362.3 330.4,2363.5 332.0,2364.6 333.4,2365.5 334.4,2366.4 335.9,2367.1 337.1,2368.2 338.8,2368.9 339.8,2369.8 341.2,2370.8 342.4,2371.9 343.9,2372.9 345.2,2373.8 347.0,2374.4 348.0,2375.8 349.4,2376.3 350.6,2377.5 352.0,2378.5 353.5,2379.0 355.1,2380.3 356.2,2381.0 357.8,2382.1 359.1,2383.4 359.8,2383.7 361.7,2384.8 363.2,2386.2 364.1,2386.5 365.5,2387.9 366.8,2389.0 368.0,2390.1 369.4,2390.3 371.0,2391.3 372.4,2393.0 373.3,2393.6 374.4,2394.2 376.3,2395.3 377.4,2396.5 378.8,2396.8 380.4,2398.4 382.3,2398.5 383.5,2399.6 384.7,2400.7 386.8,2401.0 387.7,2401.3 389.8,2401.6 391.8,2402.1 393.2,2402.7 395.3,2402.9 397.0,2403.8 398.9,2404.1 400.5,2404.0 403.0,2404.2 404.6,2404.4 405.9,2403.6 407.6,2402.9 408.9,2401.5 410.3,2400.0 411.7,2397.8 414.2,2397.3 416.0,2395.8 417.8,2394.9 418.8,2393.6 421.7,2395.0 422.9,2393.2 423.4,2392.1 424.8,2389.9 425.9,2388.4 427.4,2389.6 429.1,2390.0 430.2,2391.3 432.2,2392.5 434.1,2393.2 435.3,2393.6 435.8,2392.2 436.2,2390.5 437.0,2388.3 436.5,2387.0 437.3,2385.0 438.1,2383.9 437.9,2381.8 437.9,2380.6 438.4,2378.3 438.5,2377.6 439.1,2375.8 439.1,2373.9 440.1,2372.6 440.2,2370.8 441.3,2371.5 443.3,2372.7 444.4,2373.1 445.1,2371.9 447.0,2370.6 447.9,2369.0 448.7,2367.9 449.2,2365.6 450.0,2364.2 450.1,2362.3 451.9,2363.4 454.4,2363.7 456.2,2363.6 458.7,2364.5 461.0,2364.7 462.9,2365.7 463.8,2363.7 463.9,2362.8 465.2,2361.1 465.8,2359.4 466.9,2357.7 467.4,2355.5 468.6,2353.7 469.1,2352.3 469.5,2350.1 470.0,2348.7 470.1,2346.6 470.5,2344.5 471.0,2343.4 471.9,2341.3 472.9,2339.5 473.2,2338.0 473.8,2336.3 473.3,2334.4 473.5,2332.7 474.3,2331.3 474.3,2329.5 475.3,2328.2 476.5,2325.9 477.1,2324.5 477.3,2323.2 478.6,2321.0 479.6,2319.7 480.5,2318.1 481.4,2317.2 482.9,2315.3 483.5,2313.4 485.2,2312.5 485.9,2311.5 487.1,2309.6 488.2,2308.1 489.1,2307.2 490.1,2305.2 490.5,2303.9 491.1,2302.0 491.0,2301.2 491.6,2299.0 491.7,2297.4 492.2,2295.9 492.2,2294.2 492.9,2293.0 492.8,2291.1 492.9,2289.2 493.9,2287.8 494.0,2285.9 494.2,2284.0 494.3,2282.4 495.2,2280.7 495.2,2279.1 495.8,2277.3 496.4,2275.5 496.7,2274.4 496.5,2272.5 497.1,2271.2 497.0,2269.2 497.9,2267.7 497.2,2266.5 498.3,2264.5 497.7,2263.2 498.0,2261.5 498.4,2260.5 498.5,2258.4 498.8,2256.7 499.5,2255.3 500.0,2253.6 500.2,2252.1 500.5,2250.5 500.8,2249.0 501.9,2249.4 503.6,2250.7 503.9,2249.4 504.3,2247.1 504.6,2245.5 504.8,2243.3 505.1,2241.7 505.6,2239.9 506.1,2238.4 507.1,2236.6 507.3,2235.6 507.6,2233.6 509.9,2235.6 512.0,2236.8 513.6,2237.3" fill="none" stroke="#60bb46" stroke-width="3.3" stroke-linejoin="round" stroke-linecap="round"/>
<text x="103.9" y="2245.0" font-size="23" text-anchor="end" textLength="15.0" lengthAdjust="spacingAndGlyphs">0</text>
<line x1="115.7" y1="2236.9" x2="118.7" y2="2236.9" stroke="#cfcfcf" stroke-width="1"/>
<text x="103.9" y="2271.8" font-size="23" text-anchor="end" textLength="41.8" lengthAdjust="spacingAndGlyphs">–0.1</text>
<line x1="115.7" y1="2263.7" x2="118.7" y2="2263.7" stroke="#cfcfcf" stroke-width="1"/>
<text x="103.9" y="2298.5" font-size="23" text-anchor="end" textLength="45.8" lengthAdjust="spacingAndGlyphs">–0.2</text>
<line x1="115.7" y1="2290.4" x2="118.7" y2="2290.4" stroke="#cfcfcf" stroke-width="1"/>
<text x="103.9" y="2325.2" font-size="23" text-anchor="end" textLength="45.8" lengthAdjust="spacingAndGlyphs">–0.3</text>
<line x1="115.7" y1="2317.2" x2="118.7" y2="2317.2" stroke="#cfcfcf" stroke-width="1"/>
<text x="103.9" y="2352.0" font-size="23" text-anchor="end" textLength="45.8" lengthAdjust="spacingAndGlyphs">–0.4</text>
<line x1="115.7" y1="2343.9" x2="118.7" y2="2343.9" stroke="#cfcfcf" stroke-width="1"/>
<text x="103.9" y="2378.8" font-size="23" text-anchor="end" textLength="45.8" lengthAdjust="spacingAndGlyphs">–0.5</text>
<line x1="115.7" y1="2370.7" x2="118.7" y2="2370.7" stroke="#cfcfcf" stroke-width="1"/>
<text x="103.9" y="2405.5" font-size="23" text-anchor="end" textLength="45.8" lengthAdjust="spacingAndGlyphs">–0.6</text>
<line x1="115.7" y1="2397.4" x2="118.7" y2="2397.4" stroke="#cfcfcf" stroke-width="1"/>
<text transform="translate(29.6 2359.0) rotate(-90)" font-size="27" text-anchor="middle" textLength="224.5" lengthAdjust="spacingAndGlyphs">Enrichment score</text>
<text x="324.6" y="2171.6" font-size="27" text-anchor="middle" textLength="195.2" lengthAdjust="spacingAndGlyphs">Left ventricular</text>
<text x="324.5" y="2202.0" font-size="27" text-anchor="middle" textLength="159.1" lengthAdjust="spacingAndGlyphs">hypertrophy</text>
<text x="121.2" y="2404.4" font-size="24.5" textLength="116.2" lengthAdjust="spacingAndGlyphs"><tspan font-style="italic">P</tspan> = 0.013</text>
<text x="114.6" y="2527.4" font-size="27" textLength="102.5" lengthAdjust="spacingAndGlyphs">WT-TAC</text>
<text x="435.6" y="2527.4" font-size="27" textLength="101.5" lengthAdjust="spacingAndGlyphs">KO-TAC</text>
<text x="608.5" y="1751.0" font-size="38" textLength="13.7" lengthAdjust="spacingAndGlyphs" font-weight="bold" fill="#1a1718" stroke="#1a1718" stroke-width="0.9">f</text>
<rect x="700.5" y="2063.8" width="19.7" height="17.1" fill="#e03c48"/>
<rect x="719.9" y="2063.8" width="76.5" height="17.1" fill="#e8525c"/>
<rect x="796.1" y="2063.8" width="44.5" height="17.1" fill="#ec6a7c"/>
<rect x="840.3" y="2063.8" width="70.6" height="17.1" fill="#ea7a80"/>
<rect x="910.6" y="2063.8" width="70.0" height="17.1" fill="#e8b0d2"/>
<rect x="980.3" y="2063.8" width="21.7" height="17.1" fill="#c8c8e4"/>
<rect x="1001.7" y="2063.8" width="28.2" height="17.1" fill="#b0b0dc"/>
<rect x="1029.6" y="2063.8" width="20.7" height="17.1" fill="#7080c4"/>
<rect x="1050.0" y="2063.8" width="38.8" height="17.1" fill="#5a5aac"/>
<rect x="1088.5" y="2063.8" width="10.2" height="17.1" fill="#4040a8"/>
<path d="M708.5 2002.8V2063.8M711.9 2002.8V2063.8M713.6 2002.8V2063.8M715.3 2002.8V2063.8M727.0 2002.8V2063.8M740.1 2002.8V2063.8M797.0 2002.8V2063.8M856.8 2002.8V2063.8M859.3 2002.8V2063.8M865.6 2002.8V2063.8M867.3 2002.8V2063.8M892.9 2002.8V2063.8M947.0 2002.8V2063.8M971.2 2002.8V2063.8M978.3 2002.8V2063.8M980.3 2002.8V2063.8M986.0 2002.8V2063.8M1087.1 2002.8V2063.8" stroke="#4a4a4a" stroke-width="1" fill="none"/>
<path d="M708.5 2063.8V2080.9M711.9 2063.8V2080.9M713.6 2063.8V2080.9M715.3 2063.8V2080.9M727.0 2063.8V2080.9M740.1 2063.8V2080.9M797.0 2063.8V2080.9M856.8 2063.8V2080.9M859.3 2063.8V2080.9M865.6 2063.8V2080.9M867.3 2063.8V2080.9M892.9 2063.8V2080.9M947.0 2063.8V2080.9M971.2 2063.8V2080.9M978.3 2063.8V2080.9M980.3 2063.8V2080.9M986.0 2063.8V2080.9M1087.1 2063.8V2080.9" stroke="#301030" stroke-opacity="0.22" stroke-width="1" fill="none"/>
<line x1="700.5" y1="1967.9" x2="1119.2" y2="1967.9" stroke="#b0b0b2" stroke-width="1.1"/>
<line x1="700.5" y1="2001.2" x2="1119.2" y2="2001.2" stroke="#bdbdbd" stroke-width="1.3"/>
<line x1="700.5" y1="2063.8" x2="1119.2" y2="2063.8" stroke="#bdbdbd" stroke-width="1"/>
<path d="M700.5 1810.5H1119.2M700.5 2080.9H1119.2" fill="none" stroke="#bcbcbe" stroke-width="1.3"/>
<path d="M700.5 1810.5V2080.9M1119.2 1810.5V2080.9" fill="none" stroke="#94949a" stroke-width="1.1"/>
<polyline points="700.5,1967.9 708.5,1975.6 709.0,1930.9 712.2,1934.6 713.0,1895.3 715.3,1897.6 715.9,1859.2 726.4,1868.8 727.3,1835.5 739.8,1846.4 740.3,1818.5 796.1,1865.4 797.3,1848.4 855.9,1896.7 856.8,1885.4 858.5,1886.8 859.3,1874.0 865.3,1879.7 865.9,1866.9 867.3,1868.3 867.9,1856.3 892.1,1876.8 892.9,1866.3 946.2,1911.5 947.3,1903.3 970.9,1923.2 971.8,1916.7 977.5,1921.8 978.9,1913.8 980.6,1915.8 981.7,1913.0 985.2,1917.2 986.3,1908.1 990.3,1910.1 1086.5,1991.5 1087.3,1958.5 1098.4,1968.5" fill="none" stroke="#60bb46" stroke-width="2.8" stroke-linejoin="round" stroke-linecap="round"/>
<text x="690.8" y="1846.5" font-size="23" text-anchor="end" textLength="36.4" lengthAdjust="spacingAndGlyphs">0.4</text>
<line x1="700.5" y1="1838.4" x2="703.5" y2="1838.4" stroke="#cfcfcf" stroke-width="1"/>
<text x="690.8" y="1878.4" font-size="23" text-anchor="end" textLength="36.4" lengthAdjust="spacingAndGlyphs">0.3</text>
<line x1="700.5" y1="1870.3" x2="703.5" y2="1870.3" stroke="#cfcfcf" stroke-width="1"/>
<text x="690.8" y="1911.1" font-size="23" text-anchor="end" textLength="36.4" lengthAdjust="spacingAndGlyphs">0.2</text>
<line x1="700.5" y1="1903.0" x2="703.5" y2="1903.0" stroke="#cfcfcf" stroke-width="1"/>
<text x="690.8" y="1943.3" font-size="23" text-anchor="end" textLength="30.7" lengthAdjust="spacingAndGlyphs">0.1</text>
<line x1="700.5" y1="1935.2" x2="703.5" y2="1935.2" stroke="#cfcfcf" stroke-width="1"/>
<text x="690.8" y="1976.0" font-size="23" text-anchor="end" textLength="15.0" lengthAdjust="spacingAndGlyphs">0</text>
<line x1="700.5" y1="1967.9" x2="703.5" y2="1967.9" stroke="#cfcfcf" stroke-width="1"/>
<text transform="translate(632.5 1946.0) rotate(-90)" font-size="27" text-anchor="middle" textLength="224.5" lengthAdjust="spacingAndGlyphs">Enrichment score</text>
<text x="910.5" y="1766.3" font-size="27" text-anchor="middle" textLength="240.7" lengthAdjust="spacingAndGlyphs">Degradation of the</text>
<text x="909.7" y="1797.0" font-size="27" text-anchor="middle" textLength="248.3" lengthAdjust="spacingAndGlyphs">extracellular matrix</text>
<text x="928.9" y="1840.7" font-size="24.5" textLength="122.5" lengthAdjust="spacingAndGlyphs"><tspan font-style="italic">P</tspan> = 0.048</text>
<text x="698.9" y="2113.5" font-size="27" textLength="104.1" lengthAdjust="spacingAndGlyphs">WT-TAC</text>
<text x="1022.7" y="2113.5" font-size="27" textLength="98.3" lengthAdjust="spacingAndGlyphs">Control</text>
<rect x="705.6" y="2476.1" width="14.7" height="17.1" fill="#d8343e"/>
<rect x="720.0" y="2476.1" width="79.9" height="17.1" fill="#e8505c"/>
<rect x="799.6" y="2476.1" width="40.1" height="17.1" fill="#e8607a"/>
<rect x="839.4" y="2476.1" width="77.2" height="17.1" fill="#ea7a80"/>
<rect x="916.3" y="2476.1" width="70.9" height="17.1" fill="#e8b0d2"/>
<rect x="986.9" y="2476.1" width="20.8" height="17.1" fill="#c8c8e4"/>
<rect x="1007.4" y="2476.1" width="28.7" height="17.1" fill="#b0b0dc"/>
<rect x="1035.8" y="2476.1" width="20.2" height="17.1" fill="#7080c4"/>
<rect x="1055.7" y="2476.1" width="38.8" height="17.1" fill="#5a5aac"/>
<rect x="1094.2" y="2476.1" width="11.1" height="17.1" fill="#4040a8"/>
<path d="M715.5 2414.2V2476.1M710.2 2414.2V2476.1M721.7 2414.2V2476.1M712.3 2414.2V2476.1M708.8 2414.2V2476.1M722.0 2414.2V2476.1M742.2 2414.2V2476.1M737.6 2414.2V2476.1M736.2 2414.2V2476.1M714.9 2414.2V2476.1M727.3 2414.2V2476.1M717.1 2414.2V2476.1M713.0 2414.2V2476.1M710.4 2414.2V2476.1M714.6 2414.2V2476.1M742.6 2414.2V2476.1M738.8 2414.2V2476.1M737.9 2414.2V2476.1M737.6 2414.2V2476.1M713.8 2414.2V2476.1M718.4 2414.2V2476.1M730.8 2414.2V2476.1M734.9 2414.2V2476.1M739.8 2414.2V2476.1M740.8 2414.2V2476.1M709.6 2414.2V2476.1M730.0 2414.2V2476.1M732.6 2414.2V2476.1M726.1 2414.2V2476.1M713.2 2414.2V2476.1M724.8 2414.2V2476.1M709.7 2414.2V2476.1M742.9 2414.2V2476.1M740.2 2414.2V2476.1M727.7 2414.2V2476.1M718.0 2414.2V2476.1M741.9 2414.2V2476.1M728.7 2414.2V2476.1M740.8 2414.2V2476.1M739.5 2414.2V2476.1M726.2 2414.2V2476.1M722.4 2414.2V2476.1M729.7 2414.2V2476.1M723.1 2414.2V2476.1M712.5 2414.2V2476.1M718.2 2414.2V2476.1M738.1 2414.2V2476.1M707.9 2414.2V2476.1M708.0 2414.2V2476.1M730.8 2414.2V2476.1M717.2 2414.2V2476.1M727.2 2414.2V2476.1M724.7 2414.2V2476.1M719.7 2414.2V2476.1M745.4 2414.2V2476.1M713.9 2414.2V2476.1M722.4 2414.2V2476.1M714.1 2414.2V2476.1M731.0 2414.2V2476.1M717.0 2414.2V2476.1M720.2 2414.2V2476.1M735.5 2414.2V2476.1M770.2 2414.2V2476.1M786.5 2414.2V2476.1M810.1 2414.2V2476.1M755.2 2414.2V2476.1M752.5 2414.2V2476.1M764.0 2414.2V2476.1M800.6 2414.2V2476.1M790.4 2414.2V2476.1M764.5 2414.2V2476.1M770.9 2414.2V2476.1M760.4 2414.2V2476.1M779.7 2414.2V2476.1M751.2 2414.2V2476.1M796.0 2414.2V2476.1M809.5 2414.2V2476.1M813.5 2414.2V2476.1M798.5 2414.2V2476.1M813.9 2414.2V2476.1M749.6 2414.2V2476.1M768.1 2414.2V2476.1M814.3 2414.2V2476.1M801.3 2414.2V2476.1M776.4 2414.2V2476.1M812.8 2414.2V2476.1M790.7 2414.2V2476.1M804.2 2414.2V2476.1M768.4 2414.2V2476.1M761.4 2414.2V2476.1M778.7 2414.2V2476.1M757.6 2414.2V2476.1M774.4 2414.2V2476.1M814.0 2414.2V2476.1M771.0 2414.2V2476.1M749.0 2414.2V2476.1M751.4 2414.2V2476.1M759.9 2414.2V2476.1M801.9 2414.2V2476.1M773.1 2414.2V2476.1M768.2 2414.2V2476.1M755.0 2414.2V2476.1M815.4 2414.2V2476.1M777.3 2414.2V2476.1M762.5 2414.2V2476.1M752.4 2414.2V2476.1M752.1 2414.2V2476.1M759.8 2414.2V2476.1M794.6 2414.2V2476.1M758.5 2414.2V2476.1M751.1 2414.2V2476.1M781.8 2414.2V2476.1M765.3 2414.2V2476.1M816.5 2414.2V2476.1M756.7 2414.2V2476.1M784.5 2414.2V2476.1M801.2 2414.2V2476.1M776.3 2414.2V2476.1M815.8 2414.2V2476.1M781.0 2414.2V2476.1M764.8 2414.2V2476.1M776.4 2414.2V2476.1M750.8 2414.2V2476.1M777.1 2414.2V2476.1M765.3 2414.2V2476.1M809.1 2414.2V2476.1M805.1 2414.2V2476.1M782.4 2414.2V2476.1M750.5 2414.2V2476.1M765.7 2414.2V2476.1M764.9 2414.2V2476.1M762.5 2414.2V2476.1M764.1 2414.2V2476.1M807.7 2414.2V2476.1M758.0 2414.2V2476.1M751.8 2414.2V2476.1M811.7 2414.2V2476.1M786.9 2414.2V2476.1M816.0 2414.2V2476.1M775.8 2414.2V2476.1M809.9 2414.2V2476.1M793.0 2414.2V2476.1M802.3 2414.2V2476.1M799.2 2414.2V2476.1M782.1 2414.2V2476.1M754.7 2414.2V2476.1M762.7 2414.2V2476.1M808.0 2414.2V2476.1M809.8 2414.2V2476.1M811.5 2414.2V2476.1M771.3 2414.2V2476.1M793.2 2414.2V2476.1M802.9 2414.2V2476.1M792.2 2414.2V2476.1M903.9 2414.2V2476.1M873.8 2414.2V2476.1M887.1 2414.2V2476.1M890.4 2414.2V2476.1M846.5 2414.2V2476.1M915.3 2414.2V2476.1M918.8 2414.2V2476.1M826.2 2414.2V2476.1M920.3 2414.2V2476.1M919.4 2414.2V2476.1M888.5 2414.2V2476.1M823.0 2414.2V2476.1M912.8 2414.2V2476.1M831.7 2414.2V2476.1M920.1 2414.2V2476.1M888.4 2414.2V2476.1M824.7 2414.2V2476.1M835.9 2414.2V2476.1M885.1 2414.2V2476.1M878.1 2414.2V2476.1M896.8 2414.2V2476.1M915.8 2414.2V2476.1M841.3 2414.2V2476.1M818.7 2414.2V2476.1M915.2 2414.2V2476.1M819.7 2414.2V2476.1M910.4 2414.2V2476.1M830.5 2414.2V2476.1M903.4 2414.2V2476.1M900.6 2414.2V2476.1M910.6 2414.2V2476.1M876.2 2414.2V2476.1M910.6 2414.2V2476.1M839.5 2414.2V2476.1M888.9 2414.2V2476.1M853.1 2414.2V2476.1M912.0 2414.2V2476.1M899.6 2414.2V2476.1M867.9 2414.2V2476.1M873.6 2414.2V2476.1M821.1 2414.2V2476.1M821.9 2414.2V2476.1M880.8 2414.2V2476.1M869.7 2414.2V2476.1M909.2 2414.2V2476.1M882.2 2414.2V2476.1M832.9 2414.2V2476.1M856.4 2414.2V2476.1M899.0 2414.2V2476.1M873.3 2414.2V2476.1M819.5 2414.2V2476.1M906.3 2414.2V2476.1M905.3 2414.2V2476.1M827.3 2414.2V2476.1M875.4 2414.2V2476.1M858.4 2414.2V2476.1M901.0 2414.2V2476.1M851.0 2414.2V2476.1M842.9 2414.2V2476.1M869.5 2414.2V2476.1M919.8 2414.2V2476.1M828.3 2414.2V2476.1M830.4 2414.2V2476.1M883.6 2414.2V2476.1M911.3 2414.2V2476.1M872.2 2414.2V2476.1M863.9 2414.2V2476.1M908.4 2414.2V2476.1M899.9 2414.2V2476.1M825.4 2414.2V2476.1M910.9 2414.2V2476.1M838.9 2414.2V2476.1M850.1 2414.2V2476.1M906.2 2414.2V2476.1M862.7 2414.2V2476.1M902.2 2414.2V2476.1M835.9 2414.2V2476.1M910.2 2414.2V2476.1M836.9 2414.2V2476.1M834.0 2414.2V2476.1M870.3 2414.2V2476.1M853.9 2414.2V2476.1M875.3 2414.2V2476.1M913.3 2414.2V2476.1M893.0 2414.2V2476.1M818.9 2414.2V2476.1M851.1 2414.2V2476.1M875.6 2414.2V2476.1M869.4 2414.2V2476.1M893.5 2414.2V2476.1M869.2 2414.2V2476.1M826.3 2414.2V2476.1M844.1 2414.2V2476.1M907.4 2414.2V2476.1M855.8 2414.2V2476.1M898.9 2414.2V2476.1M921.9 2414.2V2476.1M884.2 2414.2V2476.1M889.4 2414.2V2476.1M882.4 2414.2V2476.1M851.2 2414.2V2476.1M914.2 2414.2V2476.1M867.4 2414.2V2476.1M914.1 2414.2V2476.1M850.4 2414.2V2476.1M909.5 2414.2V2476.1M901.0 2414.2V2476.1M882.7 2414.2V2476.1M864.8 2414.2V2476.1M833.1 2414.2V2476.1M899.3 2414.2V2476.1M856.4 2414.2V2476.1M887.9 2414.2V2476.1M832.3 2414.2V2476.1M827.0 2414.2V2476.1M926.9 2414.2V2476.1M934.1 2414.2V2476.1M927.3 2414.2V2476.1M935.1 2414.2V2476.1M929.4 2414.2V2476.1M931.6 2414.2V2476.1M953.1 2414.2V2476.1M965.0 2414.2V2476.1M941.7 2414.2V2476.1M955.4 2414.2V2476.1M978.9 2414.2V2476.1M945.5 2414.2V2476.1M966.5 2414.2V2476.1M952.0 2414.2V2476.1M950.9 2414.2V2476.1M938.6 2414.2V2476.1M938.5 2414.2V2476.1M979.5 2414.2V2476.1M974.2 2414.2V2476.1M973.0 2414.2V2476.1M973.2 2414.2V2476.1M979.7 2414.2V2476.1M944.6 2414.2V2476.1M963.4 2414.2V2476.1M959.5 2414.2V2476.1M962.9 2414.2V2476.1M979.0 2414.2V2476.1M971.2 2414.2V2476.1M980.3 2414.2V2476.1M942.8 2414.2V2476.1M966.4 2414.2V2476.1M967.4 2414.2V2476.1M970.5 2414.2V2476.1M964.9 2414.2V2476.1M974.3 2414.2V2476.1M951.0 2414.2V2476.1M978.6 2414.2V2476.1M955.5 2414.2V2476.1M964.0 2414.2V2476.1M977.2 2414.2V2476.1M968.7 2414.2V2476.1M951.3 2414.2V2476.1M947.8 2414.2V2476.1M952.0 2414.2V2476.1M965.3 2414.2V2476.1M981.6 2414.2V2476.1M977.3 2414.2V2476.1M955.3 2414.2V2476.1M955.3 2414.2V2476.1M973.7 2414.2V2476.1M950.1 2414.2V2476.1M955.8 2414.2V2476.1M938.2 2414.2V2476.1M945.7 2414.2V2476.1M961.4 2414.2V2476.1M968.2 2414.2V2476.1M964.7 2414.2V2476.1M953.7 2414.2V2476.1M979.6 2414.2V2476.1M965.1 2414.2V2476.1M944.5 2414.2V2476.1M984.0 2414.2V2476.1M986.9 2414.2V2476.1M990.8 2414.2V2476.1M1016.5 2414.2V2476.1M1020.4 2414.2V2476.1M1025.9 2414.2V2476.1M1027.9 2414.2V2476.1M1029.6 2414.2V2476.1M1037.2 2414.2V2476.1M1039.2 2414.2V2476.1M1051.8 2414.2V2476.1M1059.4 2414.2V2476.1M1066.6 2414.2V2476.1M1073.2 2414.2V2476.1M1085.3 2414.2V2476.1M1085.5 2414.2V2476.1M1084.6 2414.2V2476.1M1080.3 2414.2V2476.1M1076.4 2414.2V2476.1M1073.5 2414.2V2476.1M1075.7 2414.2V2476.1M1088.8 2414.2V2476.1M1094.2 2414.2V2476.1" stroke="#2a2a2a" stroke-width="1" fill="none"/>
<path d="M715.5 2476.1V2493.2M710.2 2476.1V2493.2M721.7 2476.1V2493.2M712.3 2476.1V2493.2M708.8 2476.1V2493.2M722.0 2476.1V2493.2M742.2 2476.1V2493.2M737.6 2476.1V2493.2M736.2 2476.1V2493.2M714.9 2476.1V2493.2M727.3 2476.1V2493.2M717.1 2476.1V2493.2M713.0 2476.1V2493.2M710.4 2476.1V2493.2M714.6 2476.1V2493.2M742.6 2476.1V2493.2M738.8 2476.1V2493.2M737.9 2476.1V2493.2M737.6 2476.1V2493.2M713.8 2476.1V2493.2M718.4 2476.1V2493.2M730.8 2476.1V2493.2M734.9 2476.1V2493.2M739.8 2476.1V2493.2M740.8 2476.1V2493.2M709.6 2476.1V2493.2M730.0 2476.1V2493.2M732.6 2476.1V2493.2M726.1 2476.1V2493.2M713.2 2476.1V2493.2M724.8 2476.1V2493.2M709.7 2476.1V2493.2M742.9 2476.1V2493.2M740.2 2476.1V2493.2M727.7 2476.1V2493.2M718.0 2476.1V2493.2M741.9 2476.1V2493.2M728.7 2476.1V2493.2M740.8 2476.1V2493.2M739.5 2476.1V2493.2M726.2 2476.1V2493.2M722.4 2476.1V2493.2M729.7 2476.1V2493.2M723.1 2476.1V2493.2M712.5 2476.1V2493.2M718.2 2476.1V2493.2M738.1 2476.1V2493.2M707.9 2476.1V2493.2M708.0 2476.1V2493.2M730.8 2476.1V2493.2M717.2 2476.1V2493.2M727.2 2476.1V2493.2M724.7 2476.1V2493.2M719.7 2476.1V2493.2M745.4 2476.1V2493.2M713.9 2476.1V2493.2M722.4 2476.1V2493.2M714.1 2476.1V2493.2M731.0 2476.1V2493.2M717.0 2476.1V2493.2M720.2 2476.1V2493.2M735.5 2476.1V2493.2M770.2 2476.1V2493.2M786.5 2476.1V2493.2M810.1 2476.1V2493.2M755.2 2476.1V2493.2M752.5 2476.1V2493.2M764.0 2476.1V2493.2M800.6 2476.1V2493.2M790.4 2476.1V2493.2M764.5 2476.1V2493.2M770.9 2476.1V2493.2M760.4 2476.1V2493.2M779.7 2476.1V2493.2M751.2 2476.1V2493.2M796.0 2476.1V2493.2M809.5 2476.1V2493.2M813.5 2476.1V2493.2M798.5 2476.1V2493.2M813.9 2476.1V2493.2M749.6 2476.1V2493.2M768.1 2476.1V2493.2M814.3 2476.1V2493.2M801.3 2476.1V2493.2M776.4 2476.1V2493.2M812.8 2476.1V2493.2M790.7 2476.1V2493.2M804.2 2476.1V2493.2M768.4 2476.1V2493.2M761.4 2476.1V2493.2M778.7 2476.1V2493.2M757.6 2476.1V2493.2M774.4 2476.1V2493.2M814.0 2476.1V2493.2M771.0 2476.1V2493.2M749.0 2476.1V2493.2M751.4 2476.1V2493.2M759.9 2476.1V2493.2M801.9 2476.1V2493.2M773.1 2476.1V2493.2M768.2 2476.1V2493.2M755.0 2476.1V2493.2M815.4 2476.1V2493.2M777.3 2476.1V2493.2M762.5 2476.1V2493.2M752.4 2476.1V2493.2M752.1 2476.1V2493.2M759.8 2476.1V2493.2M794.6 2476.1V2493.2M758.5 2476.1V2493.2M751.1 2476.1V2493.2M781.8 2476.1V2493.2M765.3 2476.1V2493.2M816.5 2476.1V2493.2M756.7 2476.1V2493.2M784.5 2476.1V2493.2M801.2 2476.1V2493.2M776.3 2476.1V2493.2M815.8 2476.1V2493.2M781.0 2476.1V2493.2M764.8 2476.1V2493.2M776.4 2476.1V2493.2M750.8 2476.1V2493.2M777.1 2476.1V2493.2M765.3 2476.1V2493.2M809.1 2476.1V2493.2M805.1 2476.1V2493.2M782.4 2476.1V2493.2M750.5 2476.1V2493.2M765.7 2476.1V2493.2M764.9 2476.1V2493.2M762.5 2476.1V2493.2M764.1 2476.1V2493.2M807.7 2476.1V2493.2M758.0 2476.1V2493.2M751.8 2476.1V2493.2M811.7 2476.1V2493.2M786.9 2476.1V2493.2M816.0 2476.1V2493.2M775.8 2476.1V2493.2M809.9 2476.1V2493.2M793.0 2476.1V2493.2M802.3 2476.1V2493.2M799.2 2476.1V2493.2M782.1 2476.1V2493.2M754.7 2476.1V2493.2M762.7 2476.1V2493.2M808.0 2476.1V2493.2M809.8 2476.1V2493.2M811.5 2476.1V2493.2M771.3 2476.1V2493.2M793.2 2476.1V2493.2M802.9 2476.1V2493.2M792.2 2476.1V2493.2M903.9 2476.1V2493.2M873.8 2476.1V2493.2M887.1 2476.1V2493.2M890.4 2476.1V2493.2M846.5 2476.1V2493.2M915.3 2476.1V2493.2M918.8 2476.1V2493.2M826.2 2476.1V2493.2M920.3 2476.1V2493.2M919.4 2476.1V2493.2M888.5 2476.1V2493.2M823.0 2476.1V2493.2M912.8 2476.1V2493.2M831.7 2476.1V2493.2M920.1 2476.1V2493.2M888.4 2476.1V2493.2M824.7 2476.1V2493.2M835.9 2476.1V2493.2M885.1 2476.1V2493.2M878.1 2476.1V2493.2M896.8 2476.1V2493.2M915.8 2476.1V2493.2M841.3 2476.1V2493.2M818.7 2476.1V2493.2M915.2 2476.1V2493.2M819.7 2476.1V2493.2M910.4 2476.1V2493.2M830.5 2476.1V2493.2M903.4 2476.1V2493.2M900.6 2476.1V2493.2M910.6 2476.1V2493.2M876.2 2476.1V2493.2M910.6 2476.1V2493.2M839.5 2476.1V2493.2M888.9 2476.1V2493.2M853.1 2476.1V2493.2M912.0 2476.1V2493.2M899.6 2476.1V2493.2M867.9 2476.1V2493.2M873.6 2476.1V2493.2M821.1 2476.1V2493.2M821.9 2476.1V2493.2M880.8 2476.1V2493.2M869.7 2476.1V2493.2M909.2 2476.1V2493.2M882.2 2476.1V2493.2M832.9 2476.1V2493.2M856.4 2476.1V2493.2M899.0 2476.1V2493.2M873.3 2476.1V2493.2M819.5 2476.1V2493.2M906.3 2476.1V2493.2M905.3 2476.1V2493.2M827.3 2476.1V2493.2M875.4 2476.1V2493.2M858.4 2476.1V2493.2M901.0 2476.1V2493.2M851.0 2476.1V2493.2M842.9 2476.1V2493.2M869.5 2476.1V2493.2M919.8 2476.1V2493.2M828.3 2476.1V2493.2M830.4 2476.1V2493.2M883.6 2476.1V2493.2M911.3 2476.1V2493.2M872.2 2476.1V2493.2M863.9 2476.1V2493.2M908.4 2476.1V2493.2M899.9 2476.1V2493.2M825.4 2476.1V2493.2M910.9 2476.1V2493.2M838.9 2476.1V2493.2M850.1 2476.1V2493.2M906.2 2476.1V2493.2M862.7 2476.1V2493.2M902.2 2476.1V2493.2M835.9 2476.1V2493.2M910.2 2476.1V2493.2M836.9 2476.1V2493.2M834.0 2476.1V2493.2M870.3 2476.1V2493.2M853.9 2476.1V2493.2M875.3 2476.1V2493.2M913.3 2476.1V2493.2M893.0 2476.1V2493.2M818.9 2476.1V2493.2M851.1 2476.1V2493.2M875.6 2476.1V2493.2M869.4 2476.1V2493.2M893.5 2476.1V2493.2M869.2 2476.1V2493.2M826.3 2476.1V2493.2M844.1 2476.1V2493.2M907.4 2476.1V2493.2M855.8 2476.1V2493.2M898.9 2476.1V2493.2M921.9 2476.1V2493.2M884.2 2476.1V2493.2M889.4 2476.1V2493.2M882.4 2476.1V2493.2M851.2 2476.1V2493.2M914.2 2476.1V2493.2M867.4 2476.1V2493.2M914.1 2476.1V2493.2M850.4 2476.1V2493.2M909.5 2476.1V2493.2M901.0 2476.1V2493.2M882.7 2476.1V2493.2M864.8 2476.1V2493.2M833.1 2476.1V2493.2M899.3 2476.1V2493.2M856.4 2476.1V2493.2M887.9 2476.1V2493.2M832.3 2476.1V2493.2M827.0 2476.1V2493.2M926.9 2476.1V2493.2M934.1 2476.1V2493.2M927.3 2476.1V2493.2M935.1 2476.1V2493.2M929.4 2476.1V2493.2M931.6 2476.1V2493.2M953.1 2476.1V2493.2M965.0 2476.1V2493.2M941.7 2476.1V2493.2M955.4 2476.1V2493.2M978.9 2476.1V2493.2M945.5 2476.1V2493.2M966.5 2476.1V2493.2M952.0 2476.1V2493.2M950.9 2476.1V2493.2M938.6 2476.1V2493.2M938.5 2476.1V2493.2M979.5 2476.1V2493.2M974.2 2476.1V2493.2M973.0 2476.1V2493.2M973.2 2476.1V2493.2M979.7 2476.1V2493.2M944.6 2476.1V2493.2M963.4 2476.1V2493.2M959.5 2476.1V2493.2M962.9 2476.1V2493.2M979.0 2476.1V2493.2M971.2 2476.1V2493.2M980.3 2476.1V2493.2M942.8 2476.1V2493.2M966.4 2476.1V2493.2M967.4 2476.1V2493.2M970.5 2476.1V2493.2M964.9 2476.1V2493.2M974.3 2476.1V2493.2M951.0 2476.1V2493.2M978.6 2476.1V2493.2M955.5 2476.1V2493.2M964.0 2476.1V2493.2M977.2 2476.1V2493.2M968.7 2476.1V2493.2M951.3 2476.1V2493.2M947.8 2476.1V2493.2M952.0 2476.1V2493.2M965.3 2476.1V2493.2M981.6 2476.1V2493.2M977.3 2476.1V2493.2M955.3 2476.1V2493.2M955.3 2476.1V2493.2M973.7 2476.1V2493.2M950.1 2476.1V2493.2M955.8 2476.1V2493.2M938.2 2476.1V2493.2M945.7 2476.1V2493.2M961.4 2476.1V2493.2M968.2 2476.1V2493.2M964.7 2476.1V2493.2M953.7 2476.1V2493.2M979.6 2476.1V2493.2M965.1 2476.1V2493.2M944.5 2476.1V2493.2M984.0 2476.1V2493.2M986.9 2476.1V2493.2M990.8 2476.1V2493.2M1016.5 2476.1V2493.2M1020.4 2476.1V2493.2M1025.9 2476.1V2493.2M1027.9 2476.1V2493.2M1029.6 2476.1V2493.2M1037.2 2476.1V2493.2M1039.2 2476.1V2493.2M1051.8 2476.1V2493.2M1059.4 2476.1V2493.2M1066.6 2476.1V2493.2M1073.2 2476.1V2493.2M1085.3 2476.1V2493.2M1085.5 2476.1V2493.2M1084.6 2476.1V2493.2M1080.3 2476.1V2493.2M1076.4 2476.1V2493.2M1073.5 2476.1V2493.2M1075.7 2476.1V2493.2M1088.8 2476.1V2493.2M1094.2 2476.1V2493.2" stroke="#301030" stroke-opacity="0.1" stroke-width="1" fill="none"/>
<line x1="705.6" y1="2412.6" x2="1126.0" y2="2412.6" stroke="#b0b0b2" stroke-width="1.1"/>
<line x1="705.6" y1="2412.6" x2="1126.0" y2="2412.6" stroke="#bdbdbd" stroke-width="1.3"/>
<line x1="705.6" y1="2476.1" x2="1126.0" y2="2476.1" stroke="#bdbdbd" stroke-width="1"/>
<path d="M705.6 2221.3H1126.0M705.6 2493.2H1126.0" fill="none" stroke="#bcbcbe" stroke-width="1.3"/>
<path d="M705.6 2221.3V2493.2M1126.0 2221.3V2493.2" fill="none" stroke="#94949a" stroke-width="1.1"/>
<polyline points="706.2,2404.4 706.9,2403.1 706.9,2400.8 706.7,2399.6 707.4,2397.3 707.0,2396.5 707.2,2394.6 707.6,2393.0 708.4,2391.3 708.1,2389.3 708.5,2387.9 708.9,2386.4 709.0,2384.7 709.5,2382.9 709.4,2381.6 709.6,2380.1 710.7,2378.7 710.4,2376.7 711.4,2375.1 711.3,2373.6 712.0,2371.7 712.1,2369.9 712.1,2369.1 712.2,2367.3 712.7,2366.0 712.2,2363.9 712.3,2362.1 712.6,2360.3 713.3,2358.6 713.0,2356.9 713.9,2355.5 713.3,2354.2 714.2,2352.6 714.2,2350.9 714.6,2349.4 715.2,2347.6 715.7,2346.4 716.1,2345.0 716.4,2343.1 716.5,2341.8 717.0,2339.5 717.7,2338.1 717.6,2336.8 717.6,2335.4 718.4,2333.8 718.8,2332.5 719.2,2330.3 719.5,2329.3 719.9,2327.6 719.6,2325.8 720.1,2323.6 720.6,2322.0 720.6,2320.4 721.1,2318.8 722.0,2316.9 721.7,2315.3 722.4,2313.8 722.7,2312.4 723.8,2311.0 724.5,2310.0 725.5,2309.2 727.0,2307.6 728.0,2306.2 728.9,2305.4 729.8,2303.5 730.5,2302.2 732.0,2301.1 732.7,2299.6 732.8,2298.4 733.0,2296.3 734.0,2295.2 734.0,2292.7 734.5,2291.6 734.3,2289.9 735.5,2288.0 735.5,2286.8 736.8,2287.0 739.0,2287.6 740.3,2288.2 741.2,2286.9 741.1,2285.2 741.9,2284.1 742.9,2282.1 743.9,2281.1 743.8,2278.9 744.7,2277.6 745.5,2276.3 746.8,2277.4 748.8,2278.9 750.2,2280.0 751.2,2281.1 752.3,2280.2 753.7,2279.3 755.4,2278.3 755.7,2277.1 756.5,2275.4 757.0,2273.1 757.6,2272.1 758.8,2270.4 759.2,2268.2 759.7,2266.9 760.4,2265.0 762.0,2263.7 762.8,2262.1 763.3,2261.3 764.1,2259.3 765.4,2258.4 766.6,2256.7 766.6,2255.7 768.4,2254.1 768.3,2252.6 769.7,2251.2 771.2,2252.4 772.5,2254.1 773.3,2252.8 774.4,2251.3 775.5,2249.5 776.4,2247.6 776.8,2246.4 778.7,2246.8 781.0,2246.7 782.5,2247.0 784.2,2247.7 786.0,2247.2 787.8,2247.8 789.6,2248.4 790.9,2247.5 791.4,2245.7 793.4,2244.9 794.4,2243.3 795.3,2242.1 797.9,2243.0 799.6,2243.3 801.1,2242.2 802.1,2240.6 802.6,2239.4 803.9,2238.7 805.9,2237.7 806.7,2236.4 809.1,2237.0 810.9,2237.0 812.5,2235.5 813.2,2234.9 814.2,2233.4 815.4,2231.6 816.6,2230.7 817.8,2231.8 819.0,2233.5 820.8,2234.1 822.3,2235.6 824.5,2235.4 826.4,2236.1 828.0,2236.4 829.4,2236.1 832.1,2235.5 833.1,2235.5 835.1,2235.6 836.7,2236.3 838.3,2237.5 839.9,2238.3 840.6,2239.2 842.3,2240.7 843.5,2240.4 845.8,2240.8 847.6,2240.4 849.2,2241.2 850.8,2240.7 852.5,2240.0 854.3,2240.2 856.5,2239.3 858.0,2240.1 859.3,2240.6 860.5,2242.0 862.2,2242.7 863.4,2244.0 865.4,2244.9 866.4,2246.7 868.1,2248.0 869.3,2249.0 871.5,2249.6 872.6,2250.1 875.1,2250.4 876.4,2251.2 877.6,2252.1 879.6,2253.1 880.3,2254.8 882.3,2255.7 883.5,2256.9 885.6,2257.8 887.0,2257.9 889.1,2259.2 890.6,2259.8 892.5,2261.3 893.1,2262.0 894.7,2263.8 896.3,2264.9 898.0,2264.4 899.8,2264.1 902.0,2264.0 903.5,2265.5 905.2,2266.2 906.4,2268.4 907.7,2269.2 909.5,2268.5 911.7,2268.9 913.4,2268.3 914.7,2268.6 916.8,2269.6 918.4,2270.0 920.5,2271.2 921.6,2272.9 923.0,2273.6 924.6,2274.9 924.9,2276.1 926.0,2278.2 927.7,2279.1 928.9,2280.8 930.2,2281.1 931.3,2282.6 932.3,2283.6 934.1,2285.6 935.6,2286.1 936.5,2287.4 937.6,2288.8 939.7,2289.7 940.7,2289.4 943.3,2290.6 944.7,2290.5 946.5,2290.9 947.7,2292.4 949.1,2293.0 950.7,2293.3 951.9,2295.0 953.3,2295.4 954.9,2295.9 956.2,2297.1 958.3,2297.9 960.2,2298.3 961.8,2299.1 963.3,2299.4 964.7,2300.2 966.5,2300.8 967.8,2301.2 969.9,2301.1 971.4,2302.0 973.2,2301.9 974.2,2302.3 976.0,2303.3 977.8,2305.0 978.7,2305.3 980.5,2306.7 981.9,2307.6 983.0,2308.1 984.6,2309.0 985.8,2310.6 986.6,2311.5 988.1,2313.1 988.9,2314.0 989.8,2315.2 990.7,2316.5 991.8,2318.4 993.1,2319.6 994.1,2321.2 995.1,2322.0 995.8,2323.8 996.4,2324.4 997.8,2325.7 998.7,2327.0 999.9,2329.1 1000.6,2330.3 1001.2,2330.9 1002.3,2332.9 1003.3,2334.0 1004.5,2335.2 1005.9,2336.6 1006.5,2338.0 1007.8,2339.4 1008.7,2340.3 1010.2,2342.3 1011.1,2343.7 1011.5,2344.8 1012.9,2345.9 1014.1,2347.5 1014.9,2349.3 1015.9,2350.3 1017.0,2351.2 1018.5,2351.9 1019.4,2353.0 1021.4,2354.5 1022.5,2355.5 1023.3,2356.2 1025.2,2357.5 1026.1,2358.3 1027.3,2359.4 1029.6,2360.1 1031.5,2361.5 1033.0,2362.3 1034.1,2364.3 1034.7,2365.5 1035.5,2367.2 1036.7,2368.9 1037.2,2370.2 1039.1,2369.8 1041.5,2368.8 1042.0,2370.3 1043.1,2371.3 1044.4,2372.4 1045.5,2374.3 1046.5,2375.4 1047.5,2377.0 1048.2,2378.3 1048.9,2379.5 1050.1,2380.8 1051.0,2381.7 1052.4,2383.7 1053.4,2384.3 1054.7,2385.6 1055.9,2387.4 1056.6,2388.2 1058.0,2389.9 1059.4,2391.5 1060.4,2392.7 1061.4,2393.6 1062.4,2394.7 1064.4,2396.5 1065.0,2397.2 1066.1,2398.8 1067.1,2400.4 1069.2,2401.5 1070.0,2403.0 1071.6,2402.0 1073.4,2401.6 1075.1,2400.4 1077.1,2400.1 1078.1,2399.8 1080.1,2398.3 1081.3,2398.1 1082.7,2397.3 1084.2,2396.4 1086.1,2397.3 1087.0,2398.2 1088.7,2399.6 1089.9,2400.7 1091.4,2399.3 1092.9,2398.3 1094.2,2397.0 1095.5,2398.7 1095.7,2399.5 1096.9,2400.9 1097.7,2402.4 1099.3,2403.7 1099.9,2405.5 1101.1,2406.8 1102.0,2408.1 1102.5,2409.3 1104.1,2411.0 1104.7,2412.1" fill="none" stroke="#60bb46" stroke-width="3.3" stroke-linejoin="round" stroke-linecap="round"/>
<text x="694.6" y="2267.9" font-size="23" text-anchor="end" textLength="36.4" lengthAdjust="spacingAndGlyphs">0.3</text>
<line x1="705.6" y1="2259.8" x2="708.6" y2="2259.8" stroke="#cfcfcf" stroke-width="1"/>
<text x="694.6" y="2321.1" font-size="23" text-anchor="end" textLength="36.4" lengthAdjust="spacingAndGlyphs">0.2</text>
<line x1="705.6" y1="2313.0" x2="708.6" y2="2313.0" stroke="#cfcfcf" stroke-width="1"/>
<text x="694.6" y="2371.2" font-size="23" text-anchor="end" textLength="30.7" lengthAdjust="spacingAndGlyphs">0.1</text>
<line x1="705.6" y1="2363.1" x2="708.6" y2="2363.1" stroke="#cfcfcf" stroke-width="1"/>
<text x="694.6" y="2420.1" font-size="23" text-anchor="end" textLength="15.0" lengthAdjust="spacingAndGlyphs">0</text>
<line x1="705.6" y1="2412.0" x2="708.6" y2="2412.0" stroke="#cfcfcf" stroke-width="1"/>
<text transform="translate(637.4 2357.0) rotate(-90)" font-size="27" text-anchor="middle" textLength="224.5" lengthAdjust="spacingAndGlyphs">Enrichment score</text>
<text x="915.4" y="2202.0" font-size="27" text-anchor="middle" textLength="244.5" lengthAdjust="spacingAndGlyphs">Extracellular space</text>
<text x="1000.1" y="2251.8" font-size="24.5" textLength="119.1" lengthAdjust="spacingAndGlyphs"><tspan font-style="italic">P</tspan> &lt; 0.001</text>
<text x="703.9" y="2527.6" font-size="27" textLength="104.1" lengthAdjust="spacingAndGlyphs">WT-TAC</text>
<text x="1028.2" y="2527.6" font-size="27" textLength="97.7" lengthAdjust="spacingAndGlyphs">Control</text>
<text x="1196.0" y="1750.5" font-size="38" textLength="28.5" lengthAdjust="spacingAndGlyphs" font-weight="bold" fill="#1a1718" stroke="#1a1718" stroke-width="0.9">g</text>
<rect x="1303.3" y="2066.5" width="37.0" height="16.3" fill="#e2444e"/>
<rect x="1340.0" y="2066.5" width="19.3" height="16.3" fill="#ea5c66"/>
<rect x="1359.0" y="2066.5" width="200.6" height="16.3" fill="#e8b0d2"/>
<rect x="1559.3" y="2066.5" width="89.4" height="16.3" fill="#bcbce2"/>
<rect x="1648.4" y="2066.5" width="39.9" height="16.3" fill="#5454aa"/>
<rect x="1688.0" y="2066.5" width="13.1" height="16.3" fill="#4248a6"/>
<path d="M1319.0 2005.1V2066.5M1320.9 2005.1V2066.5M1321.7 2005.1V2066.5M1323.9 2005.1V2066.5M1320.8 2005.1V2066.5M1323.6 2005.1V2066.5M1309.9 2005.1V2066.5M1316.6 2005.1V2066.5M1324.0 2005.1V2066.5M1319.4 2005.1V2066.5M1345.0 2005.1V2066.5M1327.4 2005.1V2066.5M1335.3 2005.1V2066.5M1330.4 2005.1V2066.5M1337.0 2005.1V2066.5M1337.7 2005.1V2066.5M1325.1 2005.1V2066.5M1329.7 2005.1V2066.5M1331.1 2005.1V2066.5M1345.4 2005.1V2066.5M1342.0 2005.1V2066.5M1328.4 2005.1V2066.5M1342.7 2005.1V2066.5M1327.9 2005.1V2066.5M1338.7 2005.1V2066.5M1327.7 2005.1V2066.5M1324.9 2005.1V2066.5M1344.4 2005.1V2066.5M1329.5 2005.1V2066.5M1329.7 2005.1V2066.5M1346.9 2005.1V2066.5M1344.4 2005.1V2066.5M1331.3 2005.1V2066.5M1346.4 2005.1V2066.5M1336.9 2005.1V2066.5M1340.0 2005.1V2066.5M1329.4 2005.1V2066.5M1345.9 2005.1V2066.5M1340.3 2005.1V2066.5M1346.5 2005.1V2066.5M1344.9 2005.1V2066.5M1331.5 2005.1V2066.5M1332.9 2005.1V2066.5M1352.6 2005.1V2066.5M1352.3 2005.1V2066.5M1351.1 2005.1V2066.5M1354.7 2005.1V2066.5M1359.3 2005.1V2066.5M1350.1 2005.1V2066.5M1360.5 2005.1V2066.5M1355.3 2005.1V2066.5M1354.8 2005.1V2066.5M1362.7 2005.1V2066.5M1357.5 2005.1V2066.5M1354.9 2005.1V2066.5M1357.5 2005.1V2066.5M1360.9 2005.1V2066.5M1350.9 2005.1V2066.5M1365.1 2005.1V2066.5M1350.4 2005.1V2066.5M1361.6 2005.1V2066.5M1363.1 2005.1V2066.5M1350.3 2005.1V2066.5M1362.2 2005.1V2066.5M1355.7 2005.1V2066.5M1359.0 2005.1V2066.5M1378.1 2005.1V2066.5M1413.9 2005.1V2066.5M1422.1 2005.1V2066.5M1440.3 2005.1V2066.5M1463.5 2005.1V2066.5M1465.5 2005.1V2066.5M1485.1 2005.1V2066.5M1492.1 2005.1V2066.5M1494.3 2005.1V2066.5M1531.3 2005.1V2066.5M1550.4 2005.1V2066.5M1552.3 2005.1V2066.5M1554.6 2005.1V2066.5M1596.1 2005.1V2066.5M1633.6 2005.1V2066.5M1641.4 2005.1V2066.5M1659.7 2005.1V2066.5M1662.5 2005.1V2066.5M1672.3 2005.1V2066.5M1673.7 2005.1V2066.5M1691.9 2005.1V2066.5M1695.2 2005.1V2066.5M1698.9 2005.1V2066.5M1561.6 2005.1V2066.5M1561.8 2005.1V2066.5M1562.3 2005.1V2066.5M1565.1 2005.1V2066.5M1562.3 2005.1V2066.5M1564.3 2005.1V2066.5M1565.0 2005.1V2066.5M1565.0 2005.1V2066.5M1562.8 2005.1V2066.5M1577.4 2005.1V2066.5M1580.2 2005.1V2066.5M1584.4 2005.1V2066.5M1573.2 2005.1V2066.5M1584.0 2005.1V2066.5M1584.8 2005.1V2066.5M1585.9 2005.1V2066.5M1572.0 2005.1V2066.5M1587.3 2005.1V2066.5M1572.9 2005.1V2066.5M1577.1 2005.1V2066.5M1581.7 2005.1V2066.5M1586.8 2005.1V2066.5M1577.1 2005.1V2066.5M1586.9 2005.1V2066.5M1611.5 2005.1V2066.5M1610.5 2005.1V2066.5M1610.6 2005.1V2066.5M1610.0 2005.1V2066.5M1609.6 2005.1V2066.5M1609.8 2005.1V2066.5M1625.7 2005.1V2066.5M1627.4 2005.1V2066.5M1622.7 2005.1V2066.5M1622.1 2005.1V2066.5M1627.4 2005.1V2066.5M1624.8 2005.1V2066.5M1681.0 2005.1V2066.5M1680.3 2005.1V2066.5M1681.8 2005.1V2066.5M1682.7 2005.1V2066.5M1681.2 2005.1V2066.5" stroke="#111" stroke-width="1" fill="none"/>
<path d="M1319.0 2066.5V2082.8M1320.9 2066.5V2082.8M1321.7 2066.5V2082.8M1323.9 2066.5V2082.8M1320.8 2066.5V2082.8M1323.6 2066.5V2082.8M1309.9 2066.5V2082.8M1316.6 2066.5V2082.8M1324.0 2066.5V2082.8M1319.4 2066.5V2082.8M1345.0 2066.5V2082.8M1327.4 2066.5V2082.8M1335.3 2066.5V2082.8M1330.4 2066.5V2082.8M1337.0 2066.5V2082.8M1337.7 2066.5V2082.8M1325.1 2066.5V2082.8M1329.7 2066.5V2082.8M1331.1 2066.5V2082.8M1345.4 2066.5V2082.8M1342.0 2066.5V2082.8M1328.4 2066.5V2082.8M1342.7 2066.5V2082.8M1327.9 2066.5V2082.8M1338.7 2066.5V2082.8M1327.7 2066.5V2082.8M1324.9 2066.5V2082.8M1344.4 2066.5V2082.8M1329.5 2066.5V2082.8M1329.7 2066.5V2082.8M1346.9 2066.5V2082.8M1344.4 2066.5V2082.8M1331.3 2066.5V2082.8M1346.4 2066.5V2082.8M1336.9 2066.5V2082.8M1340.0 2066.5V2082.8M1329.4 2066.5V2082.8M1345.9 2066.5V2082.8M1340.3 2066.5V2082.8M1346.5 2066.5V2082.8M1344.9 2066.5V2082.8M1331.5 2066.5V2082.8M1332.9 2066.5V2082.8M1352.6 2066.5V2082.8M1352.3 2066.5V2082.8M1351.1 2066.5V2082.8M1354.7 2066.5V2082.8M1359.3 2066.5V2082.8M1350.1 2066.5V2082.8M1360.5 2066.5V2082.8M1355.3 2066.5V2082.8M1354.8 2066.5V2082.8M1362.7 2066.5V2082.8M1357.5 2066.5V2082.8M1354.9 2066.5V2082.8M1357.5 2066.5V2082.8M1360.9 2066.5V2082.8M1350.9 2066.5V2082.8M1365.1 2066.5V2082.8M1350.4 2066.5V2082.8M1361.6 2066.5V2082.8M1363.1 2066.5V2082.8M1350.3 2066.5V2082.8M1362.2 2066.5V2082.8M1355.7 2066.5V2082.8M1359.0 2066.5V2082.8M1378.1 2066.5V2082.8M1413.9 2066.5V2082.8M1422.1 2066.5V2082.8M1440.3 2066.5V2082.8M1463.5 2066.5V2082.8M1465.5 2066.5V2082.8M1485.1 2066.5V2082.8M1492.1 2066.5V2082.8M1494.3 2066.5V2082.8M1531.3 2066.5V2082.8M1550.4 2066.5V2082.8M1552.3 2066.5V2082.8M1554.6 2066.5V2082.8M1596.1 2066.5V2082.8M1633.6 2066.5V2082.8M1641.4 2066.5V2082.8M1659.7 2066.5V2082.8M1662.5 2066.5V2082.8M1672.3 2066.5V2082.8M1673.7 2066.5V2082.8M1691.9 2066.5V2082.8M1695.2 2066.5V2082.8M1698.9 2066.5V2082.8M1561.6 2066.5V2082.8M1561.8 2066.5V2082.8M1562.3 2066.5V2082.8M1565.1 2066.5V2082.8M1562.3 2066.5V2082.8M1564.3 2066.5V2082.8M1565.0 2066.5V2082.8M1565.0 2066.5V2082.8M1562.8 2066.5V2082.8M1577.4 2066.5V2082.8M1580.2 2066.5V2082.8M1584.4 2066.5V2082.8M1573.2 2066.5V2082.8M1584.0 2066.5V2082.8M1584.8 2066.5V2082.8M1585.9 2066.5V2082.8M1572.0 2066.5V2082.8M1587.3 2066.5V2082.8M1572.9 2066.5V2082.8M1577.1 2066.5V2082.8M1581.7 2066.5V2082.8M1586.8 2066.5V2082.8M1577.1 2066.5V2082.8M1586.9 2066.5V2082.8M1611.5 2066.5V2082.8M1610.5 2066.5V2082.8M1610.6 2066.5V2082.8M1610.0 2066.5V2082.8M1609.6 2066.5V2082.8M1609.8 2066.5V2082.8M1625.7 2066.5V2082.8M1627.4 2066.5V2082.8M1622.7 2066.5V2082.8M1622.1 2066.5V2082.8M1627.4 2066.5V2082.8M1624.8 2066.5V2082.8M1681.0 2066.5V2082.8M1680.3 2066.5V2082.8M1681.8 2066.5V2082.8M1682.7 2066.5V2082.8M1681.2 2066.5V2082.8" stroke="#301030" stroke-opacity="0.12" stroke-width="1" fill="none"/>
<line x1="1303.3" y1="1903.5" x2="1722.2" y2="1903.5" stroke="#b0b0b2" stroke-width="1.1"/>
<line x1="1303.3" y1="2003.5" x2="1722.2" y2="2003.5" stroke="#bdbdbd" stroke-width="1.3"/>
<line x1="1303.3" y1="2066.5" x2="1722.2" y2="2066.5" stroke="#bdbdbd" stroke-width="1"/>
<path d="M1303.3 1812.4H1722.2M1303.3 2082.8H1722.2" fill="none" stroke="#bcbcbe" stroke-width="1.3"/>
<path d="M1303.3 1812.4V2082.8M1722.2 1812.4V2082.8" fill="none" stroke="#94949a" stroke-width="1.1"/>
<polyline points="1303.3,1903.5 1305.2,1904.5 1306.7,1906.4 1308.0,1907.1 1309.2,1906.0 1310.8,1904.3 1313.1,1904.9 1313.1,1902.8 1313.4,1901.6 1313.4,1899.8 1313.9,1897.5 1314.2,1896.0 1314.5,1894.8 1315.2,1892.3 1315.0,1890.9 1316.9,1892.4 1317.8,1893.7 1319.2,1892.3 1319.7,1890.1 1320.6,1888.6 1322.6,1890.9 1323.8,1889.5 1324.2,1886.7 1324.8,1885.3 1326.2,1886.7 1326.6,1885.2 1326.8,1883.7 1327.0,1881.8 1326.5,1879.8 1326.7,1878.4 1326.9,1876.7 1326.9,1874.8 1327.4,1873.3 1327.1,1871.3 1327.7,1869.7 1327.1,1867.7 1327.5,1865.9 1327.6,1864.0 1328.1,1863.0 1328.7,1861.4 1328.7,1858.8 1328.5,1857.1 1329.0,1855.8 1329.8,1854.1 1330.1,1852.6 1330.3,1851.4 1330.8,1849.0 1331.2,1847.7 1331.9,1846.0 1331.8,1844.6 1331.9,1843.4 1332.4,1841.0 1333.1,1840.2 1333.1,1837.8 1333.8,1836.3 1333.8,1834.8 1335.4,1834.1 1337.4,1834.3 1338.4,1832.4 1338.2,1831.0 1339.3,1830.1 1339.4,1828.1 1340.2,1826.4 1341.4,1825.4 1343.0,1823.6 1345.1,1823.1 1347.2,1822.2 1349.7,1823.0 1351.4,1823.6 1353.3,1822.2 1354.9,1821.9 1357.1,1820.8 1359.2,1821.8 1360.3,1822.9 1362.7,1823.6 1364.4,1825.0 1365.7,1825.8 1366.7,1826.5 1368.0,1827.8 1369.7,1828.7 1370.9,1829.8 1372.1,1830.5 1373.4,1831.5 1375.1,1832.7 1376.5,1833.3 1377.7,1834.5 1378.8,1835.7 1380.3,1836.3 1381.7,1837.4 1382.8,1838.4 1384.2,1839.1 1385.7,1840.2 1386.8,1841.1 1388.2,1842.0 1389.2,1843.1 1391.0,1844.3 1392.1,1845.2 1393.5,1845.9 1394.7,1847.3 1396.2,1848.1 1397.2,1849.0 1399.0,1850.3 1400.1,1851.0 1401.5,1852.1 1402.7,1853.2 1404.1,1853.7 1405.5,1855.0 1406.5,1855.9 1408.4,1857.0 1409.5,1857.8 1410.7,1859.1 1412.0,1859.8 1413.2,1860.8 1414.8,1861.9 1416.4,1862.6 1417.3,1863.6 1418.7,1864.9 1420.1,1865.7 1421.3,1866.6 1423.0,1867.5 1424.1,1868.5 1425.3,1869.4 1427.0,1870.2 1427.9,1871.7 1429.6,1872.4 1430.8,1873.4 1432.0,1874.4 1433.4,1875.4 1434.7,1876.4 1435.8,1877.6 1437.2,1878.3 1438.7,1879.1 1440.4,1880.2 1441.3,1881.1 1442.6,1882.2 1444.4,1883.4 1445.3,1884.3 1446.8,1885.3 1448.1,1886.1 1449.2,1886.8 1450.4,1888.3 1451.7,1888.8 1453.2,1889.8 1454.3,1891.3 1455.6,1892.1 1457.2,1892.9 1458.3,1893.8 1459.5,1895.0 1460.9,1895.9 1462.0,1897.1 1463.4,1897.8 1464.7,1899.0 1466.0,1900.0 1467.4,1900.7 1468.6,1901.6 1469.8,1902.8 1471.0,1903.6 1472.5,1904.6 1473.5,1905.5 1475.1,1906.9 1476.1,1907.7 1477.2,1908.6 1478.6,1909.5 1480.1,1910.7 1481.5,1911.7 1482.4,1912.7 1483.6,1913.6 1485.1,1914.3 1486.2,1915.5 1487.4,1916.3 1488.9,1917.8 1490.2,1918.7 1491.4,1919.2 1492.5,1920.4 1494.2,1921.6 1495.5,1922.4 1496.7,1923.4 1497.6,1924.4 1498.9,1925.5 1500.5,1926.2 1501.4,1927.2 1502.6,1928.1 1504.2,1929.3 1505.7,1930.5 1506.7,1931.5 1507.8,1932.5 1509.3,1933.3 1510.4,1933.9 1511.8,1935.3 1513.2,1936.4 1514.6,1936.9 1515.7,1938.0 1517.1,1939.2 1517.9,1940.1 1519.6,1941.4 1520.9,1942.2 1522.1,1943.3 1523.3,1944.3 1524.3,1945.0 1525.9,1946.3 1527.3,1946.9 1528.6,1948.0 1529.5,1949.2 1531.2,1950.0 1532.2,1951.1 1533.4,1952.4 1534.9,1953.1 1535.9,1954.3 1537.1,1955.1 1538.3,1956.0 1539.8,1957.2 1541.2,1958.3 1542.2,1959.2 1543.5,1960.1 1544.7,1961.6 1546.3,1962.5 1547.6,1963.2 1548.9,1964.4 1550.2,1965.4 1551.4,1966.2 1552.8,1967.5 1553.9,1968.3 1555.2,1969.4 1556.2,1970.6 1557.8,1971.7 1559.2,1972.4 1560.2,1973.5 1561.7,1973.9 1563.2,1975.4 1564.3,1975.4 1566.0,1976.6 1566.9,1977.7 1568.6,1978.3 1569.9,1979.2 1571.5,1980.0 1573.0,1980.8 1573.9,1981.8 1575.6,1982.8 1577.3,1981.5 1578.1,1980.4 1579.7,1979.3 1581.2,1978.6 1582.9,1979.0 1585.2,1978.9 1586.2,1979.3 1588.2,1980.0 1589.5,1981.1 1590.7,1981.6 1592.3,1982.7 1593.9,1983.6 1595.6,1984.4 1596.6,1984.7 1598.8,1985.1 1600.0,1986.7 1602.2,1987.0 1603.1,1987.7 1604.7,1989.3 1605.4,1990.3 1606.8,1991.4 1607.9,1992.2 1609.2,1993.7 1609.9,1991.9 1610.6,1990.8 1610.3,1988.9 1611.5,1986.8 1611.9,1985.1 1612.7,1983.4 1612.9,1981.9 1614.7,1983.1 1616.2,1984.7 1618.1,1985.7 1619.8,1986.9 1620.8,1988.7 1622.4,1989.8 1622.9,1988.5 1623.2,1987.2 1624.1,1985.5 1624.3,1983.5 1625.2,1982.4 1626.2,1980.3 1626.2,1978.7 1626.5,1977.0 1627.4,1975.8 1629.8,1974.3 1631.6,1973.5 1632.9,1974.8 1633.2,1976.1 1634.4,1977.7 1635.9,1978.6 1637.9,1979.3 1640.0,1980.0 1640.6,1978.5 1640.8,1977.1 1641.4,1975.2 1642.7,1974.2 1642.8,1972.1 1644.3,1973.2 1645.7,1974.5 1647.5,1975.3 1648.0,1976.7 1649.9,1977.7 1651.0,1978.7 1652.4,1979.4 1653.5,1981.1 1655.0,1981.9 1656.4,1982.5 1657.2,1983.8 1658.8,1984.7 1658.7,1983.2 1659.7,1981.1 1659.9,1980.0 1660.3,1978.2 1659.9,1976.4 1660.5,1974.7 1660.5,1973.5 1661.1,1971.9 1662.8,1971.2 1663.3,1969.3 1665.1,1970.9 1666.7,1972.1 1668.1,1973.7 1670.3,1974.8 1671.4,1976.3 1671.3,1974.4 1671.8,1973.0 1672.0,1971.6 1672.8,1970.1 1672.5,1968.3 1672.5,1967.1 1673.1,1965.1 1672.9,1963.5 1673.8,1962.0 1673.3,1960.5 1674.0,1958.9 1673.9,1956.9 1674.5,1955.3 1676.1,1956.3 1677.1,1958.1 1677.9,1959.5 1678.1,1957.6 1678.4,1956.0 1678.3,1954.3 1678.6,1953.3 1679.1,1952.0 1679.3,1949.8 1680.1,1948.5 1680.1,1946.9 1680.7,1944.8 1682.1,1942.7 1682.1,1941.4 1682.7,1939.4 1682.6,1937.8 1683.3,1935.8 1683.2,1934.2 1683.4,1931.8 1683.7,1930.3 1684.0,1928.7 1686.0,1929.7 1687.7,1931.5 1689.3,1932.5 1690.5,1934.1 1691.9,1935.7 1692.7,1934.1 1692.4,1932.2 1692.8,1930.9 1693.2,1929.6 1694.0,1927.2 1694.1,1925.9 1696.1,1927.3 1695.8,1925.3 1696.4,1923.8 1696.6,1922.4 1697.3,1920.6 1697.6,1919.6 1697.7,1917.7 1697.5,1916.1 1698.6,1917.5 1699.7,1918.9 1700.1,1917.2 1699.4,1915.3 1700.4,1913.3 1700.1,1912.5 1699.9,1910.5 1700.1,1908.4 1700.0,1907.5 1700.1,1905.2 1700.6,1904.1 1700.3,1902.1" fill="none" stroke="#60bb46" stroke-width="3.3" stroke-linejoin="round" stroke-linecap="round"/>
<text x="1294.1" y="1849.9" font-size="23" text-anchor="end" textLength="36.4" lengthAdjust="spacingAndGlyphs">0.2</text>
<line x1="1303.3" y1="1841.8" x2="1306.3" y2="1841.8" stroke="#cfcfcf" stroke-width="1"/>
<text x="1294.1" y="1880.8" font-size="23" text-anchor="end" textLength="30.7" lengthAdjust="spacingAndGlyphs">0.1</text>
<line x1="1303.3" y1="1872.7" x2="1306.3" y2="1872.7" stroke="#cfcfcf" stroke-width="1"/>
<text x="1294.1" y="1911.6" font-size="23" text-anchor="end" textLength="15.0" lengthAdjust="spacingAndGlyphs">0</text>
<line x1="1303.3" y1="1903.5" x2="1306.3" y2="1903.5" stroke="#cfcfcf" stroke-width="1"/>
<text x="1294.1" y="1941.6" font-size="23" text-anchor="end" textLength="41.8" lengthAdjust="spacingAndGlyphs">–0.1</text>
<line x1="1303.3" y1="1933.5" x2="1306.3" y2="1933.5" stroke="#cfcfcf" stroke-width="1"/>
<text x="1294.1" y="1972.4" font-size="23" text-anchor="end" textLength="45.8" lengthAdjust="spacingAndGlyphs">–0.2</text>
<line x1="1303.3" y1="1964.3" x2="1306.3" y2="1964.3" stroke="#cfcfcf" stroke-width="1"/>
<text x="1294.1" y="2002.6" font-size="23" text-anchor="end" textLength="45.8" lengthAdjust="spacingAndGlyphs">–0.3</text>
<line x1="1303.3" y1="1994.5" x2="1306.3" y2="1994.5" stroke="#cfcfcf" stroke-width="1"/>
<text transform="translate(1221.3 1948.0) rotate(-90)" font-size="27" text-anchor="middle" textLength="224.5" lengthAdjust="spacingAndGlyphs">Enrichment score</text>
<text x="1512.7" y="1765.5" font-size="27" text-anchor="middle" textLength="240.8" lengthAdjust="spacingAndGlyphs">Degradation of the</text>
<text x="1512.5" y="1796.3" font-size="27" text-anchor="middle" textLength="250.2" lengthAdjust="spacingAndGlyphs">extracellular matrix</text>
<text x="1627.3" y="1840.4" font-size="24.5" textLength="80.8" lengthAdjust="spacingAndGlyphs"><tspan font-style="italic">P</tspan> = 1.0</text>
<text x="1300.7" y="2117.0" font-size="27" textLength="102.8" lengthAdjust="spacingAndGlyphs">KO-TAC</text>
<text x="1620.2" y="2117.0" font-size="27" textLength="102.7" lengthAdjust="spacingAndGlyphs">WT-TAC</text>
<rect x="1302.4" y="2477.4" width="37.9" height="16.0" fill="#d83840"/>
<rect x="1340.0" y="2477.4" width="20.2" height="16.0" fill="#c04048"/>
<rect x="1359.9" y="2477.4" width="199.2" height="16.0" fill="#e8b0d2"/>
<rect x="1558.8" y="2477.4" width="88.5" height="16.0" fill="#bcbce2"/>
<rect x="1647.0" y="2477.4" width="41.3" height="16.0" fill="#5454aa"/>
<rect x="1688.0" y="2477.4" width="12.6" height="16.0" fill="#4248a6"/>
<path d="M1351.4 2415.9V2477.4M1353.2 2415.9V2477.4M1332.6 2415.9V2477.4M1319.0 2415.9V2477.4M1303.0 2415.9V2477.4M1343.5 2415.9V2477.4M1331.7 2415.9V2477.4M1349.4 2415.9V2477.4M1325.8 2415.9V2477.4M1350.0 2415.9V2477.4M1319.6 2415.9V2477.4M1352.0 2415.9V2477.4M1347.6 2415.9V2477.4M1328.3 2415.9V2477.4M1335.9 2415.9V2477.4M1344.6 2415.9V2477.4M1314.8 2415.9V2477.4M1336.8 2415.9V2477.4M1352.2 2415.9V2477.4M1319.2 2415.9V2477.4M1352.0 2415.9V2477.4M1344.9 2415.9V2477.4M1354.5 2415.9V2477.4M1323.5 2415.9V2477.4M1308.7 2415.9V2477.4M1351.9 2415.9V2477.4M1352.1 2415.9V2477.4M1330.2 2415.9V2477.4M1308.7 2415.9V2477.4M1315.0 2415.9V2477.4M1341.8 2415.9V2477.4M1320.8 2415.9V2477.4M1361.1 2415.9V2477.4M1338.9 2415.9V2477.4M1315.2 2415.9V2477.4M1343.0 2415.9V2477.4M1325.0 2415.9V2477.4M1359.9 2415.9V2477.4M1358.5 2415.9V2477.4M1334.4 2415.9V2477.4M1342.3 2415.9V2477.4M1345.6 2415.9V2477.4M1352.2 2415.9V2477.4M1362.6 2415.9V2477.4M1304.7 2415.9V2477.4M1325.0 2415.9V2477.4M1339.7 2415.9V2477.4M1321.6 2415.9V2477.4M1339.0 2415.9V2477.4M1308.5 2415.9V2477.4M1356.7 2415.9V2477.4M1335.1 2415.9V2477.4M1310.1 2415.9V2477.4M1343.5 2415.9V2477.4M1322.1 2415.9V2477.4M1315.0 2415.9V2477.4M1332.5 2415.9V2477.4M1311.4 2415.9V2477.4M1315.8 2415.9V2477.4M1355.8 2415.9V2477.4M1345.6 2415.9V2477.4M1303.7 2415.9V2477.4M1350.5 2415.9V2477.4M1304.0 2415.9V2477.4M1323.3 2415.9V2477.4M1358.2 2415.9V2477.4M1340.9 2415.9V2477.4M1321.7 2415.9V2477.4M1326.0 2415.9V2477.4M1326.7 2415.9V2477.4M1310.7 2415.9V2477.4M1364.0 2415.9V2477.4M1306.3 2415.9V2477.4M1328.8 2415.9V2477.4M1348.6 2415.9V2477.4M1327.3 2415.9V2477.4M1362.9 2415.9V2477.4M1318.0 2415.9V2477.4M1362.8 2415.9V2477.4M1357.5 2415.9V2477.4M1343.9 2415.9V2477.4M1357.3 2415.9V2477.4M1330.3 2415.9V2477.4M1353.8 2415.9V2477.4M1351.6 2415.9V2477.4M1334.5 2415.9V2477.4M1331.7 2415.9V2477.4M1346.1 2415.9V2477.4M1328.0 2415.9V2477.4M1308.2 2415.9V2477.4M1348.6 2415.9V2477.4M1319.2 2415.9V2477.4M1332.8 2415.9V2477.4M1350.9 2415.9V2477.4M1313.5 2415.9V2477.4M1304.3 2415.9V2477.4M1310.5 2415.9V2477.4M1339.0 2415.9V2477.4M1325.0 2415.9V2477.4M1318.6 2415.9V2477.4M1330.6 2415.9V2477.4M1359.6 2415.9V2477.4M1318.5 2415.9V2477.4M1328.1 2415.9V2477.4M1356.7 2415.9V2477.4M1340.4 2415.9V2477.4M1319.3 2415.9V2477.4M1332.0 2415.9V2477.4M1332.2 2415.9V2477.4M1311.7 2415.9V2477.4M1326.0 2415.9V2477.4M1321.6 2415.9V2477.4M1352.1 2415.9V2477.4M1322.7 2415.9V2477.4M1343.2 2415.9V2477.4M1362.3 2415.9V2477.4M1359.4 2415.9V2477.4M1325.9 2415.9V2477.4M1339.8 2415.9V2477.4M1322.5 2415.9V2477.4M1327.3 2415.9V2477.4M1332.8 2415.9V2477.4M1351.4 2415.9V2477.4M1360.2 2415.9V2477.4M1320.7 2415.9V2477.4M1303.4 2415.9V2477.4M1330.4 2415.9V2477.4M1306.5 2415.9V2477.4M1304.8 2415.9V2477.4M1350.2 2415.9V2477.4M1309.8 2415.9V2477.4M1346.9 2415.9V2477.4M1325.1 2415.9V2477.4M1360.3 2415.9V2477.4M1355.1 2415.9V2477.4M1306.8 2415.9V2477.4M1314.7 2415.9V2477.4M1360.8 2415.9V2477.4M1340.4 2415.9V2477.4M1328.8 2415.9V2477.4M1350.8 2415.9V2477.4M1352.7 2415.9V2477.4M1333.0 2415.9V2477.4M1331.6 2415.9V2477.4M1309.1 2415.9V2477.4M1325.1 2415.9V2477.4M1311.8 2415.9V2477.4M1341.2 2415.9V2477.4M1340.0 2415.9V2477.4M1311.8 2415.9V2477.4M1341.3 2415.9V2477.4M1308.9 2415.9V2477.4M1309.4 2415.9V2477.4M1342.4 2415.9V2477.4M1331.2 2415.9V2477.4M1357.9 2415.9V2477.4M1341.4 2415.9V2477.4M1345.8 2415.9V2477.4M1389.9 2415.9V2477.4M1416.6 2415.9V2477.4M1388.2 2415.9V2477.4M1408.5 2415.9V2477.4M1419.5 2415.9V2477.4M1419.4 2415.9V2477.4M1418.9 2415.9V2477.4M1402.2 2415.9V2477.4M1411.3 2415.9V2477.4M1415.0 2415.9V2477.4M1390.3 2415.9V2477.4M1420.8 2415.9V2477.4M1419.4 2415.9V2477.4M1401.7 2415.9V2477.4M1414.5 2415.9V2477.4M1402.0 2415.9V2477.4M1395.5 2415.9V2477.4M1462.3 2415.9V2477.4M1440.4 2415.9V2477.4M1465.2 2415.9V2477.4M1471.2 2415.9V2477.4M1447.9 2415.9V2477.4M1469.9 2415.9V2477.4M1441.1 2415.9V2477.4M1467.2 2415.9V2477.4M1447.7 2415.9V2477.4M1470.8 2415.9V2477.4M1452.8 2415.9V2477.4M1469.3 2415.9V2477.4M1439.4 2415.9V2477.4M1441.2 2415.9V2477.4M1465.8 2415.9V2477.4M1459.8 2415.9V2477.4M1456.3 2415.9V2477.4M1439.4 2415.9V2477.4M1444.1 2415.9V2477.4M1450.8 2415.9V2477.4M1440.1 2415.9V2477.4M1508.4 2415.9V2477.4M1516.8 2415.9V2477.4M1526.0 2415.9V2477.4M1530.8 2415.9V2477.4M1550.4 2415.9V2477.4M1553.2 2415.9V2477.4M1615.8 2415.9V2477.4M1602.7 2415.9V2477.4M1613.3 2415.9V2477.4M1599.0 2415.9V2477.4M1578.5 2415.9V2477.4M1563.2 2415.9V2477.4M1600.8 2415.9V2477.4M1565.3 2415.9V2477.4M1590.2 2415.9V2477.4M1585.4 2415.9V2477.4M1587.2 2415.9V2477.4M1563.1 2415.9V2477.4M1563.0 2415.9V2477.4M1588.7 2415.9V2477.4M1560.5 2415.9V2477.4M1589.0 2415.9V2477.4M1567.4 2415.9V2477.4M1575.0 2415.9V2477.4M1567.5 2415.9V2477.4M1591.4 2415.9V2477.4M1581.1 2415.9V2477.4M1571.6 2415.9V2477.4M1571.5 2415.9V2477.4M1591.2 2415.9V2477.4M1611.1 2415.9V2477.4M1582.9 2415.9V2477.4M1568.2 2415.9V2477.4M1577.0 2415.9V2477.4M1572.6 2415.9V2477.4M1591.7 2415.9V2477.4M1604.0 2415.9V2477.4M1591.5 2415.9V2477.4M1569.6 2415.9V2477.4M1577.5 2415.9V2477.4M1580.7 2415.9V2477.4M1584.1 2415.9V2477.4M1581.6 2415.9V2477.4M1616.1 2415.9V2477.4M1590.4 2415.9V2477.4M1596.8 2415.9V2477.4M1599.9 2415.9V2477.4M1595.8 2415.9V2477.4M1605.0 2415.9V2477.4M1580.2 2415.9V2477.4M1597.1 2415.9V2477.4M1614.7 2415.9V2477.4M1568.2 2415.9V2477.4M1594.7 2415.9V2477.4M1580.9 2415.9V2477.4M1562.3 2415.9V2477.4M1561.1 2415.9V2477.4M1602.4 2415.9V2477.4M1565.4 2415.9V2477.4M1599.6 2415.9V2477.4M1564.5 2415.9V2477.4M1579.9 2415.9V2477.4M1560.6 2415.9V2477.4M1590.0 2415.9V2477.4M1604.0 2415.9V2477.4M1571.7 2415.9V2477.4M1591.3 2415.9V2477.4M1611.8 2415.9V2477.4M1575.6 2415.9V2477.4M1585.8 2415.9V2477.4M1600.4 2415.9V2477.4M1608.4 2415.9V2477.4M1568.5 2415.9V2477.4M1596.8 2415.9V2477.4M1565.7 2415.9V2477.4M1565.2 2415.9V2477.4M1615.3 2415.9V2477.4M1561.7 2415.9V2477.4M1611.6 2415.9V2477.4M1601.9 2415.9V2477.4M1597.6 2415.9V2477.4M1600.7 2415.9V2477.4M1596.2 2415.9V2477.4M1575.3 2415.9V2477.4M1584.3 2415.9V2477.4M1570.4 2415.9V2477.4M1608.1 2415.9V2477.4M1603.5 2415.9V2477.4M1604.0 2415.9V2477.4M1571.1 2415.9V2477.4M1592.8 2415.9V2477.4M1573.4 2415.9V2477.4M1604.2 2415.9V2477.4M1601.6 2415.9V2477.4M1615.9 2415.9V2477.4M1599.5 2415.9V2477.4M1598.1 2415.9V2477.4M1603.4 2415.9V2477.4M1564.2 2415.9V2477.4M1593.0 2415.9V2477.4M1560.7 2415.9V2477.4M1579.9 2415.9V2477.4M1565.5 2415.9V2477.4M1613.3 2415.9V2477.4M1560.4 2415.9V2477.4M1611.7 2415.9V2477.4M1613.2 2415.9V2477.4M1583.8 2415.9V2477.4M1606.6 2415.9V2477.4M1561.8 2415.9V2477.4M1566.8 2415.9V2477.4M1559.4 2415.9V2477.4M1562.7 2415.9V2477.4M1558.9 2415.9V2477.4M1606.4 2415.9V2477.4M1563.8 2415.9V2477.4M1592.7 2415.9V2477.4M1574.5 2415.9V2477.4M1566.4 2415.9V2477.4M1582.9 2415.9V2477.4M1569.2 2415.9V2477.4M1614.9 2415.9V2477.4M1580.8 2415.9V2477.4M1592.9 2415.9V2477.4M1591.2 2415.9V2477.4M1594.8 2415.9V2477.4M1586.4 2415.9V2477.4M1574.3 2415.9V2477.4M1566.6 2415.9V2477.4M1609.8 2415.9V2477.4M1569.8 2415.9V2477.4M1584.5 2415.9V2477.4M1605.2 2415.9V2477.4M1591.9 2415.9V2477.4M1613.2 2415.9V2477.4M1605.3 2415.9V2477.4M1588.3 2415.9V2477.4M1565.7 2415.9V2477.4M1592.8 2415.9V2477.4M1586.0 2415.9V2477.4M1608.3 2415.9V2477.4M1589.3 2415.9V2477.4M1598.7 2415.9V2477.4M1605.4 2415.9V2477.4M1585.8 2415.9V2477.4M1607.1 2415.9V2477.4M1610.4 2415.9V2477.4M1567.7 2415.9V2477.4M1611.6 2415.9V2477.4M1608.7 2415.9V2477.4M1607.9 2415.9V2477.4M1578.2 2415.9V2477.4M1573.3 2415.9V2477.4M1566.4 2415.9V2477.4M1580.1 2415.9V2477.4M1607.9 2415.9V2477.4M1579.6 2415.9V2477.4M1559.1 2415.9V2477.4M1576.3 2415.9V2477.4M1563.5 2415.9V2477.4M1594.5 2415.9V2477.4M1602.9 2415.9V2477.4M1612.0 2415.9V2477.4M1563.9 2415.9V2477.4M1580.6 2415.9V2477.4M1566.0 2415.9V2477.4M1690.6 2415.9V2477.4M1684.9 2415.9V2477.4M1660.5 2415.9V2477.4M1693.9 2415.9V2477.4M1660.5 2415.9V2477.4M1680.3 2415.9V2477.4M1658.0 2415.9V2477.4M1648.5 2415.9V2477.4M1697.1 2415.9V2477.4M1685.3 2415.9V2477.4M1666.0 2415.9V2477.4M1687.3 2415.9V2477.4M1670.5 2415.9V2477.4M1681.9 2415.9V2477.4M1625.6 2415.9V2477.4M1630.6 2415.9V2477.4M1628.9 2415.9V2477.4M1666.9 2415.9V2477.4M1675.9 2415.9V2477.4M1632.4 2415.9V2477.4M1659.4 2415.9V2477.4M1629.2 2415.9V2477.4M1673.4 2415.9V2477.4M1680.5 2415.9V2477.4M1627.1 2415.9V2477.4M1695.9 2415.9V2477.4M1671.7 2415.9V2477.4M1630.1 2415.9V2477.4M1647.5 2415.9V2477.4M1632.6 2415.9V2477.4M1676.5 2415.9V2477.4M1691.1 2415.9V2477.4M1633.9 2415.9V2477.4M1634.6 2415.9V2477.4M1668.9 2415.9V2477.4M1686.7 2415.9V2477.4M1677.4 2415.9V2477.4M1655.7 2415.9V2477.4M1628.9 2415.9V2477.4M1667.8 2415.9V2477.4M1655.5 2415.9V2477.4M1682.4 2415.9V2477.4M1664.5 2415.9V2477.4M1677.0 2415.9V2477.4M1695.3 2415.9V2477.4M1668.7 2415.9V2477.4M1690.7 2415.9V2477.4M1641.5 2415.9V2477.4M1620.5 2415.9V2477.4M1688.4 2415.9V2477.4M1622.7 2415.9V2477.4M1697.0 2415.9V2477.4M1655.5 2415.9V2477.4M1625.2 2415.9V2477.4M1641.6 2415.9V2477.4M1676.0 2415.9V2477.4M1650.0 2415.9V2477.4M1668.5 2415.9V2477.4M1628.3 2415.9V2477.4M1684.8 2415.9V2477.4M1649.2 2415.9V2477.4M1684.6 2415.9V2477.4M1631.8 2415.9V2477.4M1671.8 2415.9V2477.4M1656.6 2415.9V2477.4M1651.6 2415.9V2477.4M1621.9 2415.9V2477.4M1661.4 2415.9V2477.4M1685.0 2415.9V2477.4M1628.4 2415.9V2477.4M1654.8 2415.9V2477.4M1621.4 2415.9V2477.4M1697.0 2415.9V2477.4M1695.1 2415.9V2477.4M1672.7 2415.9V2477.4M1657.4 2415.9V2477.4M1625.9 2415.9V2477.4M1629.8 2415.9V2477.4M1674.8 2415.9V2477.4M1681.6 2415.9V2477.4M1696.6 2415.9V2477.4M1686.8 2415.9V2477.4M1654.2 2415.9V2477.4M1640.1 2415.9V2477.4M1662.2 2415.9V2477.4M1647.1 2415.9V2477.4M1662.4 2415.9V2477.4M1688.6 2415.9V2477.4M1655.3 2415.9V2477.4M1696.0 2415.9V2477.4M1675.8 2415.9V2477.4M1624.0 2415.9V2477.4M1678.0 2415.9V2477.4M1671.4 2415.9V2477.4M1668.4 2415.9V2477.4M1620.7 2415.9V2477.4M1688.2 2415.9V2477.4M1658.6 2415.9V2477.4M1661.8 2415.9V2477.4M1633.6 2415.9V2477.4M1623.2 2415.9V2477.4M1621.5 2415.9V2477.4M1636.6 2415.9V2477.4M1643.9 2415.9V2477.4M1632.3 2415.9V2477.4M1624.9 2415.9V2477.4M1676.5 2415.9V2477.4M1674.6 2415.9V2477.4M1688.4 2415.9V2477.4M1637.2 2415.9V2477.4M1676.6 2415.9V2477.4M1666.2 2415.9V2477.4M1627.4 2415.9V2477.4M1687.9 2415.9V2477.4M1648.0 2415.9V2477.4" stroke="#111" stroke-width="1" fill="none"/>
<path d="M1351.4 2477.4V2493.4M1353.2 2477.4V2493.4M1332.6 2477.4V2493.4M1319.0 2477.4V2493.4M1303.0 2477.4V2493.4M1343.5 2477.4V2493.4M1331.7 2477.4V2493.4M1349.4 2477.4V2493.4M1325.8 2477.4V2493.4M1350.0 2477.4V2493.4M1319.6 2477.4V2493.4M1352.0 2477.4V2493.4M1347.6 2477.4V2493.4M1328.3 2477.4V2493.4M1335.9 2477.4V2493.4M1344.6 2477.4V2493.4M1314.8 2477.4V2493.4M1336.8 2477.4V2493.4M1352.2 2477.4V2493.4M1319.2 2477.4V2493.4M1352.0 2477.4V2493.4M1344.9 2477.4V2493.4M1354.5 2477.4V2493.4M1323.5 2477.4V2493.4M1308.7 2477.4V2493.4M1351.9 2477.4V2493.4M1352.1 2477.4V2493.4M1330.2 2477.4V2493.4M1308.7 2477.4V2493.4M1315.0 2477.4V2493.4M1341.8 2477.4V2493.4M1320.8 2477.4V2493.4M1361.1 2477.4V2493.4M1338.9 2477.4V2493.4M1315.2 2477.4V2493.4M1343.0 2477.4V2493.4M1325.0 2477.4V2493.4M1359.9 2477.4V2493.4M1358.5 2477.4V2493.4M1334.4 2477.4V2493.4M1342.3 2477.4V2493.4M1345.6 2477.4V2493.4M1352.2 2477.4V2493.4M1362.6 2477.4V2493.4M1304.7 2477.4V2493.4M1325.0 2477.4V2493.4M1339.7 2477.4V2493.4M1321.6 2477.4V2493.4M1339.0 2477.4V2493.4M1308.5 2477.4V2493.4M1356.7 2477.4V2493.4M1335.1 2477.4V2493.4M1310.1 2477.4V2493.4M1343.5 2477.4V2493.4M1322.1 2477.4V2493.4M1315.0 2477.4V2493.4M1332.5 2477.4V2493.4M1311.4 2477.4V2493.4M1315.8 2477.4V2493.4M1355.8 2477.4V2493.4M1345.6 2477.4V2493.4M1303.7 2477.4V2493.4M1350.5 2477.4V2493.4M1304.0 2477.4V2493.4M1323.3 2477.4V2493.4M1358.2 2477.4V2493.4M1340.9 2477.4V2493.4M1321.7 2477.4V2493.4M1326.0 2477.4V2493.4M1326.7 2477.4V2493.4M1310.7 2477.4V2493.4M1364.0 2477.4V2493.4M1306.3 2477.4V2493.4M1328.8 2477.4V2493.4M1348.6 2477.4V2493.4M1327.3 2477.4V2493.4M1362.9 2477.4V2493.4M1318.0 2477.4V2493.4M1362.8 2477.4V2493.4M1357.5 2477.4V2493.4M1343.9 2477.4V2493.4M1357.3 2477.4V2493.4M1330.3 2477.4V2493.4M1353.8 2477.4V2493.4M1351.6 2477.4V2493.4M1334.5 2477.4V2493.4M1331.7 2477.4V2493.4M1346.1 2477.4V2493.4M1328.0 2477.4V2493.4M1308.2 2477.4V2493.4M1348.6 2477.4V2493.4M1319.2 2477.4V2493.4M1332.8 2477.4V2493.4M1350.9 2477.4V2493.4M1313.5 2477.4V2493.4M1304.3 2477.4V2493.4M1310.5 2477.4V2493.4M1339.0 2477.4V2493.4M1325.0 2477.4V2493.4M1318.6 2477.4V2493.4M1330.6 2477.4V2493.4M1359.6 2477.4V2493.4M1318.5 2477.4V2493.4M1328.1 2477.4V2493.4M1356.7 2477.4V2493.4M1340.4 2477.4V2493.4M1319.3 2477.4V2493.4M1332.0 2477.4V2493.4M1332.2 2477.4V2493.4M1311.7 2477.4V2493.4M1326.0 2477.4V2493.4M1321.6 2477.4V2493.4M1352.1 2477.4V2493.4M1322.7 2477.4V2493.4M1343.2 2477.4V2493.4M1362.3 2477.4V2493.4M1359.4 2477.4V2493.4M1325.9 2477.4V2493.4M1339.8 2477.4V2493.4M1322.5 2477.4V2493.4M1327.3 2477.4V2493.4M1332.8 2477.4V2493.4M1351.4 2477.4V2493.4M1360.2 2477.4V2493.4M1320.7 2477.4V2493.4M1303.4 2477.4V2493.4M1330.4 2477.4V2493.4M1306.5 2477.4V2493.4M1304.8 2477.4V2493.4M1350.2 2477.4V2493.4M1309.8 2477.4V2493.4M1346.9 2477.4V2493.4M1325.1 2477.4V2493.4M1360.3 2477.4V2493.4M1355.1 2477.4V2493.4M1306.8 2477.4V2493.4M1314.7 2477.4V2493.4M1360.8 2477.4V2493.4M1340.4 2477.4V2493.4M1328.8 2477.4V2493.4M1350.8 2477.4V2493.4M1352.7 2477.4V2493.4M1333.0 2477.4V2493.4M1331.6 2477.4V2493.4M1309.1 2477.4V2493.4M1325.1 2477.4V2493.4M1311.8 2477.4V2493.4M1341.2 2477.4V2493.4M1340.0 2477.4V2493.4M1311.8 2477.4V2493.4M1341.3 2477.4V2493.4M1308.9 2477.4V2493.4M1309.4 2477.4V2493.4M1342.4 2477.4V2493.4M1331.2 2477.4V2493.4M1357.9 2477.4V2493.4M1341.4 2477.4V2493.4M1345.8 2477.4V2493.4M1389.9 2477.4V2493.4M1416.6 2477.4V2493.4M1388.2 2477.4V2493.4M1408.5 2477.4V2493.4M1419.5 2477.4V2493.4M1419.4 2477.4V2493.4M1418.9 2477.4V2493.4M1402.2 2477.4V2493.4M1411.3 2477.4V2493.4M1415.0 2477.4V2493.4M1390.3 2477.4V2493.4M1420.8 2477.4V2493.4M1419.4 2477.4V2493.4M1401.7 2477.4V2493.4M1414.5 2477.4V2493.4M1402.0 2477.4V2493.4M1395.5 2477.4V2493.4M1462.3 2477.4V2493.4M1440.4 2477.4V2493.4M1465.2 2477.4V2493.4M1471.2 2477.4V2493.4M1447.9 2477.4V2493.4M1469.9 2477.4V2493.4M1441.1 2477.4V2493.4M1467.2 2477.4V2493.4M1447.7 2477.4V2493.4M1470.8 2477.4V2493.4M1452.8 2477.4V2493.4M1469.3 2477.4V2493.4M1439.4 2477.4V2493.4M1441.2 2477.4V2493.4M1465.8 2477.4V2493.4M1459.8 2477.4V2493.4M1456.3 2477.4V2493.4M1439.4 2477.4V2493.4M1444.1 2477.4V2493.4M1450.8 2477.4V2493.4M1440.1 2477.4V2493.4M1508.4 2477.4V2493.4M1516.8 2477.4V2493.4M1526.0 2477.4V2493.4M1530.8 2477.4V2493.4M1550.4 2477.4V2493.4M1553.2 2477.4V2493.4M1615.8 2477.4V2493.4M1602.7 2477.4V2493.4M1613.3 2477.4V2493.4M1599.0 2477.4V2493.4M1578.5 2477.4V2493.4M1563.2 2477.4V2493.4M1600.8 2477.4V2493.4M1565.3 2477.4V2493.4M1590.2 2477.4V2493.4M1585.4 2477.4V2493.4M1587.2 2477.4V2493.4M1563.1 2477.4V2493.4M1563.0 2477.4V2493.4M1588.7 2477.4V2493.4M1560.5 2477.4V2493.4M1589.0 2477.4V2493.4M1567.4 2477.4V2493.4M1575.0 2477.4V2493.4M1567.5 2477.4V2493.4M1591.4 2477.4V2493.4M1581.1 2477.4V2493.4M1571.6 2477.4V2493.4M1571.5 2477.4V2493.4M1591.2 2477.4V2493.4M1611.1 2477.4V2493.4M1582.9 2477.4V2493.4M1568.2 2477.4V2493.4M1577.0 2477.4V2493.4M1572.6 2477.4V2493.4M1591.7 2477.4V2493.4M1604.0 2477.4V2493.4M1591.5 2477.4V2493.4M1569.6 2477.4V2493.4M1577.5 2477.4V2493.4M1580.7 2477.4V2493.4M1584.1 2477.4V2493.4M1581.6 2477.4V2493.4M1616.1 2477.4V2493.4M1590.4 2477.4V2493.4M1596.8 2477.4V2493.4M1599.9 2477.4V2493.4M1595.8 2477.4V2493.4M1605.0 2477.4V2493.4M1580.2 2477.4V2493.4M1597.1 2477.4V2493.4M1614.7 2477.4V2493.4M1568.2 2477.4V2493.4M1594.7 2477.4V2493.4M1580.9 2477.4V2493.4M1562.3 2477.4V2493.4M1561.1 2477.4V2493.4M1602.4 2477.4V2493.4M1565.4 2477.4V2493.4M1599.6 2477.4V2493.4M1564.5 2477.4V2493.4M1579.9 2477.4V2493.4M1560.6 2477.4V2493.4M1590.0 2477.4V2493.4M1604.0 2477.4V2493.4M1571.7 2477.4V2493.4M1591.3 2477.4V2493.4M1611.8 2477.4V2493.4M1575.6 2477.4V2493.4M1585.8 2477.4V2493.4M1600.4 2477.4V2493.4M1608.4 2477.4V2493.4M1568.5 2477.4V2493.4M1596.8 2477.4V2493.4M1565.7 2477.4V2493.4M1565.2 2477.4V2493.4M1615.3 2477.4V2493.4M1561.7 2477.4V2493.4M1611.6 2477.4V2493.4M1601.9 2477.4V2493.4M1597.6 2477.4V2493.4M1600.7 2477.4V2493.4M1596.2 2477.4V2493.4M1575.3 2477.4V2493.4M1584.3 2477.4V2493.4M1570.4 2477.4V2493.4M1608.1 2477.4V2493.4M1603.5 2477.4V2493.4M1604.0 2477.4V2493.4M1571.1 2477.4V2493.4M1592.8 2477.4V2493.4M1573.4 2477.4V2493.4M1604.2 2477.4V2493.4M1601.6 2477.4V2493.4M1615.9 2477.4V2493.4M1599.5 2477.4V2493.4M1598.1 2477.4V2493.4M1603.4 2477.4V2493.4M1564.2 2477.4V2493.4M1593.0 2477.4V2493.4M1560.7 2477.4V2493.4M1579.9 2477.4V2493.4M1565.5 2477.4V2493.4M1613.3 2477.4V2493.4M1560.4 2477.4V2493.4M1611.7 2477.4V2493.4M1613.2 2477.4V2493.4M1583.8 2477.4V2493.4M1606.6 2477.4V2493.4M1561.8 2477.4V2493.4M1566.8 2477.4V2493.4M1559.4 2477.4V2493.4M1562.7 2477.4V2493.4M1558.9 2477.4V2493.4M1606.4 2477.4V2493.4M1563.8 2477.4V2493.4M1592.7 2477.4V2493.4M1574.5 2477.4V2493.4M1566.4 2477.4V2493.4M1582.9 2477.4V2493.4M1569.2 2477.4V2493.4M1614.9 2477.4V2493.4M1580.8 2477.4V2493.4M1592.9 2477.4V2493.4M1591.2 2477.4V2493.4M1594.8 2477.4V2493.4M1586.4 2477.4V2493.4M1574.3 2477.4V2493.4M1566.6 2477.4V2493.4M1609.8 2477.4V2493.4M1569.8 2477.4V2493.4M1584.5 2477.4V2493.4M1605.2 2477.4V2493.4M1591.9 2477.4V2493.4M1613.2 2477.4V2493.4M1605.3 2477.4V2493.4M1588.3 2477.4V2493.4M1565.7 2477.4V2493.4M1592.8 2477.4V2493.4M1586.0 2477.4V2493.4M1608.3 2477.4V2493.4M1589.3 2477.4V2493.4M1598.7 2477.4V2493.4M1605.4 2477.4V2493.4M1585.8 2477.4V2493.4M1607.1 2477.4V2493.4M1610.4 2477.4V2493.4M1567.7 2477.4V2493.4M1611.6 2477.4V2493.4M1608.7 2477.4V2493.4M1607.9 2477.4V2493.4M1578.2 2477.4V2493.4M1573.3 2477.4V2493.4M1566.4 2477.4V2493.4M1580.1 2477.4V2493.4M1607.9 2477.4V2493.4M1579.6 2477.4V2493.4M1559.1 2477.4V2493.4M1576.3 2477.4V2493.4M1563.5 2477.4V2493.4M1594.5 2477.4V2493.4M1602.9 2477.4V2493.4M1612.0 2477.4V2493.4M1563.9 2477.4V2493.4M1580.6 2477.4V2493.4M1566.0 2477.4V2493.4M1690.6 2477.4V2493.4M1684.9 2477.4V2493.4M1660.5 2477.4V2493.4M1693.9 2477.4V2493.4M1660.5 2477.4V2493.4M1680.3 2477.4V2493.4M1658.0 2477.4V2493.4M1648.5 2477.4V2493.4M1697.1 2477.4V2493.4M1685.3 2477.4V2493.4M1666.0 2477.4V2493.4M1687.3 2477.4V2493.4M1670.5 2477.4V2493.4M1681.9 2477.4V2493.4M1625.6 2477.4V2493.4M1630.6 2477.4V2493.4M1628.9 2477.4V2493.4M1666.9 2477.4V2493.4M1675.9 2477.4V2493.4M1632.4 2477.4V2493.4M1659.4 2477.4V2493.4M1629.2 2477.4V2493.4M1673.4 2477.4V2493.4M1680.5 2477.4V2493.4M1627.1 2477.4V2493.4M1695.9 2477.4V2493.4M1671.7 2477.4V2493.4M1630.1 2477.4V2493.4M1647.5 2477.4V2493.4M1632.6 2477.4V2493.4M1676.5 2477.4V2493.4M1691.1 2477.4V2493.4M1633.9 2477.4V2493.4M1634.6 2477.4V2493.4M1668.9 2477.4V2493.4M1686.7 2477.4V2493.4M1677.4 2477.4V2493.4M1655.7 2477.4V2493.4M1628.9 2477.4V2493.4M1667.8 2477.4V2493.4M1655.5 2477.4V2493.4M1682.4 2477.4V2493.4M1664.5 2477.4V2493.4M1677.0 2477.4V2493.4M1695.3 2477.4V2493.4M1668.7 2477.4V2493.4M1690.7 2477.4V2493.4M1641.5 2477.4V2493.4M1620.5 2477.4V2493.4M1688.4 2477.4V2493.4M1622.7 2477.4V2493.4M1697.0 2477.4V2493.4M1655.5 2477.4V2493.4M1625.2 2477.4V2493.4M1641.6 2477.4V2493.4M1676.0 2477.4V2493.4M1650.0 2477.4V2493.4M1668.5 2477.4V2493.4M1628.3 2477.4V2493.4M1684.8 2477.4V2493.4M1649.2 2477.4V2493.4M1684.6 2477.4V2493.4M1631.8 2477.4V2493.4M1671.8 2477.4V2493.4M1656.6 2477.4V2493.4M1651.6 2477.4V2493.4M1621.9 2477.4V2493.4M1661.4 2477.4V2493.4M1685.0 2477.4V2493.4M1628.4 2477.4V2493.4M1654.8 2477.4V2493.4M1621.4 2477.4V2493.4M1697.0 2477.4V2493.4M1695.1 2477.4V2493.4M1672.7 2477.4V2493.4M1657.4 2477.4V2493.4M1625.9 2477.4V2493.4M1629.8 2477.4V2493.4M1674.8 2477.4V2493.4M1681.6 2477.4V2493.4M1696.6 2477.4V2493.4M1686.8 2477.4V2493.4M1654.2 2477.4V2493.4M1640.1 2477.4V2493.4M1662.2 2477.4V2493.4M1647.1 2477.4V2493.4M1662.4 2477.4V2493.4M1688.6 2477.4V2493.4M1655.3 2477.4V2493.4M1696.0 2477.4V2493.4M1675.8 2477.4V2493.4M1624.0 2477.4V2493.4M1678.0 2477.4V2493.4M1671.4 2477.4V2493.4M1668.4 2477.4V2493.4M1620.7 2477.4V2493.4M1688.2 2477.4V2493.4M1658.6 2477.4V2493.4M1661.8 2477.4V2493.4M1633.6 2477.4V2493.4M1623.2 2477.4V2493.4M1621.5 2477.4V2493.4M1636.6 2477.4V2493.4M1643.9 2477.4V2493.4M1632.3 2477.4V2493.4M1624.9 2477.4V2493.4M1676.5 2477.4V2493.4M1674.6 2477.4V2493.4M1688.4 2477.4V2493.4M1637.2 2477.4V2493.4M1676.6 2477.4V2493.4M1666.2 2477.4V2493.4M1627.4 2477.4V2493.4M1687.9 2477.4V2493.4M1648.0 2477.4V2493.4" stroke="#301030" stroke-opacity="0.06" stroke-width="1" fill="none"/>
<line x1="1302.4" y1="2315.2" x2="1722.2" y2="2315.2" stroke="#b0b0b2" stroke-width="1.1"/>
<line x1="1302.4" y1="2414.3" x2="1722.2" y2="2414.3" stroke="#bdbdbd" stroke-width="1.3"/>
<line x1="1302.4" y1="2477.4" x2="1722.2" y2="2477.4" stroke="#bdbdbd" stroke-width="1"/>
<path d="M1302.4 2224.7H1722.2M1302.4 2493.4H1722.2" fill="none" stroke="#bcbcbe" stroke-width="1.3"/>
<path d="M1302.4 2224.7V2493.4M1722.2 2224.7V2493.4" fill="none" stroke="#94949a" stroke-width="1.1"/>
<polyline points="1302.4,2315.2 1302.9,2313.9 1302.5,2312.4 1303.6,2309.9 1303.8,2309.0 1303.5,2307.6 1304.0,2305.4 1304.5,2304.1 1304.7,2302.3 1305.8,2300.6 1306.5,2299.1 1307.5,2298.1 1307.5,2296.3 1307.6,2294.4 1308.6,2292.4 1308.5,2290.5 1309.1,2288.8 1309.1,2287.4 1310.4,2288.5 1312.2,2289.1 1313.6,2287.9 1315.1,2286.7 1316.4,2285.5 1318.5,2285.1 1320.6,2285.5 1320.7,2283.3 1321.2,2281.6 1322.2,2279.6 1321.8,2277.8 1322.6,2276.2 1325.4,2277.1 1325.5,2275.7 1326.8,2274.0 1327.2,2272.2 1327.2,2270.4 1327.9,2268.6 1328.2,2267.2 1328.6,2265.5 1329.1,2264.3 1329.4,2261.8 1329.7,2260.8 1330.1,2258.4 1330.0,2257.2 1331.0,2255.5 1331.3,2253.8 1331.8,2251.8 1331.8,2250.4 1333.1,2248.8 1333.3,2246.4 1334.6,2244.8 1335.2,2243.7 1336.4,2241.6 1337.3,2240.4 1338.2,2239.0 1338.2,2237.7 1339.4,2236.4 1340.2,2235.0 1342.1,2234.0 1343.8,2233.3 1345.8,2233.1 1348.2,2233.2 1349.4,2233.1 1351.4,2233.6 1353.4,2232.8 1354.8,2233.2 1357.1,2232.8 1359.2,2234.1 1361.3,2235.0 1363.0,2236.0 1364.3,2237.7 1365.8,2238.6 1367.1,2239.2 1368.0,2240.9 1369.7,2242.0 1371.0,2243.1 1372.3,2243.9 1373.5,2245.0 1375.0,2246.0 1376.4,2247.2 1377.5,2248.3 1379.1,2249.2 1380.0,2250.5 1381.4,2251.6 1382.8,2252.4 1384.4,2253.2 1385.7,2254.4 1387.0,2255.8 1388.3,2256.5 1389.7,2257.6 1390.6,2258.6 1392.1,2259.7 1393.1,2260.8 1394.6,2261.7 1396.1,2262.7 1396.9,2263.8 1398.2,2264.8 1399.7,2265.7 1401.1,2266.5 1402.2,2267.6 1403.4,2268.5 1404.7,2269.9 1406.4,2270.8 1407.5,2271.5 1408.5,2272.9 1410.1,2273.5 1411.5,2275.0 1412.2,2275.7 1414.0,2276.7 1414.8,2277.8 1416.3,2278.9 1417.4,2279.8 1418.7,2281.1 1420.1,2281.8 1421.6,2283.1 1422.4,2283.7 1424.1,2284.9 1425.4,2286.0 1426.2,2286.7 1427.9,2287.8 1429.0,2289.0 1430.0,2289.7 1431.6,2290.7 1432.7,2291.9 1433.9,2292.8 1435.5,2294.1 1436.6,2295.0 1438.2,2296.1 1439.0,2297.1 1440.5,2298.1 1441.7,2299.1 1442.8,2300.3 1444.5,2301.3 1445.8,2302.5 1446.8,2303.2 1448.1,2304.2 1449.5,2305.1 1450.6,2306.3 1451.7,2307.6 1453.5,2308.3 1454.6,2309.2 1455.7,2310.1 1456.9,2311.2 1458.2,2312.5 1459.8,2313.2 1460.6,2314.5 1462.4,2315.5 1463.4,2316.7 1464.5,2317.2 1465.9,2318.5 1467.0,2319.6 1468.6,2320.7 1469.7,2321.3 1470.9,2322.4 1472.2,2323.7 1473.5,2324.9 1474.7,2325.8 1476.1,2326.6 1477.3,2327.9 1478.5,2328.7 1479.8,2329.8 1481.3,2330.9 1482.4,2331.6 1483.7,2333.0 1485.0,2333.6 1486.1,2334.8 1487.8,2335.9 1489.0,2336.6 1490.1,2337.7 1491.3,2339.1 1492.9,2339.8 1494.2,2340.7 1495.4,2341.9 1496.5,2343.2 1497.9,2344.1 1499.1,2345.1 1500.5,2346.1 1501.5,2347.1 1502.8,2347.9 1504.2,2349.1 1505.2,2350.3 1506.7,2351.1 1507.8,2352.1 1509.5,2353.2 1510.6,2354.2 1511.5,2354.9 1512.8,2356.3 1514.5,2357.5 1515.7,2358.4 1516.7,2359.0 1518.3,2360.1 1519.5,2361.5 1520.5,2362.5 1521.9,2363.4 1523.2,2364.5 1524.6,2365.6 1525.9,2366.6 1527.2,2367.4 1528.4,2368.4 1529.4,2369.2 1530.8,2370.4 1532.2,2371.5 1533.0,2372.7 1534.6,2373.5 1536.5,2374.9 1537.3,2375.6 1538.2,2376.2 1540.0,2377.2 1541.4,2378.3 1542.2,2380.0 1543.5,2381.0 1544.6,2381.8 1546.3,2382.6 1547.5,2384.2 1549.0,2384.9 1550.1,2385.8 1551.7,2387.1 1553.1,2388.3 1554.7,2389.2 1556.0,2390.6 1557.7,2391.4 1558.4,2392.6 1560.2,2393.9 1561.9,2394.7 1562.8,2395.6 1564.0,2396.2 1566.2,2397.2 1567.4,2397.7 1568.6,2398.9 1569.9,2399.9 1571.5,2400.1 1573.3,2400.4 1575.3,2400.4 1577.0,2401.2 1578.8,2401.2 1580.8,2400.5 1582.6,2399.8 1584.0,2400.9 1586.3,2401.2 1588.2,2401.7 1589.8,2401.9 1591.3,2402.9 1593.7,2403.3 1595.4,2403.6 1596.6,2404.0 1598.2,2403.5 1599.7,2402.4 1601.4,2402.3 1603.6,2401.7 1605.8,2401.2 1607.1,2400.7 1608.4,2400.2 1610.6,2399.5 1611.4,2397.3 1612.0,2396.1 1612.0,2393.9 1612.6,2392.8 1613.3,2390.6 1613.4,2389.1 1614.9,2390.3 1617.4,2390.5 1618.9,2390.9 1620.4,2391.9 1622.1,2391.2 1622.9,2389.4 1625.1,2388.1 1626.3,2387.3 1627.7,2386.0 1628.8,2384.9 1630.7,2383.6 1631.6,2381.6 1633.5,2382.0 1635.6,2383.5 1636.9,2383.2 1638.6,2384.4 1639.3,2383.0 1640.6,2381.9 1641.1,2380.0 1642.0,2379.0 1642.8,2377.3 1643.3,2376.0 1644.2,2374.3 1645.8,2373.8 1647.4,2373.9 1649.0,2373.8 1651.3,2373.2 1652.5,2372.1 1654.1,2369.9 1655.9,2369.1 1656.9,2367.6 1658.4,2366.8 1660.1,2365.3 1661.1,2364.3 1662.1,2362.7 1663.7,2362.3 1665.7,2361.2 1666.7,2359.7 1667.7,2358.2 1667.4,2356.3 1668.5,2354.6 1668.9,2353.0 1669.5,2351.3 1672.3,2352.7 1672.7,2350.6 1672.8,2348.7 1673.6,2347.3 1673.9,2345.4 1673.9,2343.5 1674.6,2342.1 1674.4,2340.7 1675.1,2338.7 1676.3,2337.0 1677.1,2336.3 1678.1,2334.9 1679.7,2333.5 1680.7,2331.7 1682.4,2330.6 1683.3,2329.3 1684.9,2327.5 1686.3,2327.5 1688.7,2326.9 1689.9,2326.7 1691.9,2326.1 1692.3,2324.3 1693.2,2322.9 1693.5,2321.4 1693.8,2319.6 1694.7,2317.7 1695.7,2316.2 1696.1,2314.6 1697.5,2313.5 1698.7,2313.8 1700.3,2315.2" fill="none" stroke="#60bb46" stroke-width="3.3" stroke-linejoin="round" stroke-linecap="round"/>
<text x="1294.1" y="2259.9" font-size="23" text-anchor="end" textLength="36.4" lengthAdjust="spacingAndGlyphs">0.2</text>
<line x1="1302.4" y1="2251.8" x2="1305.4" y2="2251.8" stroke="#cfcfcf" stroke-width="1"/>
<text x="1294.1" y="2291.6" font-size="23" text-anchor="end" textLength="30.7" lengthAdjust="spacingAndGlyphs">0.1</text>
<line x1="1302.4" y1="2283.5" x2="1305.4" y2="2283.5" stroke="#cfcfcf" stroke-width="1"/>
<text x="1294.1" y="2323.3" font-size="23" text-anchor="end" textLength="15.0" lengthAdjust="spacingAndGlyphs">0</text>
<line x1="1302.4" y1="2315.2" x2="1305.4" y2="2315.2" stroke="#cfcfcf" stroke-width="1"/>
<text x="1294.1" y="2354.6" font-size="23" text-anchor="end" textLength="41.8" lengthAdjust="spacingAndGlyphs">–0.1</text>
<line x1="1302.4" y1="2346.5" x2="1305.4" y2="2346.5" stroke="#cfcfcf" stroke-width="1"/>
<text x="1294.1" y="2386.0" font-size="23" text-anchor="end" textLength="45.8" lengthAdjust="spacingAndGlyphs">–0.2</text>
<line x1="1302.4" y1="2377.9" x2="1305.4" y2="2377.9" stroke="#cfcfcf" stroke-width="1"/>
<text x="1294.1" y="2417.7" font-size="23" text-anchor="end" textLength="45.8" lengthAdjust="spacingAndGlyphs">–0.3</text>
<line x1="1302.4" y1="2409.6" x2="1305.4" y2="2409.6" stroke="#cfcfcf" stroke-width="1"/>
<text transform="translate(1221.3 2359.0) rotate(-90)" font-size="27" text-anchor="middle" textLength="224.5" lengthAdjust="spacingAndGlyphs">Enrichment score</text>
<text x="1510.6" y="2171.4" font-size="27" text-anchor="middle" textLength="261.0" lengthAdjust="spacingAndGlyphs">Collagen-containing</text>
<text x="1512.5" y="2201.8" font-size="27" text-anchor="middle" textLength="250.2" lengthAdjust="spacingAndGlyphs">extracellular matrix</text>
<text x="1627.8" y="2259.4" font-size="24.5" textLength="80.3" lengthAdjust="spacingAndGlyphs"><tspan font-style="italic">P</tspan> = 1.0</text>
<text x="1300.8" y="2530.0" font-size="27" textLength="101.5" lengthAdjust="spacingAndGlyphs">KO-TAC</text>
<text x="1620.2" y="2530.0" font-size="27" textLength="102.7" lengthAdjust="spacingAndGlyphs">WT-TAC</text>
</svg>
</body></html>
